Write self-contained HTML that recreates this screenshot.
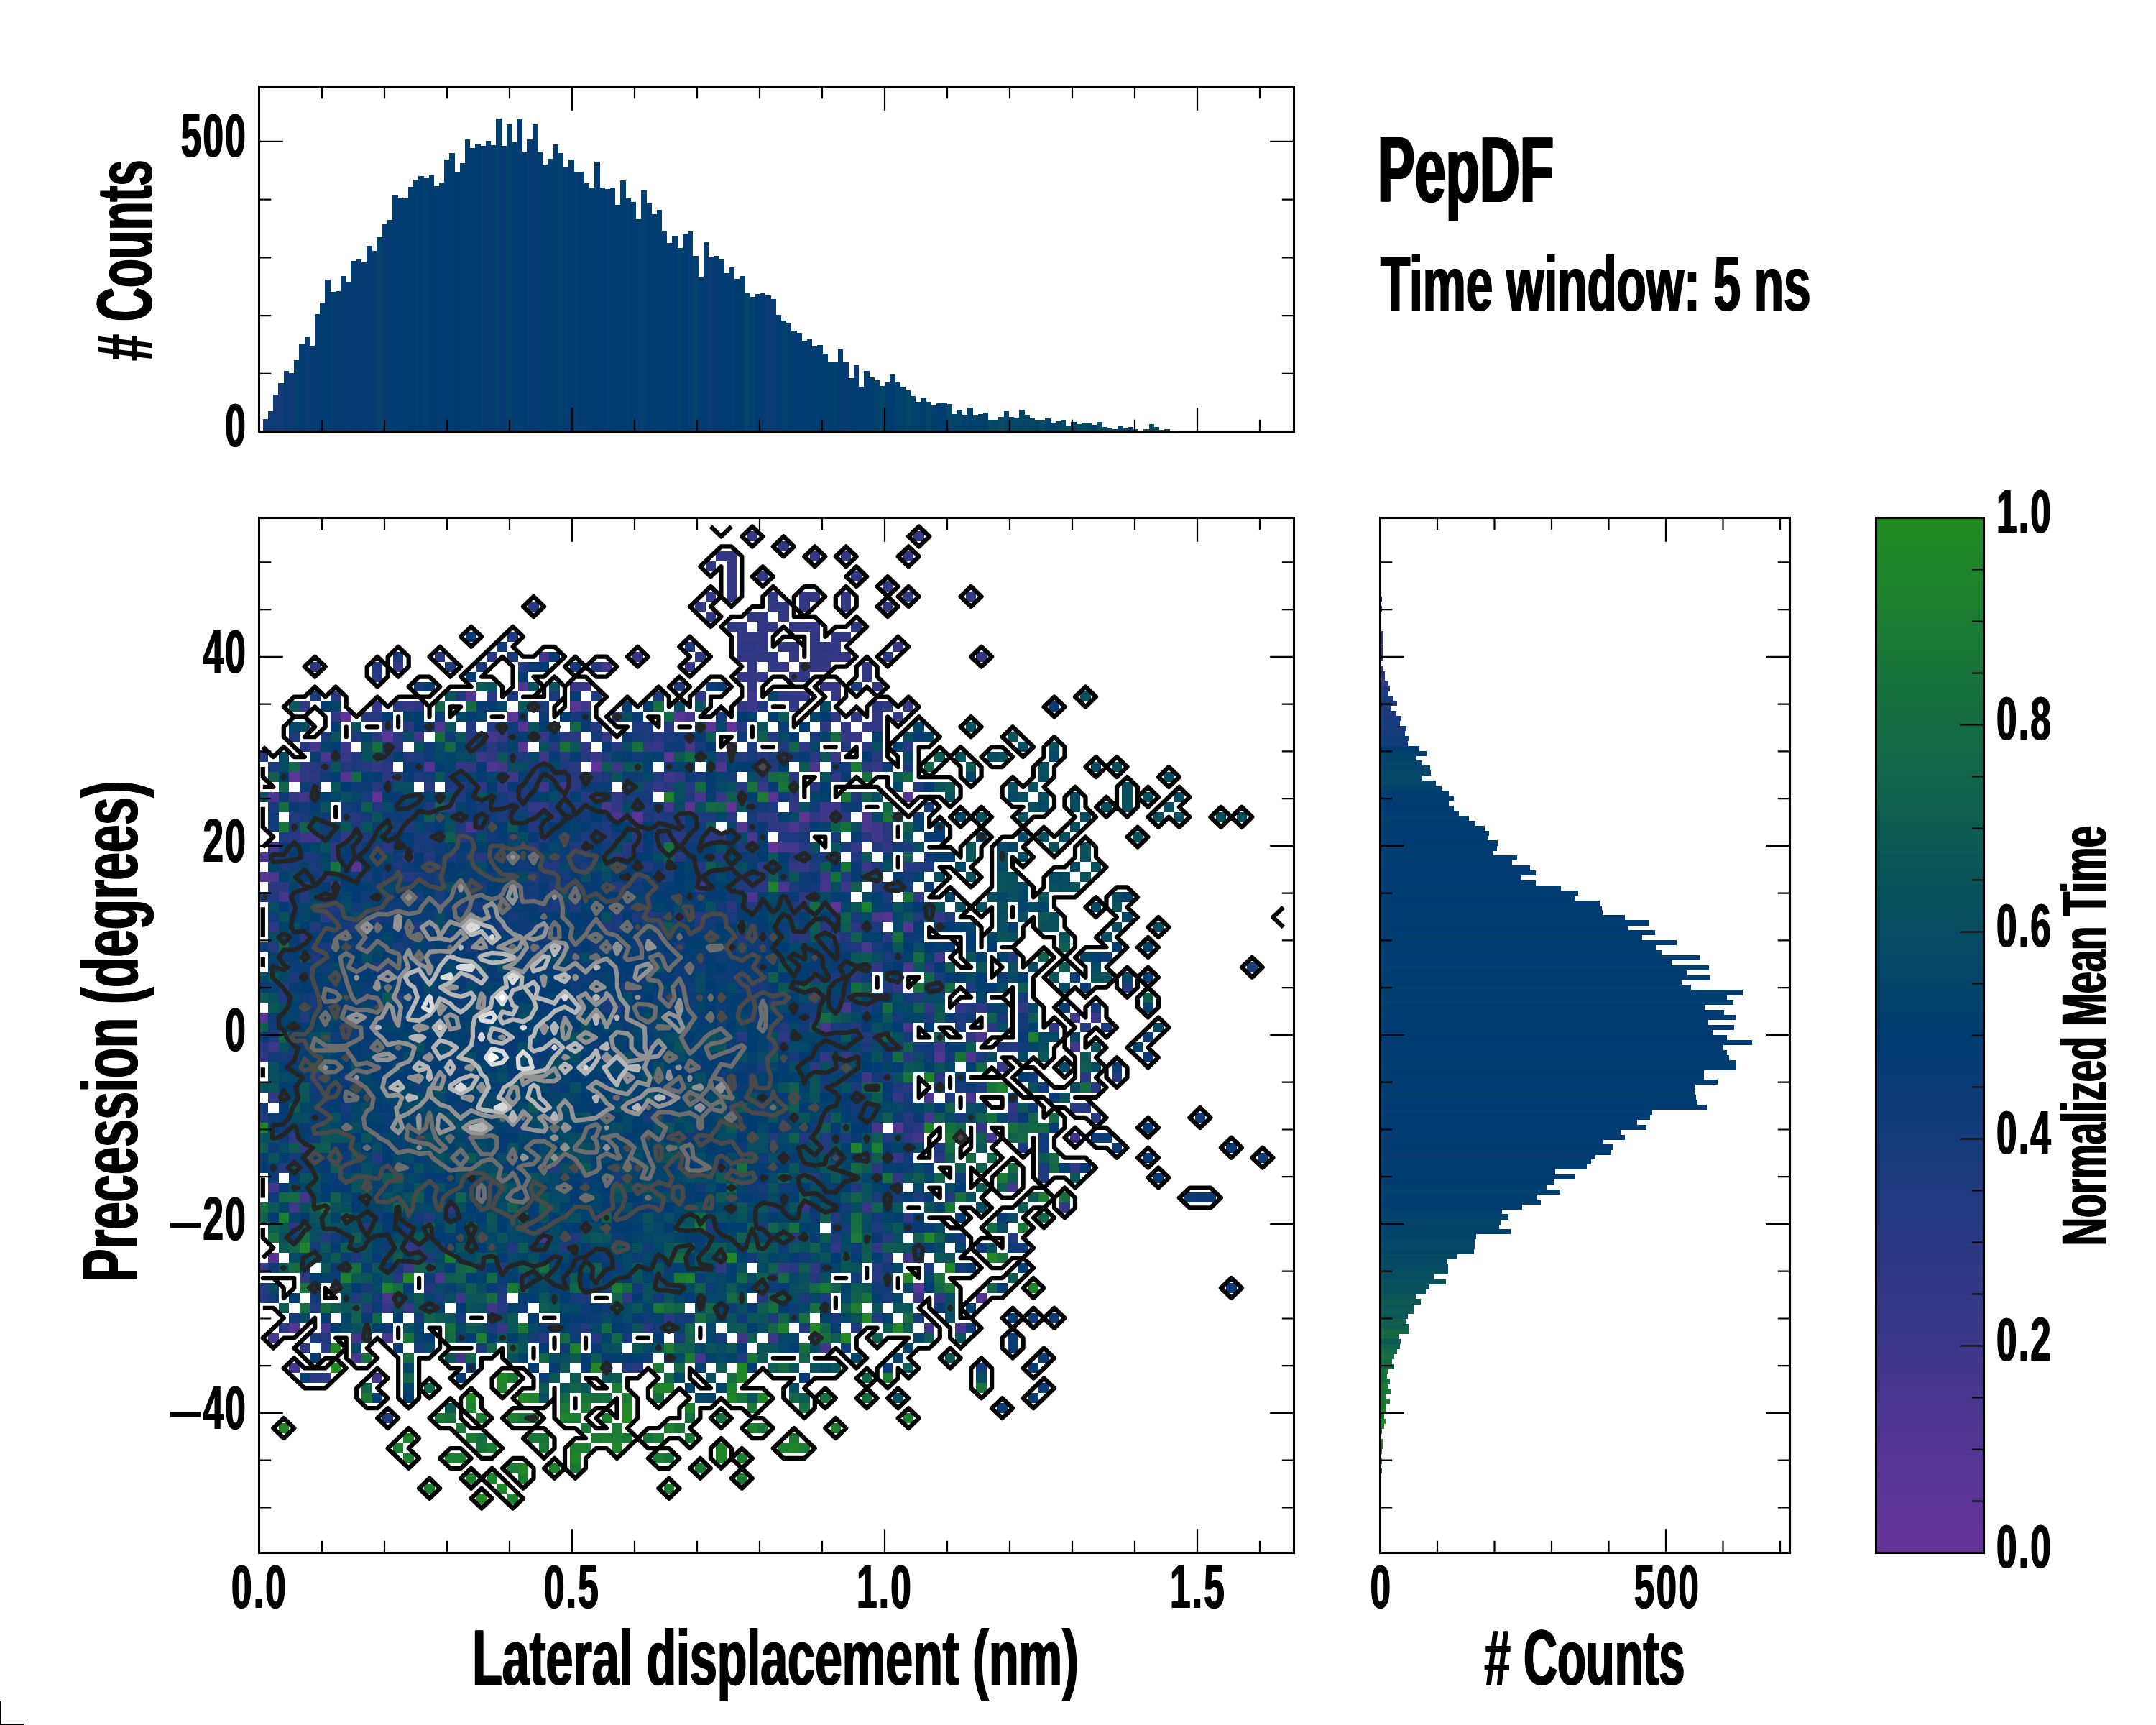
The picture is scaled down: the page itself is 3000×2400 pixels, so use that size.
<!DOCTYPE html>
<html><head><meta charset="utf-8"><title>PepDF</title>
<style>
html,body{margin:0;padding:0;background:#fff;width:3000px;height:2400px;overflow:hidden}
.m{display:inline-block;transform-origin:100% 50%;transform:translate(5px,7.6px) scale(1.58,0.734)}
.t{position:absolute;font-family:"Liberation Sans", sans-serif;font-weight:bold;color:#000;white-space:nowrap;transform-origin:0 0;margin:0;padding:0}
</style></head><body>
<svg width="3000" height="2400" viewBox="0 0 3000 2400" style="position:absolute;left:0;top:0">
<defs><clipPath id="cm"><rect x="360.5" y="720.5" width="1440" height="1440"/></clipPath><clipPath id="ct"><rect x="360.5" y="120.5" width="1440" height="480"/></clipPath><clipPath id="cr"><rect x="1920.5" y="720.5" width="570" height="1440"/></clipPath><linearGradient id="cg" x1="0" y1="1" x2="0" y2="0"><stop offset="0" stop-color="#663399"/><stop offset="0.5" stop-color="#003c71"/><stop offset="1" stop-color="#228b22"/></linearGradient></defs>
<g clip-path="url(#ct)" shape-rendering="crispEdges">
<rect x="365.8" y="582.5" width="7.5" height="18" fill="#103b77"/>
<rect x="373" y="571.5" width="7.5" height="29" fill="#0c3b76"/>
<rect x="380.2" y="548.6" width="7.5" height="51.9" fill="#113a78"/>
<rect x="387.4" y="532.7" width="7.5" height="67.8" fill="#133a78"/>
<rect x="394.6" y="515.9" width="7.5" height="84.6" fill="#0a3b75"/>
<rect x="401.8" y="518.8" width="7.5" height="81.7" fill="#0e3b77"/>
<rect x="409.1" y="500.8" width="7.5" height="99.7" fill="#02406d"/>
<rect x="416.3" y="478.8" width="7.5" height="121.7" fill="#013d70"/>
<rect x="423.5" y="468.9" width="7.5" height="131.6" fill="#093b74"/>
<rect x="430.7" y="480.8" width="7.5" height="119.7" fill="#023c72"/>
<rect x="437.9" y="436.7" width="7.5" height="163.8" fill="#053c73"/>
<rect x="445.1" y="420.8" width="7.5" height="179.7" fill="#013c72"/>
<rect x="452.3" y="388.9" width="7.5" height="211.6" fill="#003c71"/>
<rect x="459.5" y="405.7" width="7.5" height="194.8" fill="#013f6e"/>
<rect x="466.7" y="404.8" width="7.5" height="195.7" fill="#063b73"/>
<rect x="473.9" y="383.7" width="7.5" height="216.8" fill="#053c73"/>
<rect x="481.1" y="391.8" width="7.5" height="208.7" fill="#023c72"/>
<rect x="488.3" y="362.8" width="7.5" height="237.7" fill="#053c73"/>
<rect x="495.6" y="360.8" width="7.5" height="239.7" fill="#043c73"/>
<rect x="502.8" y="364.5" width="7.5" height="236" fill="#013d70"/>
<rect x="510" y="341.6" width="7.5" height="258.9" fill="#073b74"/>
<rect x="517.2" y="348.9" width="7.5" height="251.6" fill="#063b73"/>
<rect x="524.4" y="329.8" width="7.5" height="270.7" fill="#03436a"/>
<rect x="531.6" y="311.8" width="7.5" height="288.7" fill="#083b74"/>
<rect x="538.8" y="305.7" width="7.5" height="294.8" fill="#053c73"/>
<rect x="546" y="271.8" width="7.5" height="328.7" fill="#003c71"/>
<rect x="553.2" y="274.7" width="7.5" height="325.8" fill="#033c72"/>
<rect x="560.4" y="275.6" width="7.5" height="324.9" fill="#003d70"/>
<rect x="567.6" y="259.6" width="7.5" height="340.9" fill="#013c71"/>
<rect x="574.8" y="250" width="7.5" height="350.5" fill="#013f6e"/>
<rect x="582.1" y="244.8" width="7.5" height="355.7" fill="#013c71"/>
<rect x="589.3" y="247.4" width="7.5" height="353.1" fill="#013f6e"/>
<rect x="596.5" y="244" width="7.5" height="356.5" fill="#003c71"/>
<rect x="603.7" y="258.5" width="7.5" height="342" fill="#013c71"/>
<rect x="610.9" y="253.8" width="7.5" height="346.7" fill="#023c72"/>
<rect x="618.1" y="221.6" width="7.5" height="378.9" fill="#003c71"/>
<rect x="625.3" y="212.7" width="7.5" height="387.8" fill="#013e6f"/>
<rect x="632.5" y="239.6" width="7.5" height="360.9" fill="#013c71"/>
<rect x="639.7" y="226.6" width="7.5" height="373.9" fill="#013e6f"/>
<rect x="646.9" y="193.8" width="7.5" height="406.7" fill="#013e6f"/>
<rect x="654.1" y="206.3" width="7.5" height="394.2" fill="#003d70"/>
<rect x="661.4" y="199.9" width="7.5" height="400.6" fill="#013c71"/>
<rect x="668.6" y="202.5" width="7.5" height="398" fill="#043c73"/>
<rect x="675.8" y="195.8" width="7.5" height="404.7" fill="#043c73"/>
<rect x="683" y="201.6" width="7.5" height="398.9" fill="#013e6f"/>
<rect x="690.2" y="164.5" width="7.5" height="436" fill="#02406d"/>
<rect x="697.4" y="203.4" width="7.5" height="397.1" fill="#083b74"/>
<rect x="704.6" y="172.7" width="7.5" height="427.8" fill="#03426b"/>
<rect x="711.8" y="197.6" width="7.5" height="402.9" fill="#013c72"/>
<rect x="719" y="165.7" width="7.5" height="434.8" fill="#033c72"/>
<rect x="726.2" y="210.6" width="7.5" height="389.9" fill="#013c71"/>
<rect x="733.4" y="193.8" width="7.5" height="406.7" fill="#073b74"/>
<rect x="740.6" y="172.7" width="7.5" height="427.8" fill="#053c73"/>
<rect x="747.9" y="210.6" width="7.5" height="389.9" fill="#013d70"/>
<rect x="755.1" y="228.6" width="7.5" height="371.9" fill="#023c72"/>
<rect x="762.3" y="220.8" width="7.5" height="379.7" fill="#013e6f"/>
<rect x="769.5" y="201.1" width="7.5" height="399.4" fill="#013c71"/>
<rect x="776.7" y="212.7" width="7.5" height="387.8" fill="#02406d"/>
<rect x="783.9" y="232.4" width="7.5" height="368.1" fill="#053c73"/>
<rect x="791.1" y="221.9" width="7.5" height="378.6" fill="#013c71"/>
<rect x="798.3" y="238.5" width="7.5" height="362" fill="#043c73"/>
<rect x="805.5" y="238.5" width="7.5" height="362" fill="#023c72"/>
<rect x="812.7" y="254.7" width="7.5" height="345.8" fill="#013e6f"/>
<rect x="819.9" y="261.4" width="7.5" height="339.1" fill="#013e6f"/>
<rect x="827.1" y="224.8" width="7.5" height="375.7" fill="#013c71"/>
<rect x="834.4" y="260.8" width="7.5" height="339.7" fill="#013d70"/>
<rect x="841.6" y="263.4" width="7.5" height="337.1" fill="#073b74"/>
<rect x="848.8" y="260.8" width="7.5" height="339.7" fill="#033c72"/>
<rect x="856" y="284.5" width="7.5" height="316" fill="#013e6f"/>
<rect x="863.2" y="250.9" width="7.5" height="349.6" fill="#013f6e"/>
<rect x="870.4" y="275.8" width="7.5" height="324.7" fill="#053c73"/>
<rect x="877.6" y="280.8" width="7.5" height="319.7" fill="#003d70"/>
<rect x="884.8" y="305.4" width="7.5" height="295.1" fill="#073b74"/>
<rect x="892" y="264.8" width="7.5" height="335.7" fill="#02406d"/>
<rect x="899.2" y="282.8" width="7.5" height="317.7" fill="#043c73"/>
<rect x="906.4" y="297.6" width="7.5" height="302.9" fill="#033c72"/>
<rect x="913.6" y="291.8" width="7.5" height="308.7" fill="#013e6f"/>
<rect x="920.9" y="320.8" width="7.5" height="279.7" fill="#013d70"/>
<rect x="928.1" y="337.6" width="7.5" height="262.9" fill="#043c73"/>
<rect x="935.3" y="327.7" width="7.5" height="272.8" fill="#013c72"/>
<rect x="942.5" y="345.4" width="7.5" height="255.1" fill="#02416c"/>
<rect x="949.7" y="325.7" width="7.5" height="274.8" fill="#003c71"/>
<rect x="956.9" y="321.6" width="7.5" height="278.9" fill="#073b74"/>
<rect x="964.1" y="355.8" width="7.5" height="244.7" fill="#03436a"/>
<rect x="971.3" y="385.4" width="7.5" height="215.1" fill="#003d70"/>
<rect x="978.5" y="336.7" width="7.5" height="263.8" fill="#033c72"/>
<rect x="985.7" y="357.6" width="7.5" height="242.9" fill="#0a3b75"/>
<rect x="992.9" y="355.8" width="7.5" height="244.7" fill="#063b73"/>
<rect x="1000.2" y="360.8" width="7.5" height="239.7" fill="#043c73"/>
<rect x="1007.4" y="379.6" width="7.5" height="220.9" fill="#013c72"/>
<rect x="1014.6" y="371.8" width="7.5" height="228.7" fill="#053c73"/>
<rect x="1021.8" y="387.7" width="7.5" height="212.8" fill="#013c71"/>
<rect x="1029" y="383.7" width="7.5" height="216.8" fill="#013c71"/>
<rect x="1036.2" y="407.7" width="7.5" height="192.8" fill="#034469"/>
<rect x="1043.4" y="412.7" width="7.5" height="187.8" fill="#02406d"/>
<rect x="1050.6" y="408.6" width="7.5" height="191.9" fill="#003c71"/>
<rect x="1057.8" y="407.7" width="7.5" height="192.8" fill="#033c72"/>
<rect x="1065" y="410.6" width="7.5" height="189.9" fill="#0a3b75"/>
<rect x="1072.2" y="415.6" width="7.5" height="184.9" fill="#093b74"/>
<rect x="1079.4" y="437.6" width="7.5" height="162.9" fill="#003c71"/>
<rect x="1086.7" y="445.7" width="7.5" height="154.8" fill="#02406d"/>
<rect x="1093.9" y="448.6" width="7.5" height="151.9" fill="#013f6e"/>
<rect x="1101.1" y="459.6" width="7.5" height="140.9" fill="#043c73"/>
<rect x="1108.3" y="462.8" width="7.5" height="137.7" fill="#023c72"/>
<rect x="1115.5" y="473.5" width="7.5" height="127" fill="#003d70"/>
<rect x="1122.7" y="471.5" width="7.5" height="129" fill="#053c73"/>
<rect x="1129.9" y="481.7" width="7.5" height="118.8" fill="#013e6f"/>
<rect x="1137.1" y="479.6" width="7.5" height="120.9" fill="#003d70"/>
<rect x="1144.3" y="491.8" width="7.5" height="108.7" fill="#013f6e"/>
<rect x="1151.5" y="503.7" width="7.5" height="96.8" fill="#013f6e"/>
<rect x="1158.7" y="503.7" width="7.5" height="96.8" fill="#013f6e"/>
<rect x="1165.9" y="485.7" width="7.5" height="114.8" fill="#033c72"/>
<rect x="1173.2" y="503.7" width="7.5" height="96.8" fill="#063b74"/>
<rect x="1180.4" y="525.7" width="7.5" height="74.8" fill="#013e6f"/>
<rect x="1187.6" y="507.7" width="7.5" height="92.8" fill="#033c72"/>
<rect x="1194.8" y="537.6" width="7.5" height="62.9" fill="#023c72"/>
<rect x="1202" y="515.9" width="7.5" height="84.6" fill="#013e6f"/>
<rect x="1209.2" y="524.6" width="7.5" height="75.9" fill="#003d70"/>
<rect x="1216.4" y="528.6" width="7.5" height="71.9" fill="#02406d"/>
<rect x="1223.6" y="536.7" width="7.5" height="63.8" fill="#044469"/>
<rect x="1230.8" y="531.8" width="7.5" height="68.7" fill="#013e6f"/>
<rect x="1238" y="520.8" width="7.5" height="79.7" fill="#003c71"/>
<rect x="1245.2" y="531.8" width="7.5" height="68.7" fill="#02406d"/>
<rect x="1252.5" y="537.6" width="7.5" height="62.9" fill="#02406d"/>
<rect x="1259.7" y="542.8" width="7.5" height="57.7" fill="#044568"/>
<rect x="1266.9" y="550.6" width="7.5" height="49.9" fill="#03426b"/>
<rect x="1274.1" y="558.8" width="7.5" height="41.7" fill="#02406d"/>
<rect x="1281.3" y="553.5" width="7.5" height="47" fill="#013f6e"/>
<rect x="1288.5" y="558.8" width="7.5" height="41.7" fill="#044568"/>
<rect x="1295.7" y="563.7" width="7.5" height="36.8" fill="#013f6e"/>
<rect x="1302.9" y="560.8" width="7.5" height="39.7" fill="#003d70"/>
<rect x="1310.1" y="559.9" width="7.5" height="40.6" fill="#023c72"/>
<rect x="1317.3" y="561.7" width="7.5" height="38.8" fill="#044568"/>
<rect x="1324.5" y="575.6" width="7.5" height="24.9" fill="#03426b"/>
<rect x="1331.7" y="569.8" width="7.5" height="30.7" fill="#044469"/>
<rect x="1339" y="577.1" width="7.5" height="23.4" fill="#02406d"/>
<rect x="1346.2" y="567.4" width="7.5" height="33.1" fill="#013f6e"/>
<rect x="1353.4" y="577.9" width="7.5" height="22.6" fill="#02416c"/>
<rect x="1360.6" y="575.5" width="7.5" height="25" fill="#03426b"/>
<rect x="1367.8" y="573.9" width="7.5" height="26.6" fill="#02406d"/>
<rect x="1375" y="583.6" width="7.5" height="16.9" fill="#054964"/>
<rect x="1382.2" y="583.6" width="7.5" height="16.9" fill="#054865"/>
<rect x="1389.4" y="579.5" width="7.5" height="21" fill="#074d60"/>
<rect x="1396.6" y="572.3" width="7.5" height="28.2" fill="#044568"/>
<rect x="1403.8" y="579.5" width="7.5" height="21" fill="#044667"/>
<rect x="1411" y="581.1" width="7.5" height="19.4" fill="#054865"/>
<rect x="1418.2" y="569.8" width="7.5" height="30.7" fill="#044667"/>
<rect x="1425.5" y="577.1" width="7.5" height="23.4" fill="#064964"/>
<rect x="1432.7" y="581.9" width="7.5" height="18.6" fill="#044568"/>
<rect x="1439.9" y="585.2" width="7.5" height="15.3" fill="#03436a"/>
<rect x="1447.1" y="585.2" width="7.5" height="15.3" fill="#074d60"/>
<rect x="1454.3" y="581.9" width="7.5" height="18.6" fill="#03436a"/>
<rect x="1461.5" y="587.6" width="7.5" height="12.9" fill="#02426b"/>
<rect x="1468.7" y="586" width="7.5" height="14.5" fill="#044469"/>
<rect x="1475.9" y="583.6" width="7.5" height="16.9" fill="#064b62"/>
<rect x="1483.1" y="591.6" width="7.5" height="8.9" fill="#08505d"/>
<rect x="1490.3" y="586.8" width="7.5" height="13.7" fill="#02416c"/>
<rect x="1497.5" y="590" width="7.5" height="10.5" fill="#064a63"/>
<rect x="1504.7" y="587.6" width="7.5" height="12.9" fill="#064b62"/>
<rect x="1512" y="587.6" width="7.5" height="12.9" fill="#044667"/>
<rect x="1519.2" y="590.8" width="7.5" height="9.7" fill="#013c71"/>
<rect x="1526.4" y="586.8" width="7.5" height="13.7" fill="#064a63"/>
<rect x="1533.6" y="594" width="7.5" height="6.5" fill="#074d60"/>
<rect x="1540.8" y="594.9" width="7.5" height="5.6" fill="#064a63"/>
<rect x="1548" y="597.3" width="7.5" height="3.2" fill="#03426b"/>
<rect x="1555.2" y="591.6" width="7.5" height="8.9" fill="#054865"/>
<rect x="1562.4" y="595.7" width="7.5" height="4.8" fill="#064a63"/>
<rect x="1569.6" y="594" width="7.5" height="6.5" fill="#0a3b75"/>
<rect x="1576.8" y="597.3" width="7.5" height="3.2" fill="#074c61"/>
<rect x="1584" y="599.7" width="7.5" height="0.8" fill="#064964"/>
<rect x="1591.3" y="597.3" width="7.5" height="3.2" fill="#0e5c51"/>
<rect x="1598.5" y="590" width="7.5" height="10.5" fill="#074b62"/>
<rect x="1605.7" y="594" width="7.5" height="6.5" fill="#084f5e"/>
<rect x="1612.9" y="598.1" width="7.5" height="2.4" fill="#116449"/>
<rect x="1620.1" y="597.3" width="7.5" height="3.2" fill="#044667"/>
<rect x="1627.3" y="599.7" width="7.5" height="0.8" fill="#0d5954"/>
<rect x="1634.5" y="599.7" width="7.5" height="0.8" fill="#02426b"/>
<rect x="1641.7" y="599.7" width="7.5" height="0.8" fill="#02406d"/>
<rect x="1648.9" y="598.9" width="7.5" height="1.6" fill="#044667"/>
<rect x="1656.1" y="599.7" width="7.5" height="0.8" fill="#08505d"/>
<rect x="1663.3" y="598.9" width="7.5" height="1.6" fill="#0a3b75"/>
<rect x="1670.5" y="599.7" width="7.5" height="0.8" fill="#0d5a53"/>
<rect x="1677.8" y="599.7" width="7.5" height="0.8" fill="#02416c"/>
<rect x="1692.2" y="599.7" width="7.5" height="0.8" fill="#09515c"/>
<rect x="1713.8" y="599.7" width="7.5" height="0.8" fill="#013f6e"/>
<rect x="1721" y="599.7" width="7.5" height="0.8" fill="#0a5459"/>
<rect x="1749.8" y="599.7" width="7.5" height="0.8" fill="#0b5558"/>
<rect x="1793.1" y="599.7" width="7.5" height="0.8" fill="#0c5855"/>
</g>
<g clip-path="url(#cr)" shape-rendering="crispEdges">
<rect x="1920.5" y="718.6" width="0.8" height="7.2" fill="#2c3882"/>
<rect x="1920.5" y="815.6" width="0.8" height="7.2" fill="#2a3881"/>
<rect x="1920.5" y="829.5" width="2.4" height="7.2" fill="#1d397c"/>
<rect x="1920.5" y="843.4" width="2.4" height="7.2" fill="#2c3882"/>
<rect x="1920.5" y="850.3" width="1.6" height="7.2" fill="#2e3883"/>
<rect x="1920.5" y="864.2" width="1.6" height="7.2" fill="#283881"/>
<rect x="1920.5" y="878.1" width="4" height="7.2" fill="#313884"/>
<rect x="1920.5" y="885" width="4.8" height="7.2" fill="#313884"/>
<rect x="1920.5" y="891.9" width="4.8" height="7.2" fill="#293881"/>
<rect x="1920.5" y="898.9" width="3.2" height="7.2" fill="#283881"/>
<rect x="1920.5" y="905.8" width="3.2" height="7.2" fill="#2e3883"/>
<rect x="1920.5" y="912.7" width="4" height="7.2" fill="#24397f"/>
<rect x="1920.5" y="919.7" width="1.6" height="7.2" fill="#353786"/>
<rect x="1920.5" y="926.6" width="3.2" height="7.2" fill="#343785"/>
<rect x="1920.5" y="933.5" width="6.4" height="7.2" fill="#23397f"/>
<rect x="1920.5" y="940.5" width="6.4" height="7.2" fill="#2f3883"/>
<rect x="1920.5" y="947.4" width="11.9" height="7.2" fill="#383787"/>
<rect x="1920.5" y="954.3" width="13.5" height="7.2" fill="#1e397d"/>
<rect x="1920.5" y="961.3" width="11.1" height="7.2" fill="#1f397d"/>
<rect x="1920.5" y="968.2" width="18.3" height="7.2" fill="#153a79"/>
<rect x="1920.5" y="975.2" width="23.1" height="7.2" fill="#1c397c"/>
<rect x="1920.5" y="982.1" width="14.3" height="7.2" fill="#193a7b"/>
<rect x="1920.5" y="989" width="22.3" height="7.2" fill="#1f397d"/>
<rect x="1920.5" y="996" width="29.4" height="7.2" fill="#173a7a"/>
<rect x="1920.5" y="1002.9" width="27" height="7.2" fill="#183a7b"/>
<rect x="1920.5" y="1009.8" width="36.6" height="7.2" fill="#173a7a"/>
<rect x="1920.5" y="1016.8" width="34.2" height="7.2" fill="#153a79"/>
<rect x="1920.5" y="1023.7" width="39.8" height="7.2" fill="#0d3b76"/>
<rect x="1920.5" y="1030.6" width="38.2" height="7.2" fill="#133a79"/>
<rect x="1920.5" y="1037.6" width="54.9" height="7.2" fill="#003c71"/>
<rect x="1920.5" y="1044.5" width="64.4" height="7.2" fill="#02416c"/>
<rect x="1920.5" y="1051.4" width="50.1" height="7.2" fill="#03436a"/>
<rect x="1920.5" y="1058.4" width="58.8" height="7.2" fill="#034469"/>
<rect x="1920.5" y="1065.3" width="69.2" height="7.2" fill="#03426b"/>
<rect x="1920.5" y="1072.2" width="70.8" height="7.2" fill="#054667"/>
<rect x="1920.5" y="1079.2" width="58.8" height="7.2" fill="#044568"/>
<rect x="1920.5" y="1086.1" width="77.1" height="7.2" fill="#044667"/>
<rect x="1920.5" y="1093" width="85.1" height="7.2" fill="#02416c"/>
<rect x="1920.5" y="1100" width="95.4" height="7.2" fill="#013e6f"/>
<rect x="1920.5" y="1106.9" width="102.6" height="7.2" fill="#013e6f"/>
<rect x="1920.5" y="1113.8" width="95.4" height="7.2" fill="#003c71"/>
<rect x="1920.5" y="1120.8" width="102.6" height="7.2" fill="#003c71"/>
<rect x="1920.5" y="1127.7" width="109.7" height="7.2" fill="#023c72"/>
<rect x="1920.5" y="1134.7" width="123.2" height="7.2" fill="#013f6e"/>
<rect x="1920.5" y="1141.6" width="132.8" height="7.2" fill="#013d70"/>
<rect x="1920.5" y="1148.5" width="145.5" height="7.2" fill="#013d70"/>
<rect x="1920.5" y="1155.5" width="151.1" height="7.2" fill="#043c72"/>
<rect x="1920.5" y="1162.4" width="149.5" height="7.2" fill="#023c72"/>
<rect x="1920.5" y="1169.3" width="163.5" height="7.2" fill="#003c71"/>
<rect x="1920.5" y="1176.3" width="162.2" height="7.2" fill="#003d70"/>
<rect x="1920.5" y="1183.2" width="157.4" height="7.2" fill="#013e6f"/>
<rect x="1920.5" y="1190.1" width="190.4" height="7.2" fill="#003d70"/>
<rect x="1920.5" y="1197.1" width="183.6" height="7.2" fill="#043c73"/>
<rect x="1920.5" y="1204" width="208.3" height="7.2" fill="#003c71"/>
<rect x="1920.5" y="1210.9" width="216.2" height="7.2" fill="#033c72"/>
<rect x="1920.5" y="1217.9" width="196.4" height="7.2" fill="#023c72"/>
<rect x="1920.5" y="1224.8" width="216.2" height="7.2" fill="#023c72"/>
<rect x="1920.5" y="1231.7" width="251.2" height="7.2" fill="#013e6f"/>
<rect x="1920.5" y="1238.7" width="275.9" height="7.2" fill="#023c72"/>
<rect x="1920.5" y="1245.6" width="270.3" height="7.2" fill="#013c71"/>
<rect x="1920.5" y="1252.5" width="305.3" height="7.2" fill="#003c71"/>
<rect x="1920.5" y="1259.5" width="308.1" height="7.2" fill="#013d70"/>
<rect x="1920.5" y="1266.4" width="309.3" height="7.2" fill="#013c71"/>
<rect x="1920.5" y="1273.3" width="340.3" height="7.2" fill="#033c72"/>
<rect x="1920.5" y="1280.3" width="373.3" height="7.2" fill="#003d70"/>
<rect x="1920.5" y="1287.2" width="345.8" height="7.2" fill="#003c71"/>
<rect x="1920.5" y="1294.2" width="382.2" height="7.2" fill="#003c71"/>
<rect x="1920.5" y="1301.1" width="364.6" height="7.2" fill="#013e6f"/>
<rect x="1920.5" y="1308" width="412.2" height="7.2" fill="#033c72"/>
<rect x="1920.5" y="1315" width="383.5" height="7.2" fill="#013c71"/>
<rect x="1920.5" y="1321.9" width="391.1" height="7.2" fill="#013d70"/>
<rect x="1920.5" y="1328.8" width="444.2" height="7.2" fill="#043c73"/>
<rect x="1920.5" y="1335.8" width="405.2" height="7.2" fill="#033c72"/>
<rect x="1920.5" y="1342.7" width="457.1" height="7.2" fill="#013f6e"/>
<rect x="1920.5" y="1349.6" width="427.5" height="7.2" fill="#033c72"/>
<rect x="1920.5" y="1356.6" width="459.2" height="7.2" fill="#003c71"/>
<rect x="1920.5" y="1363.5" width="419.8" height="7.2" fill="#003d70"/>
<rect x="1920.5" y="1370.4" width="432.2" height="7.2" fill="#013f6e"/>
<rect x="1920.5" y="1377.4" width="504.3" height="7.2" fill="#013e6f"/>
<rect x="1920.5" y="1384.3" width="482.3" height="7.2" fill="#013c72"/>
<rect x="1920.5" y="1391.2" width="491.2" height="7.2" fill="#013f6e"/>
<rect x="1920.5" y="1398.2" width="451.4" height="7.2" fill="#013e6f"/>
<rect x="1920.5" y="1405.1" width="478.1" height="7.2" fill="#033c72"/>
<rect x="1920.5" y="1412" width="494.3" height="7.2" fill="#023c72"/>
<rect x="1920.5" y="1419" width="456.3" height="7.2" fill="#013e6f"/>
<rect x="1920.5" y="1425.9" width="492.1" height="7.2" fill="#033c72"/>
<rect x="1920.5" y="1432.9" width="462.5" height="7.2" fill="#013e6f"/>
<rect x="1920.5" y="1439.8" width="482.3" height="7.2" fill="#003c71"/>
<rect x="1920.5" y="1446.7" width="517.4" height="7.2" fill="#033c72"/>
<rect x="1920.5" y="1453.7" width="477.3" height="7.2" fill="#023c72"/>
<rect x="1920.5" y="1460.6" width="482.3" height="7.2" fill="#013d70"/>
<rect x="1920.5" y="1467.5" width="485.3" height="7.2" fill="#033c72"/>
<rect x="1920.5" y="1474.5" width="495.1" height="7.2" fill="#013d70"/>
<rect x="1920.5" y="1481.4" width="495.1" height="7.2" fill="#003d70"/>
<rect x="1920.5" y="1488.3" width="450.3" height="7.2" fill="#003c71"/>
<rect x="1920.5" y="1495.3" width="450.3" height="7.2" fill="#013d70"/>
<rect x="1920.5" y="1502.2" width="469.2" height="7.2" fill="#013d70"/>
<rect x="1920.5" y="1509.1" width="438" height="7.2" fill="#003c71"/>
<rect x="1920.5" y="1516.1" width="437.5" height="7.2" fill="#023c72"/>
<rect x="1920.5" y="1523" width="439.5" height="7.2" fill="#013f6e"/>
<rect x="1920.5" y="1529.9" width="441.1" height="7.2" fill="#003c71"/>
<rect x="1920.5" y="1536.9" width="454.2" height="7.2" fill="#003c71"/>
<rect x="1920.5" y="1543.8" width="378.3" height="7.2" fill="#043c73"/>
<rect x="1920.5" y="1550.7" width="375.2" height="7.2" fill="#003c71"/>
<rect x="1920.5" y="1557.7" width="357.4" height="7.2" fill="#003d70"/>
<rect x="1920.5" y="1564.6" width="370.2" height="7.2" fill="#003c71"/>
<rect x="1920.5" y="1571.5" width="334.5" height="7.2" fill="#033c72"/>
<rect x="1920.5" y="1578.5" width="340.3" height="7.2" fill="#063b73"/>
<rect x="1920.5" y="1585.4" width="310.4" height="7.2" fill="#023c72"/>
<rect x="1920.5" y="1592.4" width="323.4" height="7.2" fill="#013c71"/>
<rect x="1920.5" y="1599.3" width="321.5" height="7.2" fill="#013c71"/>
<rect x="1920.5" y="1606.2" width="299.5" height="7.2" fill="#073b74"/>
<rect x="1920.5" y="1613.2" width="293.4" height="7.2" fill="#013e6f"/>
<rect x="1920.5" y="1620.1" width="287.2" height="7.2" fill="#013e6f"/>
<rect x="1920.5" y="1627" width="243.3" height="7.2" fill="#013e6f"/>
<rect x="1920.5" y="1634" width="271.4" height="7.2" fill="#003d70"/>
<rect x="1920.5" y="1640.9" width="241.4" height="7.2" fill="#003c71"/>
<rect x="1920.5" y="1647.8" width="231.3" height="7.2" fill="#013f6e"/>
<rect x="1920.5" y="1654.8" width="250.3" height="7.2" fill="#02406d"/>
<rect x="1920.5" y="1661.7" width="218.2" height="7.2" fill="#013f6e"/>
<rect x="1920.5" y="1668.6" width="223.2" height="7.2" fill="#013e6f"/>
<rect x="1920.5" y="1675.6" width="197.4" height="7.2" fill="#013e6f"/>
<rect x="1920.5" y="1682.5" width="169.6" height="7.2" fill="#02406d"/>
<rect x="1920.5" y="1689.4" width="178.5" height="7.2" fill="#02406d"/>
<rect x="1920.5" y="1696.4" width="167" height="7.2" fill="#044469"/>
<rect x="1920.5" y="1703.3" width="165.4" height="7.2" fill="#03436a"/>
<rect x="1920.5" y="1710.2" width="181.5" height="7.2" fill="#02426b"/>
<rect x="1920.5" y="1717.2" width="133.4" height="7.2" fill="#03436a"/>
<rect x="1920.5" y="1724.1" width="131.4" height="7.2" fill="#044667"/>
<rect x="1920.5" y="1731.1" width="131.4" height="7.2" fill="#054766"/>
<rect x="1920.5" y="1738" width="130.3" height="7.2" fill="#034469"/>
<rect x="1920.5" y="1744.9" width="106.4" height="7.2" fill="#064b62"/>
<rect x="1920.5" y="1751.9" width="92.5" height="7.2" fill="#054766"/>
<rect x="1920.5" y="1758.8" width="94.4" height="7.2" fill="#064a63"/>
<rect x="1920.5" y="1765.7" width="94.4" height="7.2" fill="#084f5e"/>
<rect x="1920.5" y="1772.7" width="75.5" height="7.2" fill="#074c61"/>
<rect x="1920.5" y="1779.6" width="91.3" height="7.2" fill="#0a525b"/>
<rect x="1920.5" y="1786.5" width="68.5" height="7.2" fill="#09505d"/>
<rect x="1920.5" y="1793.5" width="63.5" height="7.2" fill="#09515c"/>
<rect x="1920.5" y="1800.4" width="49.3" height="7.2" fill="#0b5558"/>
<rect x="1920.5" y="1807.3" width="56.3" height="7.2" fill="#0d5a53"/>
<rect x="1920.5" y="1814.3" width="46.6" height="7.2" fill="#0c5756"/>
<rect x="1920.5" y="1821.2" width="46.6" height="7.2" fill="#0d5b52"/>
<rect x="1920.5" y="1828.1" width="38.5" height="7.2" fill="#0b5657"/>
<rect x="1920.5" y="1835.1" width="35.5" height="7.2" fill="#0f5e4f"/>
<rect x="1920.5" y="1842" width="39.6" height="7.2" fill="#0e5d50"/>
<rect x="1920.5" y="1848.9" width="40.5" height="7.2" fill="#146944"/>
<rect x="1920.5" y="1855.9" width="25.4" height="7.2" fill="#136944"/>
<rect x="1920.5" y="1862.8" width="28.5" height="7.2" fill="#0c5954"/>
<rect x="1920.5" y="1869.7" width="27.7" height="7.2" fill="#10624b"/>
<rect x="1920.5" y="1876.7" width="23.5" height="7.2" fill="#146b42"/>
<rect x="1920.5" y="1883.6" width="19.6" height="7.2" fill="#17703d"/>
<rect x="1920.5" y="1890.6" width="16.5" height="7.2" fill="#146a43"/>
<rect x="1920.5" y="1897.5" width="19.6" height="7.2" fill="#116449"/>
<rect x="1920.5" y="1904.4" width="10.3" height="7.2" fill="#197637"/>
<rect x="1920.5" y="1911.4" width="9.5" height="7.2" fill="#18733a"/>
<rect x="1920.5" y="1918.3" width="13.4" height="7.2" fill="#16703d"/>
<rect x="1920.5" y="1925.2" width="10.3" height="7.2" fill="#1c7c31"/>
<rect x="1920.5" y="1932.2" width="15.4" height="7.2" fill="#197637"/>
<rect x="1920.5" y="1939.1" width="7.6" height="7.2" fill="#1c7c31"/>
<rect x="1920.5" y="1946" width="13.4" height="7.2" fill="#1b7b32"/>
<rect x="1920.5" y="1953" width="8.4" height="7.2" fill="#187439"/>
<rect x="1920.5" y="1959.9" width="8.4" height="7.2" fill="#208726"/>
<rect x="1920.5" y="1966.8" width="5.4" height="7.2" fill="#166f3e"/>
<rect x="1920.5" y="1973.8" width="7.6" height="7.2" fill="#218a23"/>
<rect x="1920.5" y="1980.7" width="5.4" height="7.2" fill="#1f832a"/>
<rect x="1920.5" y="1987.6" width="2.4" height="7.2" fill="#208627"/>
<rect x="1920.5" y="1994.6" width="1.6" height="7.2" fill="#1c7c31"/>
<rect x="1920.5" y="2001.5" width="3.2" height="7.2" fill="#218825"/>
<rect x="1920.5" y="2008.4" width="3.2" height="7.2" fill="#1e812c"/>
<rect x="1920.5" y="2015.4" width="2.4" height="7.2" fill="#1e822b"/>
<rect x="1920.5" y="2022.3" width="1.6" height="7.2" fill="#1b7a33"/>
<rect x="1920.5" y="2029.3" width="2.4" height="7.2" fill="#218825"/>
<rect x="1920.5" y="2036.2" width="0.8" height="7.2" fill="#1d7f2e"/>
<rect x="1920.5" y="2043.1" width="2.4" height="7.2" fill="#17723b"/>
<rect x="1920.5" y="2050.1" width="0.8" height="7.2" fill="#208627"/>
<rect x="1920.5" y="2063.9" width="0.8" height="7.2" fill="#1d802d"/>
<rect x="1920.5" y="2091.7" width="0.8" height="7.2" fill="#208528"/>
</g>
<g clip-path="url(#cm)"><g shape-rendering="crispEdges" transform="translate(358.56,2105.57) scale(14.490,-13.940)">
<path fill="#623397" d="M49 66h1v1h-1zM52 69h1v1h-1zM45 70h1v1h-1zM11 71h1v1h-1zM32 74h1v1h-1zM45 78h1v1h-1zM8 79h1v1h-1z"/>
<path fill="#5e3496" d="M55 60h1v1h-1zM36 69h1v1h-1zM41 70h1v1h-1zM3 73h1v1h-1zM39 75h1v1h-1zM12 77h1v1h-1zM24 79h1v1h-1z"/>
<path fill="#593494" d="M63 22h1v1h-1zM0 49h1v1h-1zM9 64h1v1h-1zM43 78h1v1h-1zM40 79h1v1h-1zM30 80h1v1h-1z"/>
<path fill="#553492" d="M3 18h1v1h-1zM69 21h1v1h-1zM1 25h1v1h-1zM0 63h1v1h-1zM49 71h1v1h-1zM62 71h1v1h-1zM25 76h1v1h-1zM25 78h1v1h-1z"/>
<path fill="#513591" d="M61 38h1v1h-1zM65 45h1v1h-1zM62 58h1v1h-1zM60 59h1v1h-1zM46 68h1v1h-1zM8 73h1v1h-1zM16 74h1v1h-1zM17 78h1v1h-1zM20 81h1v1h-1zM25 82h1v1h-1z"/>
<path fill="#4c358f" d="M1 17h1v1h-1zM67 18h1v1h-1zM17 23h1v1h-1zM70 37h1v1h-1zM64 41h1v1h-1zM68 45h1v1h-1zM69 47h1v1h-1zM62 48h1v1h-1zM62 54h1v1h-1zM47 61h1v1h-1zM50 62h1v1h-1zM0 65h1v1h-1zM20 68h1v1h-1zM58 68h1v1h-1zM34 69h1v1h-1zM58 69h1v1h-1zM1 71h1v1h-1zM22 74h1v1h-1zM44 74h1v1h-1z"/>
<path fill="#48368d" d="M9 15h1v1h-1zM12 17h1v1h-1zM12 21h1v1h-1zM68 41h1v1h-1zM54 48h1v1h-1zM56 50h1v1h-1zM58 56h1v1h-1zM59 59h1v1h-1zM1 63h1v1h-1zM47 67h1v1h-1zM51 68h1v1h-1zM33 70h1v1h-1zM53 74h1v1h-1zM6 75h1v1h-1zM41 76h1v1h-1z"/>
<path fill="#44368c" d="M42 15h1v1h-1zM4 31h1v1h-1zM72 32h1v1h-1zM59 38h1v1h-1zM64 39h1v1h-1zM65 55h1v1h-1zM2 61h1v1h-1zM54 62h1v1h-1zM50 66h2v1h-2zM39 70h1v1h-1zM42 71h1v1h-1zM5 76h1v1h-1zM22 77h1v1h-1zM41 79h1v1h-1zM27 85h1v1h-1z"/>
<path fill="#40368a" d="M19 15h1v1h-1zM54 16h1v1h-1zM9 17h1v1h-1zM46 17h1v1h-1zM6 18h1v1h-1zM27 27h1v1h-1zM3 30h1v1h-1zM1 32h1v1h-1zM63 37h1v1h-1zM78 37h1v1h-1zM58 43h1v1h-1zM65 46h1v1h-1zM78 46h1v1h-1zM78 49h1v1h-1zM7 62h1v1h-1zM42 62h1v1h-1zM1 66h1v1h-1zM59 67h1v1h-1zM54 69h1v1h-1zM54 70h2v1h-2zM4 71h1v1h-1zM27 72h1v1h-1zM29 72h1v1h-1zM24 73h1v1h-1zM39 73h1v1h-1zM23 74h1v1h-1zM27 75h1v1h-1zM15 77h1v1h-1zM47 80h1v1h-1zM47 81h1v1h-1z"/>
<path fill="#3c3788" d="M11 13h1v1h-1zM3 14h1v1h-1zM49 17h1v1h-1zM64 18h1v1h-1zM22 20h1v1h-1zM19 21h1v1h-1zM14 24h1v1h-1zM62 25h1v1h-1zM1 46h1v1h-1zM80 49h1v1h-1zM56 62h1v1h-1zM54 63h1v1h-1zM58 64h1v1h-1zM4 67h2v1h-2zM59 68h1v1h-1zM34 74h1v1h-1zM21 75h1v1h-1zM55 75h1v1h-1zM8 76h1v1h-1zM33 77h1v1h-1zM31 80h1v1h-1zM33 84h1v1h-1z"/>
<path fill="#373787" d="M23 18h1v1h-1zM12 20h1v1h-1zM14 20h1v1h-1zM63 21h1v1h-1zM52 30h1v1h-1zM58 30h1v1h-1zM71 44h1v1h-1zM56 45h1v1h-1zM67 50h1v1h-1zM4 62h1v1h-1zM52 64h1v1h-1zM57 66h1v1h-1zM36 68h1v1h-1zM26 70h1v1h-1zM44 71h1v1h-1zM38 72h1v1h-1zM48 72h1v1h-1zM59 74h1v1h-1zM8 75h1v1h-1zM32 75h1v1h-1zM38 76h1v1h-1zM23 77h1v1h-1zM27 77h1v1h-1zM57 77h1v1h-1zM11 80h1v1h-1zM30 82h2v1h-2zM54 82h2v1h-2zM48 83h1v1h-1zM13 84h1v1h-1zM36 85h1v1h-1zM55 85h1v1h-1zM61 86h1v1h-1zM53 88h1v1h-1z"/>
<path fill="#333885" d="M0 24h1v1h-1zM44 24h1v1h-1zM50 24h1v1h-1zM53 24h1v1h-1zM14 26h1v1h-1zM55 26h1v1h-1zM78 34h1v1h-1zM61 35h1v1h-1zM4 36h1v1h-1zM69 38h1v1h-1zM72 40h1v1h-1zM1 41h1v1h-1zM61 41h1v1h-1zM0 45h1v1h-1zM54 45h1v1h-1zM64 50h1v1h-1zM61 52h1v1h-1zM59 54h1v1h-1zM65 59h1v1h-1zM52 61h1v1h-1zM51 64h1v1h-1zM14 65h1v1h-1zM31 66h1v1h-1zM60 66h1v1h-1zM8 67h1v1h-1zM49 68h2v1h-2zM49 69h1v1h-1zM53 69h1v1h-1zM18 70h1v1h-1zM27 70h1v1h-1zM34 70h1v1h-1zM51 70h1v1h-1zM3 71h1v1h-1zM34 71h1v1h-1zM23 72h1v1h-1zM40 73h1v1h-1zM11 74h1v1h-1zM19 74h1v1h-1zM56 77h1v1h-1zM56 78h1v1h-1zM58 78h2v1h-2zM7 79h1v1h-1zM57 79h1v1h-1zM59 79h1v1h-1zM14 80h1v1h-1zM46 80h1v1h-1zM62 80h1v1h-1zM51 81h2v1h-2zM55 81h1v1h-1zM47 82h1v1h-1zM46 83h2v1h-2zM51 83h1v1h-1zM58 83h1v1h-1zM41 84h1v1h-1zM50 84h1v1h-1zM52 84h3v1h-3zM42 85h1v1h-1zM46 85h2v1h-2zM51 85h1v1h-1zM53 85h2v1h-2zM56 85h1v1h-1zM69 85h1v1h-1zM48 86h1v1h-1zM50 86h1v1h-1zM53 86h1v1h-1zM55 86h1v1h-1zM46 87h3v1h-3zM53 87h1v1h-1zM56 87h1v1h-1zM46 88h1v1h-1zM48 88h2v1h-2zM51 88h2v1h-2zM48 89h1v1h-1zM50 89h1v1h-1zM42 90h1v1h-1zM49 90h2v1h-2zM52 90h1v1h-1zM56 90h1v1h-1zM60 90h1v1h-1zM43 91h1v1h-1zM52 91h2v1h-2zM56 91h1v1h-1zM62 91h1v1h-1zM45 92h1v1h-1zM60 92h1v1h-1zM45 93h1v1h-1zM48 93h1v1h-1zM45 94h1v1h-1zM44 95h2v1h-2zM53 95h1v1h-1zM56 95h1v1h-1zM50 96h1v1h-1zM47 97h1v1h-1zM63 97h1v1h-1z"/>
<path fill="#2f3883" d="M6 13h1v1h-1zM4 16h1v1h-1zM2 18h1v1h-1zM35 21h1v1h-1zM65 21h1v1h-1zM4 23h1v1h-1zM59 26h1v1h-1zM62 29h1v1h-1zM18 30h1v1h-1zM77 30h1v1h-1zM61 33h1v1h-1zM3 37h1v1h-1zM62 37h1v1h-1zM53 44h1v1h-1zM50 47h1v1h-1zM68 47h1v1h-1zM76 48h1v1h-1zM69 50h1v1h-1zM73 50h1v1h-1zM55 57h1v1h-1zM1 58h1v1h-1zM6 59h1v1h-1zM63 61h1v1h-1zM48 64h1v1h-1zM7 65h1v1h-1zM34 65h1v1h-1zM7 66h1v1h-1zM52 68h1v1h-1zM48 69h1v1h-1zM46 71h1v1h-1zM21 72h1v1h-1zM4 73h1v1h-1zM55 73h1v1h-1zM4 74h1v1h-1zM20 74h1v1h-1zM58 74h1v1h-1zM22 75h1v1h-1zM31 76h1v1h-1zM37 76h1v1h-1zM52 76h1v1h-1zM12 78h1v1h-1zM55 79h1v1h-1zM61 79h1v1h-1zM4 80h1v1h-1zM51 80h1v1h-1zM60 80h1v1h-1zM42 81h1v1h-1zM50 81h1v1h-1zM59 82h1v1h-1zM52 83h1v1h-1zM47 84h1v1h-1zM49 84h1v1h-1zM58 84h1v1h-1zM22 85h1v1h-1zM48 85h2v1h-2zM46 86h2v1h-2zM51 86h1v1h-1zM54 86h1v1h-1zM55 87h1v1h-1zM45 88h1v1h-1zM57 88h1v1h-1zM43 89h1v1h-1zM47 89h1v1h-1zM45 91h1v1h-1zM49 91h1v1h-1zM68 91h1v1h-1zM57 93h1v1h-1zM43 94h1v1h-1zM62 95h1v1h-1z"/>
<path fill="#2a3882" d="M5 13h1v1h-1zM6 16h1v1h-1zM37 18h1v1h-1zM39 19h1v1h-1zM15 26h1v1h-1zM3 28h1v1h-1zM59 34h1v1h-1zM63 38h1v1h-1zM80 39h1v1h-1zM62 42h1v1h-1zM62 45h1v1h-1zM8 48h1v1h-1zM70 48h1v1h-1zM79 48h1v1h-1zM57 53h1v1h-1zM4 57h1v1h-1zM54 58h1v1h-1zM57 58h1v1h-1zM45 60h1v1h-1zM1 62h2v1h-2zM48 62h1v1h-1zM6 63h1v1h-1zM62 64h1v1h-1zM12 66h1v1h-1zM35 66h1v1h-1zM3 67h1v1h-1zM36 67h1v1h-1zM40 67h1v1h-1zM43 67h2v1h-2zM60 67h1v1h-1zM56 69h1v1h-1zM51 71h1v1h-1zM30 72h1v1h-1zM5 73h1v1h-1zM12 73h1v1h-1zM12 74h1v1h-1zM30 74h1v1h-1zM44 75h1v1h-1zM53 75h1v1h-1zM13 76h1v1h-1zM22 76h1v1h-1zM62 76h1v1h-1zM11 77h1v1h-1zM13 77h1v1h-1zM20 77h1v1h-1zM14 78h1v1h-1zM54 78h1v1h-1zM10 79h1v1h-1zM15 80h1v1h-1zM59 80h1v1h-1zM22 81h1v1h-1zM11 83h1v1h-1zM5 84h1v1h-1zM17 85h1v1h-1zM60 85h1v1h-1z"/>
<path fill="#263980" d="M36 14h1v1h-1zM27 17h1v1h-1zM32 17h1v1h-1zM23 20h1v1h-1zM48 21h1v1h-1zM0 22h1v1h-1zM13 23h1v1h-1zM53 23h1v1h-1zM23 24h1v1h-1zM51 24h1v1h-1zM60 25h1v1h-1zM60 27h1v1h-1zM2 34h1v1h-1zM65 35h1v1h-1zM62 39h1v1h-1zM72 39h1v1h-1zM78 40h2v1h-2zM5 43h1v1h-1zM65 43h1v1h-1zM79 43h1v1h-1zM0 46h1v1h-1zM72 46h1v1h-1zM46 47h1v1h-1zM2 52h1v1h-1zM53 53h1v1h-1zM64 54h1v1h-1zM52 57h1v1h-1zM60 57h1v1h-1zM33 58h1v1h-1zM37 59h1v1h-1zM40 59h1v1h-1zM42 59h1v1h-1zM52 60h1v1h-1zM6 61h1v1h-1zM20 62h1v1h-1zM34 62h1v1h-1zM14 63h1v1h-1zM26 63h1v1h-1zM38 63h1v1h-1zM39 64h1v1h-1zM42 64h1v1h-1zM45 64h1v1h-1zM21 65h1v1h-1zM40 65h1v1h-1zM52 65h1v1h-1zM36 66h1v1h-1zM52 66h1v1h-1zM39 67h1v1h-1zM58 67h1v1h-1zM9 69h1v1h-1zM28 69h1v1h-1zM35 69h1v1h-1zM40 69h1v1h-1zM24 71h1v1h-1zM31 71h1v1h-1zM11 72h1v1h-1zM35 72h1v1h-1zM39 72h1v1h-1zM46 72h1v1h-1zM53 72h1v1h-1zM13 73h1v1h-1zM30 73h1v1h-1zM32 73h1v1h-1zM51 73h1v1h-1zM5 74h1v1h-1zM10 74h1v1h-1zM48 75h1v1h-1zM59 75h1v1h-1zM20 76h1v1h-1zM28 76h1v1h-1zM34 76h1v1h-1zM58 76h1v1h-1zM29 77h2v1h-2zM38 77h1v1h-1zM49 77h1v1h-1zM46 78h1v1h-1zM11 79h1v1h-1zM13 80h1v1h-1zM7 81h1v1h-1zM26 90h1v1h-1z"/>
<path fill="#22397e" d="M12 9h1v1h-1zM6 17h1v1h-1zM31 18h1v1h-1zM52 18h1v1h-1zM57 18h1v1h-1zM59 19h1v1h-1zM5 20h1v1h-1zM10 20h1v1h-1zM9 21h1v1h-1zM7 22h1v1h-1zM16 22h1v1h-1zM38 23h1v1h-1zM59 23h1v1h-1zM59 24h1v1h-1zM24 26h1v1h-1zM6 27h1v1h-1zM51 27h1v1h-1zM72 27h1v1h-1zM10 28h1v1h-1zM31 28h1v1h-1zM16 29h1v1h-1zM55 29h1v1h-1zM66 31h1v1h-1zM53 33h1v1h-1zM44 34h1v1h-1zM50 35h1v1h-1zM54 36h1v1h-1zM54 37h1v1h-1zM60 37h1v1h-1zM0 39h1v1h-1zM54 39h1v1h-1zM80 42h1v1h-1zM82 43h1v1h-1zM55 44h1v1h-1zM57 45h1v1h-1zM58 47h1v1h-1zM50 48h1v1h-1zM57 48h1v1h-1zM58 50h1v1h-1zM68 50h1v1h-1zM1 56h1v1h-1zM46 57h1v1h-1zM51 57h1v1h-1zM38 58h1v1h-1zM63 59h1v1h-1zM47 60h1v1h-1zM51 60h1v1h-1zM4 61h1v1h-1zM28 62h1v1h-1zM46 62h1v1h-1zM59 62h2v1h-2zM56 63h1v1h-1zM63 64h1v1h-1zM16 65h1v1h-1zM20 65h1v1h-1zM35 65h1v1h-1zM44 65h1v1h-1zM51 65h1v1h-1zM26 66h1v1h-1zM30 66h1v1h-1zM2 67h1v1h-1zM19 67h1v1h-1zM27 67h1v1h-1zM26 68h1v1h-1zM40 68h1v1h-1zM60 68h1v1h-1zM3 69h1v1h-1zM38 69h1v1h-1zM45 69h1v1h-1zM25 71h1v1h-1zM29 71h1v1h-1zM16 72h1v1h-1zM19 72h1v1h-1zM41 72h1v1h-1zM28 73h1v1h-1zM38 73h1v1h-1zM6 74h1v1h-1zM8 74h1v1h-1zM49 74h1v1h-1zM14 75h1v1h-1zM29 75h1v1h-1zM31 75h1v1h-1zM33 75h1v1h-1zM46 75h1v1h-1zM4 76h1v1h-1zM45 76h1v1h-1zM56 76h1v1h-1zM22 78h1v1h-1zM39 78h1v1h-1z"/>
<path fill="#1e397d" d="M46 15h1v1h-1zM21 16h1v1h-1zM49 19h1v1h-1zM0 21h1v1h-1zM23 21h1v1h-1zM25 23h1v1h-1zM16 25h1v1h-1zM29 26h1v1h-1zM63 26h1v1h-1zM30 27h1v1h-1zM55 27h1v1h-1zM43 28h1v1h-1zM59 28h1v1h-1zM49 30h1v1h-1zM57 32h1v1h-1zM75 33h1v1h-1zM28 34h1v1h-1zM11 35h1v1h-1zM52 37h1v1h-1zM62 38h1v1h-1zM61 42h1v1h-1zM49 46h1v1h-1zM71 46h1v1h-1zM81 48h1v1h-1zM4 49h1v1h-1zM64 49h1v1h-1zM34 50h1v1h-1zM2 51h1v1h-1zM33 51h1v1h-1zM53 51h1v1h-1zM60 52h1v1h-1zM83 52h1v1h-1zM11 54h1v1h-1zM95 54h1v1h-1zM5 55h1v1h-1zM72 55h1v1h-1zM29 56h1v1h-1zM57 56h1v1h-1zM56 57h1v1h-1zM5 58h1v1h-1zM15 58h1v1h-1zM34 58h1v1h-1zM42 58h1v1h-1zM7 60h1v1h-1zM1 61h1v1h-1zM47 62h1v1h-1zM15 63h1v1h-1zM16 64h1v1h-1zM27 64h2v1h-2zM37 64h1v1h-1zM53 64h1v1h-1zM64 64h1v1h-1zM1 65h1v1h-1zM18 65h1v1h-1zM57 65h1v1h-1zM59 66h1v1h-1zM31 67h1v1h-1zM33 67h1v1h-1zM50 67h2v1h-2zM9 68h1v1h-1zM19 68h1v1h-1zM33 68h1v1h-1zM26 69h1v1h-1zM42 69h1v1h-1zM11 70h1v1h-1zM16 70h1v1h-1zM30 70h1v1h-1zM37 70h1v1h-1zM19 71h1v1h-1zM32 71h1v1h-1zM41 71h1v1h-1zM18 72h1v1h-1zM37 72h1v1h-1zM15 73h1v1h-1zM26 73h1v1h-1zM48 73h1v1h-1zM1 74h1v1h-1zM29 74h1v1h-1zM62 74h1v1h-1zM0 75h1v1h-1zM9 75h1v1h-1zM50 76h1v1h-1zM9 77h1v1h-1zM20 78h1v1h-1zM32 78h1v1h-1zM36 78h1v1h-1zM48 80h1v1h-1zM32 81h1v1h-1zM38 81h1v1h-1zM40 82h1v1h-1zM11 84h1v1h-1zM25 84h1v1h-1zM32 84h1v1h-1zM41 86h1v1h-1zM24 87h1v1h-1z"/>
<path fill="#1a3a7b" d="M35 14h1v1h-1zM5 17h1v1h-1zM40 17h1v1h-1zM53 17h1v1h-1zM22 18h1v1h-1zM17 21h1v1h-1zM31 21h1v1h-1zM52 21h1v1h-1zM54 21h1v1h-1zM60 21h1v1h-1zM33 22h1v1h-1zM49 23h1v1h-1zM64 24h1v1h-1zM9 25h1v1h-1zM17 26h1v1h-1zM48 28h1v1h-1zM59 31h1v1h-1zM63 31h1v1h-1zM75 34h1v1h-1zM65 36h1v1h-1zM73 36h1v1h-1zM49 37h1v1h-1zM56 37h1v1h-1zM48 40h1v1h-1zM66 41h1v1h-1zM57 42h1v1h-1zM69 42h1v1h-1zM17 43h1v1h-1zM60 43h1v1h-1zM48 44h1v1h-1zM69 45h1v1h-1zM58 46h1v1h-1zM61 46h1v1h-1zM1 47h1v1h-1zM59 47h1v1h-1zM55 48h1v1h-1zM67 48h1v1h-1zM53 49h1v1h-1zM67 49h1v1h-1zM5 50h1v1h-1zM13 51h1v1h-1zM49 51h1v1h-1zM54 51h1v1h-1zM63 51h1v1h-1zM47 52h1v1h-1zM51 52h1v1h-1zM68 52h1v1h-1zM3 53h1v1h-1zM20 53h1v1h-1zM55 53h1v1h-1zM65 53h1v1h-1zM12 54h1v1h-1zM21 55h1v1h-1zM60 55h1v1h-1zM13 56h1v1h-1zM20 56h1v1h-1zM26 56h1v1h-1zM40 56h1v1h-1zM54 56h1v1h-1zM27 57h1v1h-1zM9 58h1v1h-1zM23 58h1v1h-1zM59 58h1v1h-1zM11 59h1v1h-1zM34 59h1v1h-1zM36 59h1v1h-1zM38 59h1v1h-1zM45 59h1v1h-1zM66 59h1v1h-1zM3 60h1v1h-1zM6 60h1v1h-1zM19 60h1v1h-1zM21 60h1v1h-1zM27 60h2v1h-2zM30 60h1v1h-1zM15 61h1v1h-1zM17 61h1v1h-1zM25 61h1v1h-1zM30 61h1v1h-1zM60 61h1v1h-1zM21 62h1v1h-1zM51 62h1v1h-1zM10 63h1v1h-1zM17 63h1v1h-1zM36 63h1v1h-1zM39 63h1v1h-1zM46 63h1v1h-1zM48 63h1v1h-1zM2 64h1v1h-1zM5 64h1v1h-1zM13 64h1v1h-1zM31 64h1v1h-1zM59 64h1v1h-1zM2 65h1v1h-1zM4 65h1v1h-1zM23 65h1v1h-1zM30 65h1v1h-1zM9 66h1v1h-1zM11 66h1v1h-1zM15 66h1v1h-1zM38 66h1v1h-1zM46 66h1v1h-1zM62 66h1v1h-1zM10 67h1v1h-1zM16 67h1v1h-1zM38 67h1v1h-1zM3 68h1v1h-1zM13 68h2v1h-2zM21 68h1v1h-1zM38 68h1v1h-1zM4 69h1v1h-1zM8 69h1v1h-1zM23 69h1v1h-1zM37 69h1v1h-1zM39 69h1v1h-1zM43 69h1v1h-1zM22 70h2v1h-2zM25 70h1v1h-1zM28 70h1v1h-1zM49 70h1v1h-1zM10 71h1v1h-1zM35 71h1v1h-1zM57 71h1v1h-1zM5 72h1v1h-1zM25 72h1v1h-1zM63 72h1v1h-1zM33 73h1v1h-1zM9 74h1v1h-1zM26 74h1v1h-1zM12 75h1v1h-1zM15 75h1v1h-1zM24 75h2v1h-2zM49 75h1v1h-1zM12 76h1v1h-1zM47 76h1v1h-1zM3 77h1v1h-1zM6 77h1v1h-1zM37 77h1v1h-1zM39 77h1v1h-1zM53 77h1v1h-1zM37 78h1v1h-1zM34 79h1v1h-1zM27 80h1v1h-1zM5 81h1v1h-1zM19 81h1v1h-1zM24 81h1v1h-1zM28 81h1v1h-1zM57 82h1v1h-1zM18 84h1v1h-1zM21 84h1v1h-1zM13 85h1v1h-1z"/>
<path fill="#153a79" d="M69 14h1v1h-1zM15 16h1v1h-1zM26 17h1v1h-1zM35 17h1v1h-1zM44 17h1v1h-1zM38 18h1v1h-1zM3 19h1v1h-1zM15 19h1v1h-1zM19 19h1v1h-1zM40 19h1v1h-1zM55 19h1v1h-1zM63 19h1v1h-1zM74 19h1v1h-1zM11 21h1v1h-1zM30 21h1v1h-1zM10 22h1v1h-1zM23 22h1v1h-1zM39 22h1v1h-1zM57 23h1v1h-1zM13 24h1v1h-1zM21 24h1v1h-1zM28 25h1v1h-1zM5 26h1v1h-1zM69 26h1v1h-1zM67 27h1v1h-1zM14 28h1v1h-1zM56 28h1v1h-1zM38 30h1v1h-1zM45 30h1v1h-1zM56 30h1v1h-1zM61 31h1v1h-1zM48 32h1v1h-1zM34 33h1v1h-1zM3 35h1v1h-1zM41 35h1v1h-1zM58 35h1v1h-1zM5 37h1v1h-1zM42 37h1v1h-1zM37 39h1v1h-1zM67 39h1v1h-1zM8 40h1v1h-1zM45 40h1v1h-1zM6 41h1v1h-1zM39 41h1v1h-1zM62 41h1v1h-1zM54 42h1v1h-1zM67 42h1v1h-1zM2 45h2v1h-2zM51 45h1v1h-1zM50 46h1v1h-1zM63 46h1v1h-1zM62 47h1v1h-1zM49 48h1v1h-1zM56 48h1v1h-1zM47 49h1v1h-1zM61 49h1v1h-1zM71 49h1v1h-1zM33 50h1v1h-1zM5 51h1v1h-1zM39 51h1v1h-1zM56 51h1v1h-1zM62 51h1v1h-1zM73 51h1v1h-1zM35 52h1v1h-1zM40 52h1v1h-1zM48 52h1v1h-1zM29 53h1v1h-1zM36 53h1v1h-1zM35 55h1v1h-1zM6 56h1v1h-1zM45 56h1v1h-1zM48 56h1v1h-1zM56 56h1v1h-1zM59 56h1v1h-1zM32 57h1v1h-1zM8 58h1v1h-1zM47 58h1v1h-1zM1 59h1v1h-1zM7 59h1v1h-1zM12 59h1v1h-1zM24 59h1v1h-1zM55 59h1v1h-1zM57 59h1v1h-1zM12 61h1v1h-1zM28 61h1v1h-1zM17 62h1v1h-1zM19 62h1v1h-1zM26 62h1v1h-1zM29 62h1v1h-1zM62 62h1v1h-1zM12 63h1v1h-1zM29 63h1v1h-1zM3 64h1v1h-1zM5 65h1v1h-1zM28 65h1v1h-1zM53 65h3v1h-3zM16 66h1v1h-1zM56 66h1v1h-1zM7 67h1v1h-1zM15 67h1v1h-1zM20 67h1v1h-1zM34 67h1v1h-1zM41 67h1v1h-1zM52 67h1v1h-1zM55 67h1v1h-1zM32 68h1v1h-1zM47 68h1v1h-1zM10 69h1v1h-1zM19 69h1v1h-1zM24 69h1v1h-1zM47 69h1v1h-1zM1 70h1v1h-1zM8 70h1v1h-1zM21 70h1v1h-1zM29 70h1v1h-1zM31 70h1v1h-1zM64 70h1v1h-1zM23 71h1v1h-1zM36 71h2v1h-2zM26 72h1v1h-1zM16 73h1v1h-1zM18 73h1v1h-1zM29 73h1v1h-1zM42 73h1v1h-1zM56 74h1v1h-1zM47 75h1v1h-1zM50 75h1v1h-1zM23 76h1v1h-1zM42 76h1v1h-1zM36 77h1v1h-1zM40 77h2v1h-2zM44 79h1v1h-1zM30 84h1v1h-1zM24 85h1v1h-1z"/>
<path fill="#113a78" d="M60 14h1v1h-1zM56 16h1v1h-1zM30 18h1v1h-1zM37 19h1v1h-1zM41 19h1v1h-1zM76 19h1v1h-1zM25 20h1v1h-1zM1 21h1v1h-1zM5 21h1v1h-1zM38 21h1v1h-1zM36 22h1v1h-1zM59 22h2v1h-2zM60 24h1v1h-1zM67 24h1v1h-1zM33 25h1v1h-1zM47 25h1v1h-1zM52 25h1v1h-1zM26 26h1v1h-1zM73 26h1v1h-1zM3 27h1v1h-1zM7 27h1v1h-1zM11 29h1v1h-1zM15 29h1v1h-1zM18 29h1v1h-1zM59 29h1v1h-1zM1 31h1v1h-1zM11 31h1v1h-1zM39 32h1v1h-1zM50 32h1v1h-1zM31 33h1v1h-1zM4 34h1v1h-1zM8 34h1v1h-1zM36 34h1v1h-1zM48 35h1v1h-1zM62 35h1v1h-1zM75 36h1v1h-1zM11 37h1v1h-1zM20 37h1v1h-1zM75 37h1v1h-1zM2 38h1v1h-1zM25 38h1v1h-1zM46 38h1v1h-1zM50 38h1v1h-1zM53 38h1v1h-1zM90 39h1v1h-1zM0 40h1v1h-1zM38 40h1v1h-1zM57 40h1v1h-1zM74 40h1v1h-1zM2 41h1v1h-1zM34 41h1v1h-1zM5 42h1v1h-1zM15 42h1v1h-1zM33 42h1v1h-1zM75 42h1v1h-1zM8 43h1v1h-1zM44 43h1v1h-1zM47 43h1v1h-1zM59 43h1v1h-1zM74 43h1v1h-1zM26 44h1v1h-1zM1 45h1v1h-1zM26 45h1v1h-1zM36 45h1v1h-1zM64 45h1v1h-1zM66 45h1v1h-1zM3 46h1v1h-1zM28 46h2v1h-2zM37 46h1v1h-1zM45 46h1v1h-1zM64 46h1v1h-1zM73 46h1v1h-1zM7 47h1v1h-1zM9 47h1v1h-1zM1 48h1v1h-1zM52 48h1v1h-1zM73 48h1v1h-1zM43 49h1v1h-1zM73 49h1v1h-1zM19 50h1v1h-1zM41 50h1v1h-1zM52 50h2v1h-2zM80 50h1v1h-1zM19 51h1v1h-1zM38 51h1v1h-1zM17 52h1v1h-1zM30 52h1v1h-1zM41 52h1v1h-1zM46 52h1v1h-1zM65 52h1v1h-1zM31 53h1v1h-1zM46 53h1v1h-1zM48 53h1v1h-1zM58 53h1v1h-1zM6 54h1v1h-1zM20 54h1v1h-1zM30 54h1v1h-1zM42 54h1v1h-1zM44 55h1v1h-1zM46 55h1v1h-1zM61 55h1v1h-1zM5 56h1v1h-1zM10 56h1v1h-1zM14 56h1v1h-1zM30 56h1v1h-1zM32 56h1v1h-1zM34 56h1v1h-1zM14 57h1v1h-1zM18 57h1v1h-1zM38 57h1v1h-1zM48 57h1v1h-1zM26 58h2v1h-2zM50 58h1v1h-1zM20 59h1v1h-1zM43 59h2v1h-2zM51 59h1v1h-1zM9 60h1v1h-1zM12 60h2v1h-2zM17 60h1v1h-1zM20 60h1v1h-1zM29 60h1v1h-1zM44 60h1v1h-1zM0 61h1v1h-1zM10 61h1v1h-1zM26 61h1v1h-1zM37 61h1v1h-1zM45 61h1v1h-1zM30 62h1v1h-1zM36 62h1v1h-1zM53 62h1v1h-1zM16 63h1v1h-1zM22 63h1v1h-1zM28 63h1v1h-1zM47 63h1v1h-1zM62 63h1v1h-1zM17 64h1v1h-1zM25 64h1v1h-1zM13 65h1v1h-1zM64 65h1v1h-1zM33 66h1v1h-1zM42 66h1v1h-1zM61 66h1v1h-1zM6 67h1v1h-1zM22 67h1v1h-1zM24 67h1v1h-1zM29 67h1v1h-1zM42 67h1v1h-1zM1 68h1v1h-1zM27 68h1v1h-1zM39 68h1v1h-1zM42 68h1v1h-1zM1 69h1v1h-1zM6 69h1v1h-1zM12 69h1v1h-1zM14 69h1v1h-1zM22 69h1v1h-1zM31 69h1v1h-1zM33 69h1v1h-1zM4 70h1v1h-1zM14 70h1v1h-1zM47 70h2v1h-2zM53 70h1v1h-1zM50 71h1v1h-1zM12 72h1v1h-1zM20 72h1v1h-1zM6 73h1v1h-1zM45 73h1v1h-1zM48 74h1v1h-1zM55 74h1v1h-1zM7 75h1v1h-1zM36 75h1v1h-1zM42 75h1v1h-1zM32 77h1v1h-1zM24 78h1v1h-1zM17 79h1v1h-1zM30 79h1v1h-1zM15 82h1v1h-1zM23 86h1v1h-1z"/>
<path fill="#0d3b76" d="M71 10h1v1h-1zM75 12h1v1h-1zM27 13h1v1h-1zM37 15h1v1h-1zM29 16h1v1h-1zM19 17h1v1h-1zM30 17h1v1h-1zM72 17h1v1h-1zM12 18h1v1h-1zM27 18h1v1h-1zM68 18h1v1h-1zM32 19h1v1h-1zM46 19h1v1h-1zM11 20h1v1h-1zM31 20h1v1h-1zM33 20h1v1h-1zM45 20h1v1h-1zM51 20h1v1h-1zM18 22h1v1h-1zM43 22h1v1h-1zM49 22h1v1h-1zM93 22h1v1h-1zM7 23h1v1h-1zM16 23h1v1h-1zM23 23h1v1h-1zM29 23h1v1h-1zM42 23h1v1h-1zM1 24h1v1h-1zM4 24h1v1h-1zM10 24h1v1h-1zM34 24h1v1h-1zM39 24h1v1h-1zM8 25h1v1h-1zM31 25h1v1h-1zM36 25h1v1h-1zM12 26h1v1h-1zM37 26h1v1h-1zM50 26h1v1h-1zM57 26h1v1h-1zM72 26h1v1h-1zM34 27h1v1h-1zM64 28h1v1h-1zM53 29h1v1h-1zM37 30h1v1h-1zM22 31h1v1h-1zM48 31h1v1h-1zM89 31h1v1h-1zM42 32h1v1h-1zM47 32h1v1h-1zM51 32h1v1h-1zM55 32h1v1h-1zM1 33h1v1h-1zM59 33h1v1h-1zM67 33h1v1h-1zM1 34h1v1h-1zM23 34h1v1h-1zM40 34h1v1h-1zM42 34h1v1h-1zM52 34h1v1h-1zM62 34h1v1h-1zM64 34h1v1h-1zM8 35h1v1h-1zM96 35h1v1h-1zM1 36h1v1h-1zM13 36h1v1h-1zM46 36h1v1h-1zM82 36h1v1h-1zM2 37h1v1h-1zM41 37h1v1h-1zM55 37h1v1h-1zM80 37h2v1h-2zM24 38h1v1h-1zM42 38h1v1h-1zM1 39h1v1h-1zM5 39h1v1h-1zM8 39h1v1h-1zM12 39h1v1h-1zM39 39h1v1h-1zM50 39h1v1h-1zM57 39h1v1h-1zM61 39h1v1h-1zM19 40h1v1h-1zM43 40h1v1h-1zM58 40h1v1h-1zM62 40h1v1h-1zM5 41h1v1h-1zM48 41h1v1h-1zM28 42h1v1h-1zM38 42h1v1h-1zM47 42h1v1h-1zM68 42h1v1h-1zM24 43h1v1h-1zM41 43h1v1h-1zM54 43h1v1h-1zM56 43h1v1h-1zM46 44h1v1h-1zM82 44h1v1h-1zM16 45h1v1h-1zM32 45h1v1h-1zM34 45h1v1h-1zM37 45h1v1h-1zM60 45h1v1h-1zM4 46h1v1h-1zM10 46h1v1h-1zM21 46h1v1h-1zM32 46h1v1h-1zM46 46h1v1h-1zM55 46h1v1h-1zM55 47h1v1h-1zM85 47h1v1h-1zM37 48h1v1h-1zM44 48h1v1h-1zM1 49h1v1h-1zM12 49h2v1h-2zM52 49h1v1h-1zM68 49h1v1h-1zM35 50h1v1h-1zM44 50h1v1h-1zM48 50h1v1h-1zM57 50h1v1h-1zM59 50h1v1h-1zM70 50h1v1h-1zM77 50h1v1h-1zM4 51h1v1h-1zM10 51h1v1h-1zM41 51h1v1h-1zM47 51h1v1h-1zM50 51h1v1h-1zM55 51h1v1h-1zM1 52h1v1h-1zM7 52h1v1h-1zM10 52h1v1h-1zM24 52h1v1h-1zM15 53h1v1h-1zM21 53h1v1h-1zM30 53h1v1h-1zM32 53h1v1h-1zM40 53h1v1h-1zM44 53h2v1h-2zM71 53h1v1h-1zM3 54h2v1h-2zM40 54h1v1h-1zM45 54h1v1h-1zM56 54h1v1h-1zM60 54h1v1h-1zM2 55h1v1h-1zM15 55h3v1h-3zM25 55h1v1h-1zM30 55h1v1h-1zM38 55h2v1h-2zM42 55h1v1h-1zM54 55h1v1h-1zM81 55h1v1h-1zM0 56h1v1h-1zM9 56h1v1h-1zM16 56h1v1h-1zM36 56h1v1h-1zM47 56h1v1h-1zM7 57h1v1h-1zM21 57h1v1h-1zM24 57h2v1h-2zM28 57h1v1h-1zM36 57h2v1h-2zM47 57h1v1h-1zM62 57h2v1h-2zM16 58h1v1h-1zM20 58h1v1h-1zM22 58h1v1h-1zM25 58h1v1h-1zM43 58h1v1h-1zM52 58h1v1h-1zM58 58h1v1h-1zM15 59h2v1h-2zM22 59h1v1h-1zM25 59h1v1h-1zM14 60h1v1h-1zM18 60h1v1h-1zM35 60h1v1h-1zM37 60h1v1h-1zM41 60h1v1h-1zM60 60h1v1h-1zM20 61h1v1h-1zM42 61h1v1h-1zM11 62h1v1h-1zM24 62h2v1h-2zM35 62h1v1h-1zM38 62h1v1h-1zM52 62h1v1h-1zM5 63h1v1h-1zM9 63h1v1h-1zM27 63h1v1h-1zM42 63h1v1h-1zM50 63h1v1h-1zM52 63h1v1h-1zM8 64h1v1h-1zM14 64h1v1h-1zM30 64h1v1h-1zM38 64h1v1h-1zM19 65h1v1h-1zM22 65h1v1h-1zM25 65h1v1h-1zM29 65h1v1h-1zM31 65h1v1h-1zM41 65h1v1h-1zM43 65h1v1h-1zM47 65h1v1h-1zM17 66h1v1h-1zM41 66h1v1h-1zM12 67h1v1h-1zM17 67h1v1h-1zM30 67h1v1h-1zM6 68h1v1h-1zM11 68h1v1h-1zM16 68h1v1h-1zM41 68h1v1h-1zM13 69h1v1h-1zM63 69h1v1h-1zM9 70h1v1h-1zM36 70h1v1h-1zM56 70h2v1h-2zM2 71h1v1h-1zM15 71h1v1h-1zM17 71h1v1h-1zM4 72h1v1h-1zM9 72h2v1h-2zM32 72h2v1h-2zM35 73h2v1h-2zM39 74h1v1h-1zM41 74h1v1h-1zM60 74h1v1h-1zM16 75h1v1h-1zM51 75h1v1h-1zM16 76h1v1h-1zM39 76h2v1h-2zM18 77h1v1h-1zM24 77h1v1h-1zM46 77h1v1h-1zM50 78h1v1h-1zM27 79h1v1h-1zM26 80h1v1h-1zM35 80h1v1h-1zM43 82h1v1h-1zM20 87h1v1h-1z"/>
<path fill="#083b74" d="M74 11h1v1h-1zM19 13h1v1h-1zM52 13h1v1h-1zM28 14h1v1h-1zM74 14h1v1h-1zM33 15h1v1h-1zM75 15h1v1h-1zM13 16h1v1h-1zM32 16h1v1h-1zM72 16h1v1h-1zM35 18h1v1h-1zM55 18h1v1h-1zM30 19h2v1h-2zM36 19h1v1h-1zM54 20h1v1h-1zM65 20h1v1h-1zM14 22h1v1h-1zM22 22h1v1h-1zM31 22h1v1h-1zM7 24h1v1h-1zM11 25h1v1h-1zM23 25h1v1h-1zM27 25h1v1h-1zM38 25h1v1h-1zM51 25h1v1h-1zM7 26h1v1h-1zM31 26h1v1h-1zM46 26h1v1h-1zM53 27h1v1h-1zM59 27h1v1h-1zM55 28h1v1h-1zM63 28h1v1h-1zM23 29h1v1h-1zM26 29h1v1h-1zM35 29h1v1h-1zM71 29h1v1h-1zM33 30h1v1h-1zM36 30h1v1h-1zM17 31h1v1h-1zM41 31h1v1h-1zM54 31h1v1h-1zM60 31h1v1h-1zM64 31h1v1h-1zM90 31h2v1h-2zM7 32h2v1h-2zM22 32h1v1h-1zM3 33h1v1h-1zM17 33h1v1h-1zM86 33h1v1h-1zM6 34h1v1h-1zM14 34h1v1h-1zM27 34h1v1h-1zM0 35h1v1h-1zM6 35h1v1h-1zM22 35h1v1h-1zM29 35h1v1h-1zM51 35h1v1h-1zM85 35h1v1h-1zM7 36h2v1h-2zM23 36h1v1h-1zM93 36h1v1h-1zM15 37h1v1h-1zM35 37h1v1h-1zM57 37h1v1h-1zM14 38h1v1h-1zM31 38h1v1h-1zM55 38h1v1h-1zM76 38h1v1h-1zM85 38h1v1h-1zM6 39h1v1h-1zM15 39h1v1h-1zM25 39h1v1h-1zM63 39h1v1h-1zM73 39h1v1h-1zM6 40h1v1h-1zM13 40h1v1h-1zM27 40h1v1h-1zM33 40h1v1h-1zM36 40h1v1h-1zM42 40h1v1h-1zM56 40h1v1h-1zM18 41h1v1h-1zM36 41h1v1h-1zM49 41h2v1h-2zM76 41h1v1h-1zM12 42h1v1h-1zM23 42h1v1h-1zM29 42h1v1h-1zM40 42h1v1h-1zM46 42h1v1h-1zM19 43h1v1h-1zM45 43h1v1h-1zM52 43h1v1h-1zM11 44h1v1h-1zM19 44h1v1h-1zM42 44h1v1h-1zM47 44h1v1h-1zM50 44h1v1h-1zM61 44h1v1h-1zM13 45h1v1h-1zM18 45h1v1h-1zM27 45h1v1h-1zM43 45h1v1h-1zM85 45h1v1h-1zM12 46h1v1h-1zM23 46h2v1h-2zM27 46h1v1h-1zM54 46h1v1h-1zM0 47h1v1h-1zM10 47h1v1h-1zM12 47h1v1h-1zM20 47h1v1h-1zM24 47h1v1h-1zM27 47h1v1h-1zM37 47h1v1h-1zM54 47h1v1h-1zM73 47h1v1h-1zM18 48h1v1h-1zM25 48h1v1h-1zM35 48h1v1h-1zM58 48h1v1h-1zM28 49h2v1h-2zM35 49h1v1h-1zM42 49h1v1h-1zM50 49h1v1h-1zM66 49h1v1h-1zM7 50h2v1h-2zM11 50h1v1h-1zM13 50h1v1h-1zM27 50h1v1h-1zM30 50h1v1h-1zM36 50h1v1h-1zM18 51h1v1h-1zM26 51h1v1h-1zM29 51h2v1h-2zM36 51h1v1h-1zM46 51h1v1h-1zM0 52h1v1h-1zM3 52h1v1h-1zM6 52h1v1h-1zM8 52h1v1h-1zM13 52h1v1h-1zM19 52h1v1h-1zM36 52h1v1h-1zM49 52h1v1h-1zM56 52h1v1h-1zM70 52h1v1h-1zM79 52h1v1h-1zM4 53h2v1h-2zM9 53h1v1h-1zM11 53h4v1h-4zM19 53h1v1h-1zM23 53h1v1h-1zM35 53h1v1h-1zM37 53h2v1h-2zM41 53h1v1h-1zM50 53h1v1h-1zM61 53h1v1h-1zM66 53h1v1h-1zM9 54h1v1h-1zM13 54h1v1h-1zM17 54h1v1h-1zM22 54h1v1h-1zM25 54h1v1h-1zM27 54h2v1h-2zM34 54h1v1h-1zM36 54h1v1h-1zM39 54h1v1h-1zM46 54h2v1h-2zM53 54h1v1h-1zM55 54h1v1h-1zM6 55h1v1h-1zM13 55h1v1h-1zM19 55h1v1h-1zM43 55h1v1h-1zM49 55h1v1h-1zM55 55h1v1h-1zM18 56h1v1h-1zM21 56h2v1h-2zM25 56h1v1h-1zM37 56h2v1h-2zM55 56h1v1h-1zM60 56h1v1h-1zM3 57h1v1h-1zM10 57h2v1h-2zM13 57h1v1h-1zM16 57h1v1h-1zM20 57h1v1h-1zM31 57h1v1h-1zM39 57h2v1h-2zM49 57h1v1h-1zM11 58h2v1h-2zM21 58h1v1h-1zM24 58h1v1h-1zM31 58h1v1h-1zM36 58h1v1h-1zM45 58h1v1h-1zM48 58h1v1h-1zM10 59h1v1h-1zM18 59h1v1h-1zM21 59h1v1h-1zM31 59h1v1h-1zM46 59h1v1h-1zM2 60h1v1h-1zM24 60h3v1h-3zM36 60h1v1h-1zM46 60h1v1h-1zM64 60h1v1h-1zM3 61h1v1h-1zM14 61h1v1h-1zM23 61h1v1h-1zM27 61h1v1h-1zM31 61h1v1h-1zM39 61h2v1h-2zM51 61h1v1h-1zM14 62h1v1h-1zM27 62h1v1h-1zM31 62h1v1h-1zM64 62h1v1h-1zM11 63h1v1h-1zM20 63h1v1h-1zM32 63h1v1h-1zM35 63h1v1h-1zM43 63h1v1h-1zM53 63h1v1h-1zM12 64h1v1h-1zM15 64h1v1h-1zM19 64h1v1h-1zM26 64h1v1h-1zM49 64h1v1h-1zM57 64h1v1h-1zM3 65h1v1h-1zM8 65h1v1h-1zM17 65h1v1h-1zM24 65h1v1h-1zM26 65h1v1h-1zM46 65h1v1h-1zM2 66h1v1h-1zM10 66h1v1h-1zM19 66h2v1h-2zM23 66h1v1h-1zM27 66h1v1h-1zM37 66h1v1h-1zM40 66h1v1h-1zM23 67h1v1h-1zM26 67h1v1h-1zM32 67h1v1h-1zM57 67h1v1h-1zM64 67h2v1h-2zM31 68h1v1h-1zM48 68h1v1h-1zM20 69h1v1h-1zM29 69h2v1h-2zM3 70h1v1h-1zM5 70h1v1h-1zM20 70h1v1h-1zM24 70h1v1h-1zM13 71h1v1h-1zM24 72h1v1h-1zM43 72h1v1h-1zM49 72h1v1h-1zM21 73h1v1h-1zM56 73h1v1h-1zM14 74h1v1h-1zM27 74h1v1h-1zM30 75h1v1h-1zM35 75h1v1h-1zM21 76h1v1h-1zM35 77h1v1h-1zM42 77h1v1h-1zM51 77h1v1h-1zM63 77h1v1h-1zM7 78h1v1h-1zM16 78h1v1h-1zM31 78h1v1h-1zM25 79h1v1h-1zM31 79h1v1h-1zM36 79h1v1h-1zM21 80h1v1h-1zM76 80h1v1h-1zM30 81h1v1h-1zM44 82h1v1h-1zM26 84h1v1h-1zM28 85h1v1h-1z"/>
<path fill="#043c73" d="M4 13h1v1h-1zM31 14h1v1h-1zM39 15h1v1h-1zM46 16h1v1h-1zM51 16h1v1h-1zM16 17h1v1h-1zM28 18h1v1h-1zM10 19h1v1h-1zM47 20h1v1h-1zM26 21h1v1h-1zM41 21h1v1h-1zM5 22h1v1h-1zM28 22h1v1h-1zM40 22h1v1h-1zM50 22h1v1h-1zM71 22h1v1h-1zM20 23h1v1h-1zM33 23h1v1h-1zM35 23h1v1h-1zM18 24h1v1h-1zM54 24h1v1h-1zM30 25h1v1h-1zM32 25h1v1h-1zM57 25h1v1h-1zM64 26h1v1h-1zM18 27h1v1h-1zM42 27h1v1h-1zM44 27h1v1h-1zM49 27h1v1h-1zM12 28h1v1h-1zM36 28h1v1h-1zM62 28h1v1h-1zM1 29h1v1h-1zM32 29h1v1h-1zM26 30h1v1h-1zM34 30h1v1h-1zM43 30h1v1h-1zM60 30h1v1h-1zM9 31h1v1h-1zM46 31h2v1h-2zM62 31h1v1h-1zM56 32h1v1h-1zM60 32h1v1h-1zM7 33h1v1h-1zM16 33h1v1h-1zM48 33h1v1h-1zM9 34h1v1h-1zM12 34h1v1h-1zM24 34h1v1h-1zM39 34h1v1h-1zM48 34h2v1h-2zM79 34h1v1h-1zM5 35h1v1h-1zM15 35h1v1h-1zM37 35h1v1h-1zM55 35h1v1h-1zM26 36h1v1h-1zM49 36h1v1h-1zM60 36h1v1h-1zM27 37h1v1h-1zM39 37h1v1h-1zM1 38h1v1h-1zM4 38h1v1h-1zM12 38h1v1h-1zM16 38h1v1h-1zM32 38h1v1h-1zM2 39h1v1h-1zM46 39h1v1h-1zM58 39h1v1h-1zM2 40h1v1h-1zM12 40h1v1h-1zM30 40h1v1h-1zM32 40h1v1h-1zM35 40h1v1h-1zM37 40h1v1h-1zM65 40h1v1h-1zM7 41h1v1h-1zM20 41h1v1h-1zM23 41h1v1h-1zM40 41h1v1h-1zM46 41h1v1h-1zM57 41h1v1h-1zM2 42h2v1h-2zM6 42h1v1h-1zM22 42h1v1h-1zM36 42h1v1h-1zM44 42h1v1h-1zM60 42h1v1h-1zM4 43h1v1h-1zM7 43h1v1h-1zM11 43h1v1h-1zM18 43h1v1h-1zM20 43h1v1h-1zM31 43h1v1h-1zM33 43h1v1h-1zM57 43h1v1h-1zM14 44h1v1h-1zM29 44h1v1h-1zM37 44h1v1h-1zM43 44h2v1h-2zM59 44h1v1h-1zM9 45h1v1h-1zM21 45h1v1h-1zM38 45h1v1h-1zM42 45h1v1h-1zM53 45h1v1h-1zM8 46h1v1h-1zM35 46h1v1h-1zM38 46h1v1h-1zM41 46h2v1h-2zM60 46h1v1h-1zM66 46h1v1h-1zM15 47h2v1h-2zM21 47h2v1h-2zM25 47h1v1h-1zM57 47h1v1h-1zM7 48h1v1h-1zM9 48h3v1h-3zM21 48h1v1h-1zM28 48h1v1h-1zM48 48h1v1h-1zM14 49h1v1h-1zM17 49h1v1h-1zM19 49h1v1h-1zM21 49h1v1h-1zM24 49h1v1h-1zM34 49h1v1h-1zM36 49h1v1h-1zM39 49h1v1h-1zM41 49h1v1h-1zM48 49h1v1h-1zM9 50h1v1h-1zM14 50h1v1h-1zM16 50h1v1h-1zM18 50h1v1h-1zM22 50h1v1h-1zM24 50h1v1h-1zM28 50h2v1h-2zM39 50h2v1h-2zM45 50h1v1h-1zM55 50h1v1h-1zM11 51h1v1h-1zM14 51h1v1h-1zM16 51h1v1h-1zM22 51h1v1h-1zM27 51h1v1h-1zM44 51h1v1h-1zM59 51h1v1h-1zM15 52h1v1h-1zM27 52h1v1h-1zM31 52h1v1h-1zM38 52h1v1h-1zM64 52h1v1h-1zM8 53h1v1h-1zM16 53h1v1h-1zM22 53h1v1h-1zM25 53h2v1h-2zM39 53h1v1h-1zM43 53h1v1h-1zM47 53h1v1h-1zM56 53h1v1h-1zM69 53h1v1h-1zM78 53h1v1h-1zM85 53h1v1h-1zM1 54h1v1h-1zM10 54h1v1h-1zM19 54h1v1h-1zM26 54h1v1h-1zM31 54h1v1h-1zM33 54h1v1h-1zM48 54h1v1h-1zM52 54h1v1h-1zM3 55h1v1h-1zM8 55h1v1h-1zM18 55h1v1h-1zM24 55h1v1h-1zM26 55h1v1h-1zM32 55h1v1h-1zM34 55h1v1h-1zM37 55h1v1h-1zM41 55h1v1h-1zM48 55h1v1h-1zM53 55h1v1h-1zM3 56h2v1h-2zM7 56h1v1h-1zM23 56h1v1h-1zM27 56h2v1h-2zM33 56h1v1h-1zM49 56h1v1h-1zM66 56h1v1h-1zM68 56h1v1h-1zM5 57h1v1h-1zM8 57h2v1h-2zM22 57h1v1h-1zM33 57h1v1h-1zM41 57h2v1h-2zM45 57h1v1h-1zM68 57h1v1h-1zM6 58h2v1h-2zM10 58h1v1h-1zM13 58h1v1h-1zM30 58h1v1h-1zM35 58h1v1h-1zM3 59h1v1h-1zM23 59h1v1h-1zM28 59h1v1h-1zM11 60h1v1h-1zM15 60h2v1h-2zM39 60h1v1h-1zM48 60h1v1h-1zM7 61h1v1h-1zM18 61h1v1h-1zM41 61h1v1h-1zM43 61h2v1h-2zM50 61h1v1h-1zM55 61h2v1h-2zM6 62h1v1h-1zM8 62h1v1h-1zM16 62h1v1h-1zM32 62h1v1h-1zM43 62h1v1h-1zM18 63h1v1h-1zM30 63h1v1h-1zM41 63h1v1h-1zM45 63h1v1h-1zM57 63h1v1h-1zM11 64h1v1h-1zM23 64h2v1h-2zM9 65h1v1h-1zM32 65h1v1h-1zM37 65h1v1h-1zM42 65h1v1h-1zM13 66h2v1h-2zM25 66h1v1h-1zM29 66h1v1h-1zM32 66h1v1h-1zM48 66h1v1h-1zM14 67h1v1h-1zM28 67h1v1h-1zM35 68h1v1h-1zM53 68h1v1h-1zM17 69h1v1h-1zM13 70h1v1h-1zM38 70h1v1h-1zM26 71h1v1h-1zM31 72h1v1h-1zM64 72h1v1h-1zM7 73h1v1h-1zM11 73h1v1h-1zM14 73h1v1h-1zM19 73h1v1h-1zM25 73h1v1h-1zM41 73h1v1h-1zM15 74h1v1h-1zM17 74h1v1h-1zM28 75h1v1h-1zM52 75h1v1h-1zM7 76h1v1h-1zM28 77h1v1h-1zM20 79h1v1h-1zM22 80h1v1h-1zM16 82h1v1h-1zM20 83h1v1h-1z"/>
<path fill="#003c71" d="M11 11h1v1h-1zM14 11h1v1h-1zM20 14h1v1h-1zM26 14h1v1h-1zM47 14h1v1h-1zM5 15h1v1h-1zM31 15h1v1h-1zM35 15h1v1h-1zM27 16h1v1h-1zM20 17h1v1h-1zM38 17h1v1h-1zM7 18h1v1h-1zM34 18h1v1h-1zM6 19h1v1h-1zM13 19h1v1h-1zM26 19h1v1h-1zM29 19h1v1h-1zM72 19h1v1h-1zM19 20h1v1h-1zM32 20h1v1h-1zM50 20h1v1h-1zM25 21h1v1h-1zM29 21h1v1h-1zM36 21h1v1h-1zM9 22h1v1h-1zM47 22h1v1h-1zM64 22h1v1h-1zM31 23h1v1h-1zM12 24h1v1h-1zM22 24h1v1h-1zM29 24h2v1h-2zM68 24h1v1h-1zM41 25h1v1h-1zM55 25h1v1h-1zM18 26h1v1h-1zM21 26h1v1h-1zM8 27h1v1h-1zM17 27h1v1h-1zM13 28h1v1h-1zM19 28h1v1h-1zM23 28h1v1h-1zM26 28h1v1h-1zM30 28h1v1h-1zM34 28h2v1h-2zM39 28h1v1h-1zM44 28h1v1h-1zM4 29h1v1h-1zM12 29h2v1h-2zM21 29h1v1h-1zM28 29h1v1h-1zM34 29h1v1h-1zM63 29h1v1h-1zM67 29h1v1h-1zM9 30h1v1h-1zM20 30h1v1h-1zM39 30h1v1h-1zM53 30h1v1h-1zM55 30h1v1h-1zM16 31h1v1h-1zM21 31h1v1h-1zM25 31h1v1h-1zM30 31h1v1h-1zM35 31h2v1h-2zM42 31h1v1h-1zM2 32h1v1h-1zM6 32h1v1h-1zM16 32h1v1h-1zM30 32h1v1h-1zM33 32h1v1h-1zM44 32h1v1h-1zM52 32h1v1h-1zM67 32h1v1h-1zM18 33h1v1h-1zM25 33h1v1h-1zM0 34h1v1h-1zM18 34h1v1h-1zM26 34h1v1h-1zM33 34h1v1h-1zM41 34h1v1h-1zM12 35h1v1h-1zM25 35h1v1h-1zM34 35h1v1h-1zM44 35h1v1h-1zM60 35h1v1h-1zM10 36h1v1h-1zM12 36h1v1h-1zM28 36h1v1h-1zM33 36h1v1h-1zM43 36h1v1h-1zM45 36h1v1h-1zM62 36h1v1h-1zM9 37h1v1h-1zM23 37h2v1h-2zM43 37h1v1h-1zM46 37h1v1h-1zM10 38h2v1h-2zM30 38h1v1h-1zM36 38h1v1h-1zM47 38h1v1h-1zM49 38h1v1h-1zM52 38h1v1h-1zM57 38h2v1h-2zM17 39h1v1h-1zM22 39h1v1h-1zM27 39h2v1h-2zM32 39h1v1h-1zM34 39h1v1h-1zM47 39h1v1h-1zM11 40h1v1h-1zM20 40h1v1h-1zM23 40h1v1h-1zM52 40h1v1h-1zM8 41h1v1h-1zM10 41h1v1h-1zM27 41h1v1h-1zM31 41h1v1h-1zM42 41h1v1h-1zM54 41h1v1h-1zM56 41h1v1h-1zM72 41h1v1h-1zM7 42h2v1h-2zM25 42h1v1h-1zM45 42h1v1h-1zM12 43h4v1h-4zM21 43h1v1h-1zM30 43h1v1h-1zM34 43h1v1h-1zM40 43h1v1h-1zM46 43h1v1h-1zM49 43h1v1h-1zM67 43h1v1h-1zM73 43h1v1h-1zM7 44h2v1h-2zM10 44h1v1h-1zM12 44h1v1h-1zM16 44h3v1h-3zM22 44h1v1h-1zM24 44h1v1h-1zM30 44h1v1h-1zM35 44h1v1h-1zM40 44h1v1h-1zM58 44h1v1h-1zM23 45h2v1h-2zM31 45h1v1h-1zM33 45h1v1h-1zM44 45h2v1h-2zM52 45h1v1h-1zM14 46h1v1h-1zM16 46h1v1h-1zM26 46h1v1h-1zM33 46h1v1h-1zM47 46h1v1h-1zM53 46h1v1h-1zM11 47h1v1h-1zM13 47h1v1h-1zM17 47h1v1h-1zM23 47h1v1h-1zM33 47h1v1h-1zM41 47h1v1h-1zM3 48h2v1h-2zM14 48h1v1h-1zM23 48h1v1h-1zM27 48h1v1h-1zM30 48h1v1h-1zM32 48h1v1h-1zM39 48h1v1h-1zM45 48h1v1h-1zM61 48h1v1h-1zM64 48h1v1h-1zM6 49h1v1h-1zM11 49h1v1h-1zM22 49h1v1h-1zM27 49h1v1h-1zM30 49h1v1h-1zM32 49h2v1h-2zM44 49h1v1h-1zM49 49h1v1h-1zM51 49h1v1h-1zM58 49h1v1h-1zM6 50h1v1h-1zM15 50h1v1h-1zM17 50h1v1h-1zM21 50h1v1h-1zM31 50h1v1h-1zM43 50h1v1h-1zM46 50h1v1h-1zM6 51h2v1h-2zM15 51h1v1h-1zM20 51h1v1h-1zM24 51h2v1h-2zM31 51h1v1h-1zM37 51h1v1h-1zM43 51h1v1h-1zM48 51h1v1h-1zM60 51h1v1h-1zM4 52h1v1h-1zM12 52h1v1h-1zM14 52h1v1h-1zM26 52h1v1h-1zM28 52h2v1h-2zM43 52h1v1h-1zM10 53h1v1h-1zM28 53h1v1h-1zM34 53h1v1h-1zM51 53h2v1h-2zM54 53h1v1h-1zM73 53h1v1h-1zM14 54h1v1h-1zM32 54h1v1h-1zM35 54h1v1h-1zM44 54h1v1h-1zM49 54h1v1h-1zM61 54h1v1h-1zM65 54h1v1h-1zM7 55h1v1h-1zM9 55h1v1h-1zM12 55h1v1h-1zM20 55h1v1h-1zM23 55h1v1h-1zM36 55h1v1h-1zM40 55h1v1h-1zM47 55h1v1h-1zM56 55h1v1h-1zM19 56h1v1h-1zM24 56h1v1h-1zM31 56h1v1h-1zM39 56h1v1h-1zM50 56h1v1h-1zM62 56h1v1h-1zM64 56h1v1h-1zM70 56h1v1h-1zM82 56h1v1h-1zM6 57h1v1h-1zM17 57h1v1h-1zM26 57h1v1h-1zM29 57h1v1h-1zM34 57h2v1h-2zM4 58h1v1h-1zM14 58h1v1h-1zM19 58h1v1h-1zM28 58h2v1h-2zM41 58h1v1h-1zM44 58h1v1h-1zM55 58h1v1h-1zM63 58h1v1h-1zM66 58h1v1h-1zM27 59h1v1h-1zM30 59h1v1h-1zM32 59h1v1h-1zM35 59h1v1h-1zM54 59h1v1h-1zM32 60h2v1h-2zM63 60h1v1h-1zM9 61h1v1h-1zM13 61h1v1h-1zM21 61h2v1h-2zM33 61h3v1h-3zM38 61h1v1h-1zM9 62h1v1h-1zM22 62h1v1h-1zM33 62h1v1h-1zM40 62h1v1h-1zM4 63h1v1h-1zM8 63h1v1h-1zM37 63h1v1h-1zM40 63h1v1h-1zM61 63h1v1h-1zM18 64h1v1h-1zM22 64h1v1h-1zM35 64h1v1h-1zM40 64h1v1h-1zM55 64h1v1h-1zM11 65h1v1h-1zM15 65h1v1h-1zM36 65h1v1h-1zM48 65h1v1h-1zM50 65h1v1h-1zM22 66h1v1h-1zM13 67h1v1h-1zM37 67h1v1h-1zM45 67h1v1h-1zM17 68h1v1h-1zM23 68h1v1h-1zM25 68h1v1h-1zM28 68h2v1h-2zM34 68h1v1h-1zM65 68h1v1h-1zM32 69h1v1h-1zM20 71h1v1h-1zM8 72h1v1h-1zM22 72h1v1h-1zM54 72h1v1h-1zM2 73h1v1h-1zM43 73h1v1h-1zM21 74h1v1h-1zM47 74h1v1h-1zM50 74h1v1h-1zM58 75h1v1h-1zM33 76h1v1h-1zM43 76h1v1h-1zM15 78h1v1h-1zM23 78h1v1h-1zM27 78h1v1h-1zM52 78h1v1h-1zM12 79h1v1h-1zM29 79h1v1h-1zM46 79h1v1h-1zM49 79h1v1h-1zM54 79h1v1h-1zM37 80h1v1h-1zM25 83h1v1h-1zM27 84h1v1h-1z"/>
<path fill="#013f6e" d="M33 14h1v1h-1zM42 14h1v1h-1zM34 15h1v1h-1zM36 15h1v1h-1zM43 15h1v1h-1zM22 17h1v1h-1zM24 17h1v1h-1zM11 18h1v1h-1zM15 18h1v1h-1zM29 18h1v1h-1zM47 18h1v1h-1zM34 19h1v1h-1zM60 19h1v1h-1zM17 20h1v1h-1zM44 20h1v1h-1zM68 20h1v1h-1zM3 21h1v1h-1zM59 21h1v1h-1zM5 23h1v1h-1zM24 23h1v1h-1zM45 23h1v1h-1zM33 24h1v1h-1zM37 24h1v1h-1zM40 24h2v1h-2zM45 24h1v1h-1zM73 24h1v1h-1zM34 25h1v1h-1zM46 25h1v1h-1zM59 25h1v1h-1zM63 25h1v1h-1zM35 26h1v1h-1zM42 26h1v1h-1zM67 26h1v1h-1zM11 27h2v1h-2zM19 27h1v1h-1zM35 27h1v1h-1zM41 27h1v1h-1zM17 28h1v1h-1zM27 28h1v1h-1zM29 28h1v1h-1zM33 28h1v1h-1zM45 28h2v1h-2zM52 28h1v1h-1zM19 29h1v1h-1zM31 29h1v1h-1zM40 29h1v1h-1zM49 29h1v1h-1zM51 29h1v1h-1zM61 29h1v1h-1zM29 30h2v1h-2zM6 31h1v1h-1zM33 31h1v1h-1zM50 31h2v1h-2zM12 32h1v1h-1zM19 32h2v1h-2zM25 32h1v1h-1zM27 32h1v1h-1zM29 32h1v1h-1zM31 32h2v1h-2zM41 32h1v1h-1zM20 33h1v1h-1zM29 33h2v1h-2zM32 33h1v1h-1zM56 33h1v1h-1zM45 34h1v1h-1zM47 34h1v1h-1zM50 34h1v1h-1zM60 34h2v1h-2zM77 34h1v1h-1zM2 35h1v1h-1zM4 35h1v1h-1zM24 35h1v1h-1zM32 35h1v1h-1zM43 35h1v1h-1zM46 35h1v1h-1zM57 35h1v1h-1zM18 36h1v1h-1zM25 36h1v1h-1zM41 36h1v1h-1zM44 36h1v1h-1zM56 36h1v1h-1zM4 37h1v1h-1zM32 37h1v1h-1zM36 37h1v1h-1zM17 38h2v1h-2zM23 38h1v1h-1zM37 38h1v1h-1zM43 38h1v1h-1zM10 39h1v1h-1zM14 39h1v1h-1zM20 39h2v1h-2zM24 39h1v1h-1zM33 39h1v1h-1zM36 39h1v1h-1zM43 39h1v1h-1zM48 39h1v1h-1zM56 39h1v1h-1zM7 40h1v1h-1zM16 40h1v1h-1zM18 40h1v1h-1zM31 40h1v1h-1zM39 40h2v1h-2zM53 40h1v1h-1zM9 41h1v1h-1zM11 41h1v1h-1zM13 41h1v1h-1zM16 41h1v1h-1zM19 41h1v1h-1zM24 41h2v1h-2zM55 41h1v1h-1zM60 41h1v1h-1zM19 42h1v1h-1zM26 42h1v1h-1zM31 42h1v1h-1zM37 42h1v1h-1zM43 42h1v1h-1zM48 42h1v1h-1zM52 42h1v1h-1zM9 43h1v1h-1zM32 43h1v1h-1zM35 43h2v1h-2zM39 43h1v1h-1zM43 43h1v1h-1zM50 43h2v1h-2zM2 44h2v1h-2zM31 44h1v1h-1zM39 44h1v1h-1zM64 44h1v1h-1zM68 44h1v1h-1zM4 45h1v1h-1zM7 45h2v1h-2zM11 45h2v1h-2zM15 45h1v1h-1zM17 45h1v1h-1zM22 45h1v1h-1zM50 45h1v1h-1zM58 45h1v1h-1zM7 46h1v1h-1zM9 46h1v1h-1zM19 46h2v1h-2zM22 46h1v1h-1zM31 46h1v1h-1zM36 46h1v1h-1zM56 46h1v1h-1zM67 46h1v1h-1zM3 47h1v1h-1zM8 47h1v1h-1zM18 47h2v1h-2zM28 47h1v1h-1zM32 47h1v1h-1zM34 47h1v1h-1zM47 47h2v1h-2zM51 47h1v1h-1zM2 48h1v1h-1zM16 48h1v1h-1zM19 48h1v1h-1zM24 48h1v1h-1zM26 48h1v1h-1zM42 48h2v1h-2zM47 48h1v1h-1zM74 48h1v1h-1zM5 49h1v1h-1zM8 49h1v1h-1zM10 49h1v1h-1zM15 49h2v1h-2zM20 49h1v1h-1zM23 49h1v1h-1zM26 49h1v1h-1zM40 49h1v1h-1zM45 49h1v1h-1zM59 49h1v1h-1zM3 50h1v1h-1zM47 50h1v1h-1zM51 50h1v1h-1zM85 50h1v1h-1zM9 51h1v1h-1zM32 51h1v1h-1zM34 51h1v1h-1zM40 51h1v1h-1zM42 51h1v1h-1zM45 51h1v1h-1zM51 51h1v1h-1zM5 52h1v1h-1zM21 52h1v1h-1zM33 52h2v1h-2zM44 52h1v1h-1zM69 52h1v1h-1zM6 53h1v1h-1zM17 53h1v1h-1zM67 53h1v1h-1zM15 54h1v1h-1zM24 54h1v1h-1zM43 54h1v1h-1zM14 55h1v1h-1zM22 55h1v1h-1zM33 55h1v1h-1zM45 55h1v1h-1zM51 55h1v1h-1zM69 55h1v1h-1zM71 55h1v1h-1zM80 55h1v1h-1zM8 56h1v1h-1zM17 56h1v1h-1zM35 56h1v1h-1zM41 56h3v1h-3zM65 56h1v1h-1zM19 57h1v1h-1zM23 57h1v1h-1zM44 57h1v1h-1zM59 57h1v1h-1zM32 58h1v1h-1zM65 58h1v1h-1zM67 58h1v1h-1zM72 58h1v1h-1zM5 59h1v1h-1zM8 59h1v1h-1zM14 59h1v1h-1zM19 59h1v1h-1zM26 59h1v1h-1zM47 59h2v1h-2zM52 59h1v1h-1zM22 60h1v1h-1zM31 60h1v1h-1zM34 60h1v1h-1zM42 60h1v1h-1zM16 61h1v1h-1zM59 61h1v1h-1zM5 62h1v1h-1zM10 62h1v1h-1zM23 62h1v1h-1zM37 62h1v1h-1zM39 62h1v1h-1zM44 62h1v1h-1zM61 62h1v1h-1zM2 63h1v1h-1zM21 63h1v1h-1zM34 63h1v1h-1zM10 64h1v1h-1zM47 64h1v1h-1zM50 64h1v1h-1zM10 65h1v1h-1zM65 65h2v1h-2zM4 66h1v1h-1zM8 66h1v1h-1zM18 66h1v1h-1zM21 66h1v1h-1zM43 66h1v1h-1zM45 66h1v1h-1zM48 67h1v1h-1zM22 68h1v1h-1zM37 68h1v1h-1zM15 69h1v1h-1zM41 69h1v1h-1zM50 69h1v1h-1zM55 69h1v1h-1zM15 70h1v1h-1zM32 70h1v1h-1zM6 71h1v1h-1zM12 71h1v1h-1zM16 71h1v1h-1zM30 71h1v1h-1zM33 71h1v1h-1zM43 71h1v1h-1zM47 71h1v1h-1zM54 71h1v1h-1zM28 72h1v1h-1zM10 73h1v1h-1zM31 73h1v1h-1zM37 74h1v1h-1zM45 74h2v1h-2zM5 75h1v1h-1zM13 75h1v1h-1zM38 75h1v1h-1zM61 76h1v1h-1zM21 77h1v1h-1zM25 77h1v1h-1zM59 77h1v1h-1zM15 79h1v1h-1zM47 79h1v1h-1zM6 80h1v1h-1z"/>
<path fill="#03436a" d="M43 11h1v1h-1zM14 12h1v1h-1zM41 12h1v1h-1zM44 12h1v1h-1zM25 15h1v1h-1zM45 15h1v1h-1zM61 15h1v1h-1zM62 16h1v1h-1zM15 17h1v1h-1zM33 17h1v1h-1zM43 17h1v1h-1zM63 17h1v1h-1zM40 18h1v1h-1zM8 19h1v1h-1zM38 19h1v1h-1zM44 19h1v1h-1zM54 19h1v1h-1zM24 20h1v1h-1zM37 20h1v1h-1zM16 21h1v1h-1zM40 21h1v1h-1zM26 22h1v1h-1zM29 22h1v1h-1zM56 22h1v1h-1zM6 23h1v1h-1zM21 23h1v1h-1zM26 23h1v1h-1zM37 23h1v1h-1zM39 23h1v1h-1zM24 24h1v1h-1zM43 24h1v1h-1zM55 24h1v1h-1zM14 25h1v1h-1zM25 25h1v1h-1zM49 25h1v1h-1zM11 26h1v1h-1zM27 26h1v1h-1zM33 26h1v1h-1zM26 27h1v1h-1zM29 27h1v1h-1zM36 27h1v1h-1zM40 27h1v1h-1zM45 27h1v1h-1zM66 27h1v1h-1zM15 28h1v1h-1zM21 28h1v1h-1zM53 28h1v1h-1zM3 29h1v1h-1zM7 29h1v1h-1zM10 29h1v1h-1zM14 29h1v1h-1zM20 29h1v1h-1zM36 29h1v1h-1zM38 29h1v1h-1zM47 29h1v1h-1zM50 29h1v1h-1zM56 29h1v1h-1zM60 29h1v1h-1zM10 30h2v1h-2zM31 30h2v1h-2zM41 30h1v1h-1zM50 30h1v1h-1zM65 30h1v1h-1zM18 31h1v1h-1zM24 31h1v1h-1zM43 31h1v1h-1zM55 31h1v1h-1zM4 32h1v1h-1zM11 32h1v1h-1zM14 32h1v1h-1zM18 32h1v1h-1zM38 32h1v1h-1zM40 32h1v1h-1zM46 32h1v1h-1zM54 32h1v1h-1zM59 32h1v1h-1zM6 33h1v1h-1zM11 33h1v1h-1zM15 33h1v1h-1zM24 33h1v1h-1zM35 33h2v1h-2zM38 33h2v1h-2zM45 33h1v1h-1zM47 33h1v1h-1zM54 33h1v1h-1zM5 34h1v1h-1zM16 34h1v1h-1zM20 34h1v1h-1zM25 34h1v1h-1zM32 34h1v1h-1zM38 34h1v1h-1zM56 34h1v1h-1zM16 35h1v1h-1zM19 35h1v1h-1zM26 35h1v1h-1zM35 35h1v1h-1zM56 35h1v1h-1zM14 36h1v1h-1zM20 36h1v1h-1zM34 36h2v1h-2zM37 36h1v1h-1zM42 36h1v1h-1zM50 36h1v1h-1zM61 36h1v1h-1zM12 37h2v1h-2zM18 37h2v1h-2zM22 37h1v1h-1zM26 37h1v1h-1zM34 37h1v1h-1zM37 37h1v1h-1zM40 37h1v1h-1zM5 38h1v1h-1zM8 38h1v1h-1zM15 38h1v1h-1zM22 38h1v1h-1zM40 38h1v1h-1zM51 38h1v1h-1zM11 39h1v1h-1zM29 39h1v1h-1zM45 39h1v1h-1zM53 39h1v1h-1zM5 40h1v1h-1zM9 40h1v1h-1zM22 40h1v1h-1zM24 40h1v1h-1zM50 40h1v1h-1zM54 40h2v1h-2zM63 40h1v1h-1zM3 41h1v1h-1zM12 41h1v1h-1zM14 41h1v1h-1zM21 41h2v1h-2zM28 41h1v1h-1zM30 41h1v1h-1zM32 41h2v1h-2zM38 41h1v1h-1zM10 42h2v1h-2zM14 42h1v1h-1zM21 42h1v1h-1zM35 42h1v1h-1zM10 43h1v1h-1zM16 43h1v1h-1zM25 43h1v1h-1zM29 43h1v1h-1zM48 43h1v1h-1zM55 43h1v1h-1zM4 44h1v1h-1zM25 44h1v1h-1zM27 44h1v1h-1zM32 44h1v1h-1zM34 44h1v1h-1zM52 44h1v1h-1zM60 44h1v1h-1zM5 45h1v1h-1zM10 45h1v1h-1zM19 45h1v1h-1zM41 45h1v1h-1zM47 45h1v1h-1zM6 46h1v1h-1zM13 46h1v1h-1zM17 46h1v1h-1zM30 46h1v1h-1zM34 46h1v1h-1zM39 46h1v1h-1zM48 46h1v1h-1zM57 46h1v1h-1zM74 46h1v1h-1zM84 46h1v1h-1zM4 47h1v1h-1zM14 47h1v1h-1zM35 47h2v1h-2zM42 47h1v1h-1zM45 47h1v1h-1zM52 47h2v1h-2zM5 48h2v1h-2zM12 48h2v1h-2zM17 48h1v1h-1zM33 48h2v1h-2zM40 48h1v1h-1zM2 49h2v1h-2zM9 49h1v1h-1zM18 49h1v1h-1zM31 49h1v1h-1zM38 49h1v1h-1zM62 49h1v1h-1zM4 50h1v1h-1zM10 50h1v1h-1zM12 50h1v1h-1zM20 50h1v1h-1zM23 50h1v1h-1zM37 50h2v1h-2zM42 50h1v1h-1zM71 50h1v1h-1zM8 51h1v1h-1zM17 51h1v1h-1zM23 51h1v1h-1zM28 51h1v1h-1zM58 51h1v1h-1zM69 51h1v1h-1zM9 52h1v1h-1zM11 52h1v1h-1zM22 52h1v1h-1zM25 52h1v1h-1zM37 52h1v1h-1zM39 52h1v1h-1zM55 52h1v1h-1zM18 53h1v1h-1zM24 53h1v1h-1zM33 53h1v1h-1zM5 54h1v1h-1zM16 54h1v1h-1zM29 54h1v1h-1zM37 54h1v1h-1zM54 54h1v1h-1zM58 54h1v1h-1zM1 55h1v1h-1zM11 55h1v1h-1zM27 55h3v1h-3zM62 55h1v1h-1zM12 56h1v1h-1zM15 56h1v1h-1zM53 56h1v1h-1zM85 56h1v1h-1zM30 57h1v1h-1zM58 57h1v1h-1zM70 57h1v1h-1zM2 58h1v1h-1zM18 58h1v1h-1zM68 58h1v1h-1zM13 59h1v1h-1zM39 59h1v1h-1zM4 60h1v1h-1zM23 60h1v1h-1zM38 60h1v1h-1zM49 60h2v1h-2zM56 60h1v1h-1zM59 60h1v1h-1zM73 60h1v1h-1zM75 60h1v1h-1zM19 61h1v1h-1zM36 61h1v1h-1zM48 61h1v1h-1zM53 61h1v1h-1zM66 61h1v1h-1zM83 61h1v1h-1zM3 62h1v1h-1zM13 62h1v1h-1zM15 62h1v1h-1zM41 62h1v1h-1zM45 62h1v1h-1zM19 63h1v1h-1zM63 63h1v1h-1zM1 64h1v1h-1zM4 64h1v1h-1zM20 64h1v1h-1zM34 64h1v1h-1zM36 64h1v1h-1zM41 64h1v1h-1zM6 65h1v1h-1zM45 65h1v1h-1zM60 65h1v1h-1zM3 66h1v1h-1zM5 66h1v1h-1zM72 66h1v1h-1zM30 68h1v1h-1zM45 68h1v1h-1zM54 68h1v1h-1zM63 68h1v1h-1zM5 69h1v1h-1zM27 69h1v1h-1zM19 70h1v1h-1zM5 71h1v1h-1zM22 71h1v1h-1zM27 71h1v1h-1zM53 71h1v1h-1zM22 73h2v1h-2zM27 73h1v1h-1zM44 73h1v1h-1zM18 74h1v1h-1zM40 74h1v1h-1zM18 75h1v1h-1zM34 75h1v1h-1zM37 75h1v1h-1zM6 76h1v1h-1zM19 76h1v1h-1zM24 76h1v1h-1zM10 77h1v1h-1zM54 77h1v1h-1zM64 77h1v1h-1zM63 78h1v1h-1zM14 79h1v1h-1zM21 79h1v1h-1zM7 80h1v1h-1zM49 81h1v1h-1z"/>
<path fill="#044667" d="M42 11h1v1h-1zM40 13h1v1h-1zM14 14h1v1h-1zM57 15h1v1h-1zM9 16h1v1h-1zM50 16h1v1h-1zM50 17h2v1h-2zM43 18h1v1h-1zM51 19h1v1h-1zM56 19h1v1h-1zM30 20h1v1h-1zM52 20h1v1h-1zM43 21h2v1h-2zM53 21h1v1h-1zM56 21h1v1h-1zM61 21h1v1h-1zM27 22h1v1h-1zM32 22h1v1h-1zM44 22h1v1h-1zM46 22h1v1h-1zM48 22h1v1h-1zM62 22h1v1h-1zM11 23h1v1h-1zM28 23h1v1h-1zM34 23h1v1h-1zM44 23h1v1h-1zM51 23h1v1h-1zM64 23h1v1h-1zM35 24h1v1h-1zM61 24h1v1h-1zM4 25h1v1h-1zM19 25h1v1h-1zM29 25h1v1h-1zM35 25h1v1h-1zM37 25h1v1h-1zM50 25h1v1h-1zM20 26h1v1h-1zM23 26h1v1h-1zM32 26h1v1h-1zM38 26h1v1h-1zM54 26h1v1h-1zM14 27h1v1h-1zM16 27h1v1h-1zM22 27h1v1h-1zM24 27h2v1h-2zM28 27h1v1h-1zM37 27h1v1h-1zM43 27h1v1h-1zM48 27h1v1h-1zM56 27h1v1h-1zM38 28h1v1h-1zM17 29h1v1h-1zM24 29h1v1h-1zM48 29h1v1h-1zM2 30h1v1h-1zM16 30h1v1h-1zM21 30h2v1h-2zM25 30h1v1h-1zM40 30h1v1h-1zM44 30h1v1h-1zM47 30h1v1h-1zM5 31h1v1h-1zM13 31h1v1h-1zM20 31h1v1h-1zM26 31h1v1h-1zM32 31h1v1h-1zM53 31h1v1h-1zM21 32h1v1h-1zM28 32h1v1h-1zM63 32h1v1h-1zM14 33h1v1h-1zM21 33h1v1h-1zM28 33h1v1h-1zM33 33h1v1h-1zM40 33h1v1h-1zM43 33h1v1h-1zM58 33h1v1h-1zM64 33h1v1h-1zM11 34h1v1h-1zM13 34h1v1h-1zM30 34h1v1h-1zM53 34h1v1h-1zM10 35h1v1h-1zM13 35h1v1h-1zM21 35h1v1h-1zM33 35h1v1h-1zM22 36h1v1h-1zM27 36h1v1h-1zM36 36h1v1h-1zM51 36h1v1h-1zM14 37h1v1h-1zM21 37h1v1h-1zM25 37h1v1h-1zM31 37h1v1h-1zM33 37h1v1h-1zM50 37h1v1h-1zM67 37h1v1h-1zM3 38h1v1h-1zM7 38h1v1h-1zM26 38h1v1h-1zM28 38h1v1h-1zM33 38h1v1h-1zM35 38h1v1h-1zM48 38h1v1h-1zM9 39h1v1h-1zM13 39h1v1h-1zM19 39h1v1h-1zM35 39h1v1h-1zM41 39h2v1h-2zM71 39h1v1h-1zM4 40h1v1h-1zM17 40h1v1h-1zM25 40h1v1h-1zM28 40h1v1h-1zM41 40h1v1h-1zM59 40h2v1h-2zM69 40h1v1h-1zM15 41h1v1h-1zM26 41h1v1h-1zM29 41h1v1h-1zM43 41h1v1h-1zM52 41h1v1h-1zM58 41h1v1h-1zM16 42h1v1h-1zM18 42h1v1h-1zM27 42h1v1h-1zM39 42h1v1h-1zM49 42h1v1h-1zM55 42h1v1h-1zM3 43h1v1h-1zM6 43h1v1h-1zM22 43h1v1h-1zM26 43h1v1h-1zM6 44h1v1h-1zM20 44h2v1h-2zM23 44h1v1h-1zM33 44h1v1h-1zM36 44h1v1h-1zM45 44h1v1h-1zM49 44h1v1h-1zM56 44h1v1h-1zM66 44h1v1h-1zM28 45h2v1h-2zM18 46h1v1h-1zM52 46h1v1h-1zM26 47h1v1h-1zM29 47h1v1h-1zM38 47h1v1h-1zM15 48h1v1h-1zM20 48h1v1h-1zM22 48h1v1h-1zM36 48h1v1h-1zM38 48h1v1h-1zM41 48h1v1h-1zM46 48h1v1h-1zM51 48h1v1h-1zM60 48h1v1h-1zM86 48h1v1h-1zM7 49h1v1h-1zM46 49h1v1h-1zM63 49h1v1h-1zM25 50h2v1h-2zM32 50h1v1h-1zM50 50h1v1h-1zM61 50h1v1h-1zM74 50h1v1h-1zM3 51h1v1h-1zM21 51h1v1h-1zM20 52h1v1h-1zM23 52h1v1h-1zM32 52h1v1h-1zM45 52h1v1h-1zM0 53h1v1h-1zM2 53h1v1h-1zM27 53h1v1h-1zM83 53h1v1h-1zM7 54h1v1h-1zM18 54h1v1h-1zM41 54h1v1h-1zM50 55h1v1h-1zM64 55h1v1h-1zM79 55h1v1h-1zM11 56h1v1h-1zM44 56h1v1h-1zM51 56h2v1h-2zM2 57h1v1h-1zM12 57h1v1h-1zM50 57h1v1h-1zM54 57h1v1h-1zM40 58h1v1h-1zM49 58h1v1h-1zM61 58h1v1h-1zM4 59h1v1h-1zM29 59h1v1h-1zM41 59h1v1h-1zM50 59h1v1h-1zM61 59h1v1h-1zM83 59h1v1h-1zM10 60h1v1h-1zM62 60h1v1h-1zM5 61h1v1h-1zM8 61h1v1h-1zM11 61h1v1h-1zM24 61h1v1h-1zM32 61h1v1h-1zM46 61h1v1h-1zM58 61h1v1h-1zM71 61h1v1h-1zM73 61h1v1h-1zM12 62h1v1h-1zM7 63h1v1h-1zM44 63h1v1h-1zM6 64h1v1h-1zM29 64h1v1h-1zM67 64h1v1h-1zM28 66h1v1h-1zM47 66h1v1h-1zM9 67h1v1h-1zM11 67h1v1h-1zM35 67h1v1h-1zM69 67h1v1h-1zM5 68h1v1h-1zM7 68h1v1h-1zM15 68h1v1h-1zM21 69h1v1h-1zM25 69h1v1h-1zM44 69h1v1h-1zM59 69h1v1h-1zM67 69h1v1h-1zM7 71h1v1h-1zM9 71h1v1h-1zM72 71h1v1h-1zM61 72h1v1h-1zM20 73h1v1h-1zM37 73h1v1h-1zM68 73h1v1h-1zM28 74h1v1h-1zM43 74h1v1h-1zM17 75h1v1h-1zM26 75h1v1h-1zM76 75h1v1h-1zM53 76h1v1h-1zM26 77h1v1h-1zM3 78h1v1h-1zM28 78h1v1h-1zM44 78h1v1h-1zM19 79h1v1h-1zM53 79h1v1h-1zM23 80h1v1h-1z"/>
<path fill="#064964" d="M28 15h1v1h-1zM40 15h1v1h-1zM44 15h1v1h-1zM16 16h1v1h-1zM37 16h1v1h-1zM42 16h1v1h-1zM8 18h1v1h-1zM19 18h1v1h-1zM26 18h1v1h-1zM32 18h1v1h-1zM22 19h1v1h-1zM33 19h1v1h-1zM35 19h1v1h-1zM29 20h1v1h-1zM35 20h1v1h-1zM42 20h1v1h-1zM8 21h1v1h-1zM14 21h1v1h-1zM28 21h1v1h-1zM42 21h1v1h-1zM51 21h1v1h-1zM11 22h1v1h-1zM17 22h1v1h-1zM41 22h1v1h-1zM43 23h1v1h-1zM28 24h1v1h-1zM48 24h1v1h-1zM3 25h1v1h-1zM6 25h1v1h-1zM12 25h1v1h-1zM17 25h1v1h-1zM20 25h1v1h-1zM24 25h1v1h-1zM53 25h1v1h-1zM9 26h1v1h-1zM16 26h1v1h-1zM22 26h1v1h-1zM28 26h1v1h-1zM30 26h1v1h-1zM56 26h1v1h-1zM65 26h1v1h-1zM10 27h1v1h-1zM13 27h1v1h-1zM38 27h2v1h-2zM47 27h1v1h-1zM24 28h1v1h-1zM28 28h1v1h-1zM32 28h1v1h-1zM58 28h1v1h-1zM60 28h1v1h-1zM65 28h1v1h-1zM71 28h1v1h-1zM9 29h1v1h-1zM43 29h1v1h-1zM45 29h1v1h-1zM72 29h1v1h-1zM12 30h1v1h-1zM14 30h2v1h-2zM23 30h1v1h-1zM69 30h1v1h-1zM8 31h1v1h-1zM23 31h1v1h-1zM28 31h2v1h-2zM31 31h1v1h-1zM37 31h1v1h-1zM40 31h1v1h-1zM49 31h1v1h-1zM3 32h1v1h-1zM36 32h1v1h-1zM43 32h1v1h-1zM61 32h1v1h-1zM66 32h1v1h-1zM8 33h1v1h-1zM37 33h1v1h-1zM42 33h1v1h-1zM46 33h1v1h-1zM49 33h1v1h-1zM51 33h1v1h-1zM17 34h1v1h-1zM19 34h1v1h-1zM22 34h1v1h-1zM34 34h1v1h-1zM43 34h1v1h-1zM63 34h1v1h-1zM14 35h1v1h-1zM18 35h1v1h-1zM23 35h1v1h-1zM31 35h1v1h-1zM45 35h1v1h-1zM52 35h2v1h-2zM2 36h1v1h-1zM9 36h1v1h-1zM16 36h2v1h-2zM19 36h1v1h-1zM21 36h1v1h-1zM30 36h1v1h-1zM32 36h1v1h-1zM39 36h1v1h-1zM52 36h1v1h-1zM58 36h1v1h-1zM63 36h1v1h-1zM17 37h1v1h-1zM28 37h2v1h-2zM38 37h1v1h-1zM44 37h2v1h-2zM61 37h1v1h-1zM20 38h1v1h-1zM29 38h1v1h-1zM44 38h1v1h-1zM3 39h1v1h-1zM16 39h1v1h-1zM26 39h1v1h-1zM30 39h1v1h-1zM44 39h1v1h-1zM59 39h1v1h-1zM66 39h1v1h-1zM68 39h1v1h-1zM14 40h2v1h-2zM29 40h1v1h-1zM34 40h1v1h-1zM47 40h1v1h-1zM61 40h1v1h-1zM17 41h1v1h-1zM41 41h1v1h-1zM45 41h1v1h-1zM9 42h1v1h-1zM20 42h1v1h-1zM34 42h1v1h-1zM42 42h1v1h-1zM65 42h1v1h-1zM2 43h1v1h-1zM27 43h2v1h-2zM37 43h2v1h-2zM13 44h1v1h-1zM15 44h1v1h-1zM41 44h1v1h-1zM77 44h1v1h-1zM80 44h1v1h-1zM6 45h1v1h-1zM14 45h1v1h-1zM25 45h1v1h-1zM40 45h1v1h-1zM48 45h1v1h-1zM73 45h1v1h-1zM5 46h1v1h-1zM51 46h1v1h-1zM59 46h1v1h-1zM39 47h1v1h-1zM44 47h1v1h-1zM75 47h2v1h-2zM78 47h1v1h-1zM37 49h1v1h-1zM57 49h1v1h-1zM62 50h1v1h-1zM35 51h1v1h-1zM52 51h1v1h-1zM64 51h2v1h-2zM16 52h1v1h-1zM18 52h1v1h-1zM42 52h1v1h-1zM71 52h1v1h-1zM77 52h1v1h-1zM42 53h1v1h-1zM68 53h1v1h-1zM72 53h1v1h-1zM8 54h1v1h-1zM21 54h1v1h-1zM51 54h1v1h-1zM74 54h1v1h-1zM80 54h1v1h-1zM31 55h1v1h-1zM52 55h1v1h-1zM15 57h1v1h-1zM17 58h1v1h-1zM37 58h1v1h-1zM17 59h1v1h-1zM49 59h1v1h-1zM58 59h1v1h-1zM5 60h1v1h-1zM8 60h1v1h-1zM40 60h1v1h-1zM54 60h1v1h-1zM74 60h1v1h-1zM80 60h1v1h-1zM49 61h1v1h-1zM54 61h1v1h-1zM73 62h1v1h-1zM3 63h1v1h-1zM13 63h1v1h-1zM24 63h2v1h-2zM33 63h1v1h-1zM59 63h1v1h-1zM65 63h1v1h-1zM77 63h1v1h-1zM32 64h1v1h-1zM71 64h1v1h-1zM12 65h1v1h-1zM27 65h1v1h-1zM71 65h1v1h-1zM73 65h1v1h-1zM24 66h1v1h-1zM34 66h1v1h-1zM71 66h1v1h-1zM21 67h1v1h-1zM46 67h1v1h-1zM73 67h1v1h-1zM18 69h1v1h-1zM51 69h1v1h-1zM61 69h1v1h-1zM12 70h1v1h-1zM35 70h1v1h-1zM40 70h1v1h-1zM75 70h1v1h-1zM14 71h1v1h-1zM28 71h1v1h-1zM44 72h1v1h-1zM2 74h1v1h-1zM2 75h1v1h-1zM19 75h2v1h-2zM43 75h1v1h-1zM45 75h1v1h-1zM62 75h1v1h-1zM70 75h1v1h-1zM17 76h1v1h-1zM14 77h1v1h-1zM50 77h1v1h-1zM42 78h1v1h-1zM54 80h1v1h-1z"/>
<path fill="#074c61" d="M27 11h1v1h-1zM51 12h1v1h-1zM43 13h1v1h-1zM69 13h1v1h-1zM54 14h1v1h-1zM33 16h1v1h-1zM44 16h1v1h-1zM53 16h1v1h-1zM48 18h1v1h-1zM4 19h1v1h-1zM23 19h1v1h-1zM66 19h1v1h-1zM13 20h1v1h-1zM16 20h1v1h-1zM21 20h1v1h-1zM46 20h1v1h-1zM13 21h1v1h-1zM18 21h1v1h-1zM66 21h1v1h-1zM1 22h1v1h-1zM19 22h1v1h-1zM21 22h1v1h-1zM38 22h1v1h-1zM27 23h1v1h-1zM47 23h1v1h-1zM60 23h1v1h-1zM8 24h1v1h-1zM17 24h1v1h-1zM10 25h1v1h-1zM43 25h2v1h-2zM5 27h1v1h-1zM21 27h1v1h-1zM52 27h1v1h-1zM61 27h1v1h-1zM5 28h1v1h-1zM8 28h2v1h-2zM11 28h1v1h-1zM37 28h1v1h-1zM29 29h1v1h-1zM39 29h1v1h-1zM52 29h1v1h-1zM58 29h1v1h-1zM35 30h1v1h-1zM57 30h1v1h-1zM34 31h1v1h-1zM39 31h1v1h-1zM5 32h1v1h-1zM10 32h1v1h-1zM13 32h1v1h-1zM53 32h1v1h-1zM19 33h1v1h-1zM27 33h1v1h-1zM10 34h1v1h-1zM21 34h1v1h-1zM29 34h1v1h-1zM37 34h1v1h-1zM7 35h1v1h-1zM27 35h1v1h-1zM30 35h1v1h-1zM36 35h1v1h-1zM40 35h1v1h-1zM42 35h1v1h-1zM49 35h1v1h-1zM11 36h1v1h-1zM15 36h1v1h-1zM38 36h1v1h-1zM47 36h2v1h-2zM30 37h1v1h-1zM6 38h1v1h-1zM9 38h1v1h-1zM19 38h1v1h-1zM21 38h1v1h-1zM27 38h1v1h-1zM34 38h1v1h-1zM38 38h1v1h-1zM41 38h1v1h-1zM4 39h1v1h-1zM18 39h1v1h-1zM23 39h1v1h-1zM38 39h1v1h-1zM40 39h1v1h-1zM51 39h1v1h-1zM10 40h1v1h-1zM21 40h1v1h-1zM44 40h1v1h-1zM49 40h1v1h-1zM68 40h1v1h-1zM35 41h1v1h-1zM47 41h1v1h-1zM13 42h1v1h-1zM32 42h1v1h-1zM41 42h1v1h-1zM78 42h1v1h-1zM23 43h1v1h-1zM42 43h1v1h-1zM28 44h1v1h-1zM51 44h1v1h-1zM57 44h1v1h-1zM20 45h1v1h-1zM30 45h1v1h-1zM35 45h1v1h-1zM39 45h1v1h-1zM46 45h1v1h-1zM63 45h1v1h-1zM70 45h1v1h-1zM11 46h1v1h-1zM25 46h1v1h-1zM43 46h1v1h-1zM75 46h1v1h-1zM5 47h1v1h-1zM40 47h1v1h-1zM31 48h1v1h-1zM71 48h1v1h-1zM25 49h1v1h-1zM2 50h1v1h-1zM49 50h1v1h-1zM54 50h1v1h-1zM61 51h1v1h-1zM7 53h1v1h-1zM60 53h1v1h-1zM23 54h1v1h-1zM10 55h1v1h-1zM59 55h1v1h-1zM46 56h1v1h-1zM63 56h1v1h-1zM1 57h1v1h-1zM43 57h1v1h-1zM81 57h1v1h-1zM3 58h1v1h-1zM51 58h1v1h-1zM71 58h1v1h-1zM82 58h1v1h-1zM86 58h1v1h-1zM9 59h1v1h-1zM64 59h1v1h-1zM71 59h1v1h-1zM73 59h1v1h-1zM1 60h1v1h-1zM29 61h1v1h-1zM70 61h1v1h-1zM82 61h1v1h-1zM18 62h1v1h-1zM55 62h1v1h-1zM77 62h1v1h-1zM23 63h1v1h-1zM76 63h1v1h-1zM21 64h1v1h-1zM44 64h1v1h-1zM46 64h1v1h-1zM60 64h1v1h-1zM78 64h1v1h-1zM38 65h1v1h-1zM44 66h1v1h-1zM63 66h1v1h-1zM25 67h1v1h-1zM75 67h1v1h-1zM77 67h1v1h-1zM57 68h1v1h-1zM78 68h1v1h-1zM79 69h1v1h-1zM52 70h1v1h-1zM74 70h1v1h-1zM78 70h1v1h-1zM81 70h1v1h-1zM87 70h1v1h-1zM0 71h1v1h-1zM18 71h1v1h-1zM40 71h1v1h-1zM59 71h1v1h-1zM75 71h1v1h-1zM78 71h1v1h-1zM88 71h1v1h-1zM13 72h2v1h-2zM36 72h1v1h-1zM40 72h1v1h-1zM51 72h1v1h-1zM47 73h1v1h-1zM75 73h1v1h-1zM87 73h1v1h-1zM24 74h2v1h-2zM80 74h1v1h-1zM35 76h1v1h-1zM59 76h1v1h-1zM73 76h1v1h-1zM62 77h1v1h-1zM4 78h1v1h-1zM35 79h1v1h-1zM40 80h1v1h-1z"/>
<path fill="#08505d" d="M61 11h1v1h-1zM24 15h1v1h-1zM29 15h1v1h-1zM34 16h1v1h-1zM10 17h1v1h-1zM25 17h1v1h-1zM9 18h1v1h-1zM14 18h1v1h-1zM39 18h1v1h-1zM66 20h1v1h-1zM37 21h1v1h-1zM37 22h1v1h-1zM51 22h1v1h-1zM52 23h1v1h-1zM54 23h1v1h-1zM42 24h1v1h-1zM46 24h1v1h-1zM5 25h1v1h-1zM15 25h1v1h-1zM26 25h1v1h-1zM48 25h1v1h-1zM10 26h1v1h-1zM36 26h1v1h-1zM45 26h1v1h-1zM52 26h1v1h-1zM70 26h1v1h-1zM2 27h1v1h-1zM20 27h1v1h-1zM31 27h1v1h-1zM7 28h1v1h-1zM25 28h1v1h-1zM27 29h1v1h-1zM30 29h1v1h-1zM44 29h1v1h-1zM4 30h1v1h-1zM8 30h1v1h-1zM17 30h1v1h-1zM19 30h1v1h-1zM28 30h1v1h-1zM42 30h1v1h-1zM54 30h1v1h-1zM12 31h1v1h-1zM38 31h1v1h-1zM45 31h1v1h-1zM17 32h1v1h-1zM24 32h1v1h-1zM26 32h1v1h-1zM35 32h1v1h-1zM5 33h1v1h-1zM10 33h1v1h-1zM41 33h1v1h-1zM62 33h1v1h-1zM15 34h1v1h-1zM35 34h1v1h-1zM17 35h1v1h-1zM38 35h1v1h-1zM54 35h1v1h-1zM31 36h1v1h-1zM40 36h1v1h-1zM53 36h1v1h-1zM55 36h1v1h-1zM0 37h2v1h-2zM16 37h1v1h-1zM47 37h2v1h-2zM58 37h1v1h-1zM13 38h1v1h-1zM7 39h1v1h-1zM64 40h1v1h-1zM37 41h1v1h-1zM44 41h1v1h-1zM0 42h1v1h-1zM30 42h1v1h-1zM56 42h1v1h-1zM74 42h1v1h-1zM1 43h1v1h-1zM61 43h1v1h-1zM1 44h1v1h-1zM9 44h1v1h-1zM38 44h1v1h-1zM54 44h1v1h-1zM55 45h1v1h-1zM59 45h1v1h-1zM2 46h1v1h-1zM15 46h1v1h-1zM49 47h1v1h-1zM61 47h1v1h-1zM29 48h1v1h-1zM59 48h1v1h-1zM1 51h1v1h-1zM57 51h1v1h-1zM53 52h1v1h-1zM81 53h1v1h-1zM2 54h1v1h-1zM38 54h1v1h-1zM72 57h1v1h-1zM75 58h2v1h-2zM2 59h1v1h-1zM33 59h1v1h-1zM53 59h1v1h-1zM76 59h1v1h-1zM43 60h1v1h-1zM65 60h1v1h-1zM67 60h1v1h-1zM69 60h1v1h-1zM71 60h1v1h-1zM72 61h1v1h-1zM72 62h1v1h-1zM76 62h1v1h-1zM31 63h1v1h-1zM72 63h1v1h-1zM33 64h1v1h-1zM80 64h1v1h-1zM33 65h1v1h-1zM79 65h1v1h-1zM6 66h1v1h-1zM53 66h1v1h-1zM76 66h1v1h-1zM62 67h1v1h-1zM84 67h1v1h-1zM12 68h1v1h-1zM18 68h1v1h-1zM69 69h1v1h-1zM73 69h1v1h-1zM86 69h1v1h-1zM88 69h1v1h-1zM92 69h1v1h-1zM94 69h1v1h-1zM42 70h1v1h-1zM46 70h1v1h-1zM83 70h1v1h-1zM8 71h1v1h-1zM66 71h1v1h-1zM73 71h1v1h-1zM83 71h1v1h-1zM85 71h1v1h-1zM45 72h1v1h-1zM72 72h1v1h-1zM74 72h1v1h-1zM83 72h1v1h-1zM54 73h1v1h-1zM75 74h1v1h-1zM82 74h1v1h-1zM10 75h1v1h-1zM71 75h1v1h-1zM10 76h1v1h-1zM15 76h1v1h-1zM27 76h1v1h-1zM76 76h1v1h-1zM9 78h1v1h-1zM68 78h1v1h-1zM79 81h1v1h-1zM26 82h1v1h-1z"/>
<path fill="#0a535a" d="M47 11h1v1h-1zM29 12h1v1h-1zM51 14h1v1h-1zM53 14h1v1h-1zM55 14h1v1h-1zM25 16h1v1h-1zM38 16h1v1h-1zM43 16h1v1h-1zM48 16h2v1h-2zM23 17h1v1h-1zM67 17h1v1h-1zM21 18h1v1h-1zM36 18h1v1h-1zM18 19h1v1h-1zM45 19h1v1h-1zM48 19h1v1h-1zM57 19h1v1h-1zM15 20h1v1h-1zM20 20h1v1h-1zM59 20h1v1h-1zM10 21h1v1h-1zM39 21h1v1h-1zM8 22h1v1h-1zM52 22h1v1h-1zM12 23h1v1h-1zM36 23h1v1h-1zM31 24h1v1h-1zM38 24h1v1h-1zM57 24h1v1h-1zM21 25h1v1h-1zM54 25h1v1h-1zM66 25h1v1h-1zM13 26h1v1h-1zM19 26h1v1h-1zM34 26h1v1h-1zM49 26h1v1h-1zM62 26h1v1h-1zM23 27h1v1h-1zM33 27h1v1h-1zM50 27h1v1h-1zM58 27h1v1h-1zM18 28h1v1h-1zM22 28h1v1h-1zM41 28h1v1h-1zM50 28h1v1h-1zM5 29h1v1h-1zM37 29h1v1h-1zM41 29h1v1h-1zM46 29h1v1h-1zM7 30h1v1h-1zM51 30h1v1h-1zM64 30h1v1h-1zM14 31h1v1h-1zM27 31h1v1h-1zM56 31h1v1h-1zM58 31h1v1h-1zM68 31h1v1h-1zM9 32h1v1h-1zM15 32h1v1h-1zM49 32h1v1h-1zM58 32h1v1h-1zM4 33h1v1h-1zM9 33h1v1h-1zM23 33h1v1h-1zM26 33h1v1h-1zM52 33h1v1h-1zM57 33h1v1h-1zM3 34h1v1h-1zM1 35h1v1h-1zM39 35h1v1h-1zM24 36h1v1h-1zM29 36h1v1h-1zM7 37h2v1h-2zM10 37h1v1h-1zM53 37h1v1h-1zM31 39h1v1h-1zM49 39h1v1h-1zM52 39h1v1h-1zM53 41h1v1h-1zM77 41h1v1h-1zM1 42h1v1h-1zM50 42h1v1h-1zM53 43h1v1h-1zM63 44h1v1h-1zM65 44h1v1h-1zM40 46h1v1h-1zM44 46h1v1h-1zM80 46h1v1h-1zM30 47h2v1h-2zM43 47h1v1h-1zM56 49h1v1h-1zM65 50h1v1h-1zM54 52h1v1h-1zM1 53h1v1h-1zM80 53h1v1h-1zM57 54h1v1h-1zM72 54h1v1h-1zM68 55h1v1h-1zM71 57h1v1h-1zM61 60h1v1h-1zM82 60h1v1h-1zM75 61h1v1h-1zM71 62h1v1h-1zM78 62h1v1h-1zM58 63h1v1h-1zM68 63h1v1h-1zM71 63h1v1h-1zM79 63h1v1h-1zM55 66h1v1h-1zM79 66h1v1h-1zM10 68h1v1h-1zM11 69h1v1h-1zM6 70h1v1h-1zM21 71h1v1h-1zM7 72h1v1h-1zM65 72h1v1h-1zM34 73h1v1h-1zM7 74h1v1h-1zM67 75h1v1h-1zM7 77h1v1h-1zM72 77h1v1h-1zM18 78h1v1h-1zM26 78h1v1h-1zM48 78h1v1h-1zM42 80h1v1h-1zM18 81h1v1h-1zM22 82h1v1h-1zM28 82h1v1h-1z"/>
<path fill="#0b5657" d="M31 12h1v1h-1zM28 13h1v1h-1zM33 13h1v1h-1zM29 14h1v1h-1zM18 15h1v1h-1zM48 15h1v1h-1zM36 16h1v1h-1zM45 16h1v1h-1zM24 18h1v1h-1zM45 18h1v1h-1zM24 19h1v1h-1zM43 19h1v1h-1zM47 19h1v1h-1zM8 20h1v1h-1zM28 20h1v1h-1zM36 20h1v1h-1zM61 20h2v1h-2zM20 21h2v1h-2zM27 21h1v1h-1zM58 22h1v1h-1zM10 23h1v1h-1zM32 23h1v1h-1zM2 24h1v1h-1zM6 24h1v1h-1zM11 24h1v1h-1zM36 24h1v1h-1zM56 24h1v1h-1zM39 25h1v1h-1zM42 25h1v1h-1zM56 25h1v1h-1zM65 25h1v1h-1zM6 26h1v1h-1zM39 26h1v1h-1zM48 26h1v1h-1zM51 26h1v1h-1zM15 27h1v1h-1zM32 27h1v1h-1zM2 28h1v1h-1zM4 28h1v1h-1zM6 28h1v1h-1zM40 28h1v1h-1zM61 28h1v1h-1zM6 29h1v1h-1zM22 29h1v1h-1zM1 30h1v1h-1zM46 30h1v1h-1zM48 30h1v1h-1zM61 30h1v1h-1zM10 31h1v1h-1zM23 32h1v1h-1zM34 32h1v1h-1zM37 32h1v1h-1zM22 33h1v1h-1zM55 33h1v1h-1zM78 33h1v1h-1zM51 34h1v1h-1zM54 34h2v1h-2zM9 35h1v1h-1zM28 35h1v1h-1zM47 35h1v1h-1zM75 35h1v1h-1zM69 36h1v1h-1zM6 37h1v1h-1zM39 38h1v1h-1zM56 38h1v1h-1zM26 40h1v1h-1zM73 40h1v1h-1zM4 41h1v1h-1zM4 42h1v1h-1zM17 42h1v1h-1zM24 42h1v1h-1zM53 42h1v1h-1zM62 44h1v1h-1zM49 45h1v1h-1zM75 45h1v1h-1zM79 45h1v1h-1zM6 47h1v1h-1zM56 47h1v1h-1zM60 49h1v1h-1zM1 50h1v1h-1zM12 51h1v1h-1zM50 52h1v1h-1zM76 53h1v1h-1zM50 54h1v1h-1zM63 54h1v1h-1zM69 54h1v1h-1zM4 55h1v1h-1zM57 55h1v1h-1zM61 56h1v1h-1zM53 57h1v1h-1zM77 57h1v1h-1zM39 58h1v1h-1zM46 58h1v1h-1zM62 59h1v1h-1zM75 59h1v1h-1zM57 60h1v1h-1zM51 63h1v1h-1zM49 65h1v1h-1zM58 65h1v1h-1zM68 65h1v1h-1zM68 66h1v1h-1zM8 68h1v1h-1zM24 68h1v1h-1zM17 73h1v1h-1zM35 74h2v1h-2zM11 75h1v1h-1zM23 75h1v1h-1zM54 75h1v1h-1zM30 76h1v1h-1zM19 77h1v1h-1zM3 80h1v1h-1zM25 80h1v1h-1z"/>
<path fill="#0d5a53" d="M18 10h1v1h-1zM52 11h1v1h-1zM27 12h1v1h-1zM30 13h1v1h-1zM34 13h1v1h-1zM44 14h1v1h-1zM62 14h1v1h-1zM30 15h1v1h-1zM32 15h1v1h-1zM66 15h1v1h-1zM64 17h1v1h-1zM20 18h1v1h-1zM46 18h1v1h-1zM60 18h1v1h-1zM17 19h1v1h-1zM34 20h1v1h-1zM15 21h1v1h-1zM46 21h1v1h-1zM45 22h1v1h-1zM9 23h1v1h-1zM30 23h1v1h-1zM72 23h1v1h-1zM26 24h1v1h-1zM7 25h1v1h-1zM2 26h1v1h-1zM25 26h1v1h-1zM41 26h1v1h-1zM43 26h2v1h-2zM58 26h1v1h-1zM61 26h1v1h-1zM54 27h1v1h-1zM20 28h1v1h-1zM5 30h1v1h-1zM73 30h1v1h-1zM44 31h1v1h-1zM74 31h1v1h-1zM12 33h1v1h-1zM44 33h1v1h-1zM72 33h1v1h-1zM7 34h1v1h-1zM31 34h1v1h-1zM58 34h1v1h-1zM67 34h1v1h-1zM20 35h1v1h-1zM3 36h1v1h-1zM5 36h1v1h-1zM45 38h1v1h-1zM55 39h1v1h-1zM3 40h1v1h-1zM46 40h1v1h-1zM51 41h1v1h-1zM59 41h1v1h-1zM68 46h1v1h-1zM65 47h1v1h-1zM53 48h1v1h-1zM55 49h1v1h-1zM65 49h1v1h-1zM74 49h1v1h-1zM0 51h1v1h-1zM77 54h1v1h-1zM58 55h1v1h-1zM49 63h1v1h-1zM54 64h1v1h-1zM39 65h1v1h-1zM43 68h1v1h-1zM66 72h1v1h-1zM61 73h1v1h-1zM33 74h1v1h-1zM52 74h1v1h-1zM68 74h1v1h-1zM40 75h1v1h-1zM65 75h1v1h-1zM43 77h1v1h-1zM50 79h1v1h-1zM21 82h1v1h-1z"/>
<path fill="#0e5d50" d="M49 14h1v1h-1zM41 16h1v1h-1zM47 17h1v1h-1zM55 17h1v1h-1zM59 17h1v1h-1zM10 18h1v1h-1zM62 18h1v1h-1zM2 20h1v1h-1zM7 20h1v1h-1zM9 20h1v1h-1zM27 20h1v1h-1zM48 20h1v1h-1zM56 20h1v1h-1zM50 21h1v1h-1zM20 22h1v1h-1zM25 22h1v1h-1zM57 22h1v1h-1zM18 23h1v1h-1zM16 24h1v1h-1zM25 24h1v1h-1zM52 24h1v1h-1zM13 25h1v1h-1zM22 25h1v1h-1zM58 25h1v1h-1zM8 26h1v1h-1zM40 26h1v1h-1zM60 26h1v1h-1zM1 28h1v1h-1zM16 28h1v1h-1zM47 28h1v1h-1zM15 31h1v1h-1zM69 32h1v1h-1zM71 32h1v1h-1zM63 33h1v1h-1zM59 35h1v1h-1zM66 35h1v1h-1zM0 36h1v1h-1zM6 36h1v1h-1zM59 37h1v1h-1zM69 37h1v1h-1zM54 38h1v1h-1zM60 39h1v1h-1zM65 39h1v1h-1zM51 40h1v1h-1zM5 44h1v1h-1zM79 44h1v1h-1zM0 48h1v1h-1zM85 51h1v1h-1zM58 52h1v1h-1zM73 52h1v1h-1zM49 53h1v1h-1zM66 54h1v1h-1zM77 56h1v1h-1zM53 58h1v1h-1zM56 58h1v1h-1zM43 64h1v1h-1zM18 67h1v1h-1zM16 69h1v1h-1zM10 70h1v1h-1zM45 71h1v1h-1zM48 77h1v1h-1z"/>
<path fill="#10604d" d="M40 16h1v1h-1zM41 17h1v1h-1zM9 19h1v1h-1zM57 21h1v1h-1zM42 22h1v1h-1zM19 23h1v1h-1zM48 23h1v1h-1zM15 24h1v1h-1zM32 24h1v1h-1zM49 24h1v1h-1zM53 26h1v1h-1zM9 27h1v1h-1zM46 27h1v1h-1zM63 27h1v1h-1zM65 27h1v1h-1zM0 29h1v1h-1zM25 29h1v1h-1zM54 29h1v1h-1zM24 30h1v1h-1zM27 30h1v1h-1zM59 30h1v1h-1zM7 31h1v1h-1zM52 31h1v1h-1zM13 33h1v1h-1zM69 34h1v1h-1zM51 37h1v1h-1zM72 37h1v1h-1zM69 39h1v1h-1zM66 40h1v1h-1zM51 42h1v1h-1zM58 42h1v1h-1zM62 46h1v1h-1zM60 47h1v1h-1zM70 49h1v1h-1zM63 50h1v1h-1zM52 52h1v1h-1zM75 55h1v1h-1zM57 57h1v1h-1zM56 59h1v1h-1zM57 62h1v1h-1zM62 65h1v1h-1zM55 68h1v1h-1zM62 68h1v1h-1zM58 71h1v1h-1zM1 73h1v1h-1z"/>
<path fill="#11644a" d="M10 12h1v1h-1zM30 12h1v1h-1zM14 13h1v1h-1zM58 13h1v1h-1zM20 15h1v1h-1zM52 15h1v1h-1zM22 16h1v1h-1zM24 16h1v1h-1zM54 18h1v1h-1zM16 19h1v1h-1zM50 19h1v1h-1zM40 20h1v1h-1zM34 21h1v1h-1zM49 21h1v1h-1zM55 22h1v1h-1zM70 22h1v1h-1zM19 24h1v1h-1zM3 26h1v1h-1zM47 26h1v1h-1zM49 28h1v1h-1zM33 29h1v1h-1zM13 30h1v1h-1zM19 31h1v1h-1zM57 31h1v1h-1zM50 33h1v1h-1zM67 38h1v1h-1zM73 38h1v1h-1zM74 39h1v1h-1zM4 68h1v1h-1zM17 70h1v1h-1zM2 72h1v1h-1zM64 74h1v1h-1zM51 76h1v1h-1zM17 80h1v1h-1z"/>
<path fill="#126746" d="M51 11h1v1h-1zM16 12h1v1h-1zM39 13h1v1h-1zM40 14h1v1h-1zM27 15h1v1h-1zM34 17h1v1h-1zM41 18h1v1h-1zM49 18h1v1h-1zM11 19h1v1h-1zM43 20h1v1h-1zM30 22h1v1h-1zM65 22h1v1h-1zM46 23h1v1h-1zM8 29h1v1h-1zM42 29h1v1h-1zM75 29h1v1h-1zM2 31h1v1h-1zM45 32h1v1h-1zM65 33h1v1h-1zM76 34h1v1h-1zM70 35h1v1h-1zM74 38h1v1h-1zM59 42h1v1h-1zM69 44h1v1h-1zM2 47h1v1h-1zM64 53h1v1h-1zM2 56h1v1h-1zM44 70h1v1h-1zM60 70h1v1h-1zM3 74h1v1h-1zM30 78h1v1h-1zM39 79h1v1h-1z"/>
<path fill="#146a43" d="M29 11h1v1h-1zM50 14h1v1h-1zM29 17h1v1h-1zM33 18h1v1h-1zM39 20h1v1h-1zM45 21h1v1h-1zM35 22h1v1h-1zM53 22h1v1h-1zM22 23h1v1h-1zM50 23h1v1h-1zM20 24h1v1h-1zM40 25h1v1h-1zM3 31h1v1h-1zM57 34h1v1h-1zM76 35h1v1h-1zM66 36h1v1h-1zM73 37h1v1h-1zM75 38h1v1h-1zM76 39h1v1h-1zM79 42h1v1h-1zM61 45h1v1h-1zM66 52h1v1h-1zM43 70h1v1h-1zM42 72h1v1h-1zM9 73h1v1h-1zM49 73h1v1h-1zM62 73h1v1h-1zM41 75h1v1h-1zM18 76h1v1h-1zM20 80h1v1h-1z"/>
<path fill="#156d40" d="M21 7h1v1h-1zM41 9h1v1h-1zM32 11h1v1h-1zM38 11h1v1h-1zM58 11h1v1h-1zM45 13h1v1h-1zM14 15h1v1h-1zM52 16h1v1h-1zM18 17h1v1h-1zM42 19h1v1h-1zM62 19h1v1h-1zM6 20h1v1h-1zM22 21h1v1h-1zM13 22h1v1h-1zM3 24h1v1h-1zM9 24h1v1h-1zM4 27h1v1h-1zM70 28h1v1h-1zM57 29h1v1h-1zM0 30h1v1h-1zM77 31h1v1h-1zM72 34h1v1h-1zM68 35h1v1h-1zM70 39h1v1h-1zM54 49h1v1h-1zM60 50h1v1h-1zM57 52h1v1h-1zM63 55h1v1h-1zM53 60h1v1h-1zM2 70h1v1h-1zM50 73h1v1h-1zM17 77h1v1h-1z"/>
<path fill="#17713c" d="M21 6h1v1h-1zM37 7h1v1h-1zM18 9h1v1h-1zM44 9h1v1h-1zM52 10h1v1h-1zM33 11h1v1h-1zM54 11h1v1h-1zM10 15h1v1h-1zM54 17h1v1h-1zM18 18h1v1h-1zM52 19h1v1h-1zM4 20h1v1h-1zM49 20h1v1h-1zM53 20h1v1h-1zM65 23h1v1h-1zM27 24h1v1h-1zM1 27h1v1h-1zM51 28h1v1h-1zM57 28h1v1h-1zM67 31h1v1h-1zM60 33h1v1h-1zM46 34h1v1h-1zM66 38h1v1h-1zM72 38h1v1h-1zM61 57h1v1h-1zM55 63h1v1h-1zM39 66h1v1h-1zM56 68h1v1h-1zM58 73h1v1h-1zM11 76h1v1h-1zM36 76h1v1h-1zM55 77h1v1h-1zM38 80h1v1h-1z"/>
<path fill="#187439" d="M39 5h1v1h-1zM27 7h1v1h-1zM40 8h1v1h-1zM48 8h1v1h-1zM25 9h1v1h-1zM31 11h1v1h-1zM46 11h1v1h-1zM69 12h1v1h-1zM47 15h1v1h-1zM14 17h1v1h-1zM58 21h1v1h-1zM4 22h1v1h-1zM71 25h1v1h-1zM6 30h1v1h-1zM70 42h1v1h-1zM62 43h1v1h-1zM67 45h1v1h-1zM63 52h1v1h-1zM62 61h1v1h-1zM7 64h1v1h-1zM56 64h1v1h-1zM2 68h1v1h-1zM47 72h1v1h-1zM50 72h1v1h-1zM29 76h1v1h-1z"/>
<path fill="#1a7736" d="M30 4h1v1h-1zM27 6h1v1h-1zM26 7h1v1h-1zM35 7h1v1h-1zM51 7h1v1h-1zM19 8h1v1h-1zM31 8h1v1h-1zM17 9h1v1h-1zM29 10h1v1h-1zM47 10h1v1h-1zM10 11h1v1h-1zM38 14h1v1h-1zM25 18h1v1h-1zM38 20h1v1h-1zM73 28h1v1h-1zM66 30h1v1h-1zM66 37h1v1h-1zM60 69h1v1h-1zM56 71h1v1h-1z"/>
<path fill="#1b7b32" d="M39 2h1v1h-1zM46 3h1v1h-1zM24 4h1v1h-1zM42 4h1v1h-1zM38 5h1v1h-1zM22 6h1v1h-1zM52 6h1v1h-1zM20 7h1v1h-1zM32 7h1v1h-1zM38 7h1v1h-1zM41 7h1v1h-1zM34 8h1v1h-1zM21 9h1v1h-1zM26 9h1v1h-1zM30 9h1v1h-1zM31 10h1v1h-1zM35 11h1v1h-1zM34 12h1v1h-1zM24 13h1v1h-1zM41 15h1v1h-1zM39 16h1v1h-1zM24 22h1v1h-1zM54 22h1v1h-1zM66 22h1v1h-1zM40 23h1v1h-1zM18 25h1v1h-1zM57 27h1v1h-1zM42 28h1v1h-1zM75 31h1v1h-1zM71 33h1v1h-1zM48 71h1v1h-1zM57 74h1v1h-1z"/>
<path fill="#1c7e2f" d="M16 2h1v1h-1zM20 3h1v1h-1zM25 3h1v1h-1zM14 5h1v1h-1zM18 5h2v1h-2zM46 5h1v1h-1zM13 6h1v1h-1zM30 6h2v1h-2zM50 6h1v1h-1zM33 7h2v1h-2zM47 8h1v1h-1zM55 8h1v1h-1zM24 9h1v1h-1zM33 9h1v1h-1zM62 9h1v1h-1zM20 10h1v1h-1zM45 12h1v1h-1zM60 13h1v1h-1zM21 17h1v1h-1zM57 20h1v1h-1zM34 22h1v1h-1zM8 23h1v1h-1zM2 29h1v1h-1zM59 36h1v1h-1zM71 42h1v1h-1zM74 47h1v1h-1z"/>
<path fill="#1e812c" d="M24 1h1v1h-1zM28 4h1v1h-1zM39 8h1v1h-1zM29 9h1v1h-1zM41 10h1v1h-1zM26 11h1v1h-1zM23 12h1v1h-1zM30 16h1v1h-1zM50 18h1v1h-1zM12 22h1v1h-1zM74 22h1v1h-1zM57 36h1v1h-1zM64 43h1v1h-1zM58 60h1v1h-1zM49 62h1v1h-1zM39 71h1v1h-1z"/>
<path fill="#1f8429" d="M23 2h1v1h-1zM22 3h1v1h-1zM30 5h1v1h-1zM44 5h1v1h-1zM34 6h1v1h-1zM44 6h1v1h-1zM51 6h1v1h-1zM14 7h1v1h-1zM45 11h1v1h-1zM48 11h1v1h-1zM38 12h2v1h-2zM41 23h1v1h-1zM4 26h1v1h-1zM0 38h1v1h-1zM64 38h1v1h-1z"/>
<path fill="#218825" d="M25 4h1v1h-1zM2 8h1v1h-1zM35 10h1v1h-1zM20 11h1v1h-1zM25 11h1v1h-1zM23 13h1v1h-1zM46 13h1v1h-1zM7 14h1v1h-1zM32 14h1v1h-1zM46 14h1v1h-1zM7 16h1v1h-1zM56 17h1v1h-1zM53 18h1v1h-1zM61 18h1v1h-1zM58 19h1v1h-1zM14 23h1v1h-1zM62 23h1v1h-1zM66 24h1v1h-1zM45 25h1v1h-1zM70 25h1v1h-1zM64 27h1v1h-1z"/>
<path fill="#228b22" d="M21 1h1v1h-1zM35 9h1v1h-1z"/>
</g>
<path fill="none" stroke="#000000" stroke-width="6.25" stroke-linejoin="round" d="M655.6 2084.7 670.1 2098.6 684.6 2084.7 670.1 2070.7zM699.1 2084.7 713.6 2098.6 728 2084.7 713.6 2070.7 713.6 2070.7 699.1 2056.8 699.1 2056.8 684.6 2042.8 670.1 2056.8 684.6 2070.7 684.6 2070.7 699.1 2084.7zM583.1 2070.7 597.6 2084.7 612.1 2070.7 597.6 2056.8zM916.4 2070.7 930.9 2084.7 945.4 2070.7 930.9 2056.8zM641.1 2056.8 655.6 2070.7 670.1 2056.8 655.6 2042.8zM713.6 2056.8 728 2070.7 742.5 2056.8 742.5 2042.8 728 2028.9 713.6 2028.9 699.1 2042.8 713.6 2056.8zM1017.8 2056.8 1032.3 2070.7 1046.8 2056.8 1032.3 2042.8zM757 2042.8 771.5 2056.8 786 2042.8 771.5 2028.9zM959.9 2042.8 974.4 2056.8 988.9 2042.8 974.4 2028.9zM554.2 2028.9 568.7 2042.8 583.1 2028.9 568.7 2015 568.7 2015 568.7 2015 583.1 2001 568.7 1987.1 554.2 2001 554.2 2001 539.7 2015 554.2 2028.9zM612.1 2028.9 626.6 2042.8 641.1 2042.8 655.6 2028.9 641.1 2015 626.6 2015zM901.9 2028.9 916.4 2042.8 930.9 2042.8 945.4 2028.9 930.9 2015 916.4 2015zM988.9 2028.9 1003.4 2042.8 1017.8 2028.9 1017.8 2015 1003.4 2001 988.9 2015zM1017.8 2028.9 1032.3 2042.8 1046.8 2028.9 1032.3 2015zM655.6 2015 670.1 2028.9 684.6 2028.9 699.1 2015 684.6 2001 684.6 2001 670.1 1987.1 655.6 1987.1 655.6 1987.1 641.1 1973.1 641.1 1973.1 641.1 1959.2 626.6 1945.3 612.1 1959.2 612.1 1959.2 597.6 1973.1 612.1 1987.1 626.6 1987.1 626.6 1987.1 641.1 2001 641.1 2001 655.6 2015zM742.5 2015 757 2028.9 771.5 2015 771.5 2001 757 1987.1 742.5 1987.1 728 2001 742.5 2015zM1075.8 2015 1090.3 2028.9 1104.8 2028.9 1119.3 2028.9 1133.8 2015 1119.3 2001 1119.3 2001 1104.8 1987.1 1090.3 2001 1090.3 2001zM380.3 1987.1 394.8 2001 409.3 1987.1 394.8 1973.1zM829.5 1987.1 829.5 1987.1 815 1973.1 815 1973.1 815 1973.1 829.5 1959.2 829.5 1959.2 844 1959.2 858.5 1945.3 858.5 1945.3 858.5 1945.3 858.5 1959.2 858.5 1973.1 858.5 1973.1 858.5 1973.1 844 1959.2 829.5 1973.1 844 1987.1 844 1987.1 844 1987.1zM1032.3 1987.1 1046.8 2001 1061.3 2001 1075.8 1987.1 1061.3 1973.1 1046.8 1973.1zM1148.3 1987.1 1162.8 2001 1177.2 1987.1 1162.8 1973.1zM525.2 1973.1 539.7 1987.1 554.2 1973.1 539.7 1959.2zM655.6 1973.1 670.1 1987.1 684.6 1973.1 670.1 1959.2 670.1 1959.2 670.1 1945.3 655.6 1931.3 641.1 1945.3 641.1 1959.2 655.6 1973.1zM699.1 1973.1 713.6 1987.1 728 1987.1 742.5 1987.1 757 1973.1 742.5 1959.2 728 1959.2 713.6 1959.2zM988.9 1973.1 1003.4 1987.1 1017.8 1973.1 1003.4 1959.2zM1249.7 1973.1 1264.2 1987.1 1278.7 1973.1 1264.2 1959.2zM800.5 1959.2 800.5 1959.2 800.5 1945.3 800.5 1945.3 800.5 1945.3 800.5 1959.2zM1380.1 1959.2 1394.6 1973.1 1409.1 1959.2 1394.6 1945.3zM496.2 1945.3 510.7 1959.2 525.2 1959.2 539.7 1945.3 525.2 1931.3 525.2 1931.3 525.2 1931.3 539.7 1917.4 525.2 1903.4 510.7 1917.4 510.7 1917.4 496.2 1931.3zM1133.8 1945.3 1148.3 1959.2 1162.8 1945.3 1148.3 1931.3zM1191.7 1945.3 1206.2 1959.2 1220.7 1945.3 1206.2 1931.3zM1235.2 1945.3 1249.7 1959.2 1264.2 1945.3 1249.7 1931.3zM1423.6 1945.3 1438.1 1959.2 1452.5 1945.3 1452.5 1945.3 1467 1931.3 1452.5 1917.4 1438.1 1931.3 1438.1 1931.3zM583.1 1931.3 597.6 1945.3 612.1 1931.3 597.6 1917.4zM684.6 1931.3 699.1 1945.3 713.6 1931.3 713.6 1931.3 728 1917.4 713.6 1903.4 699.1 1903.4 684.6 1917.4zM829.5 1931.3 829.5 1931.3 815 1917.4 815 1917.4 815 1917.4 829.5 1917.4 829.5 1917.4 844 1931.3 844 1931.3 844 1931.3zM974.4 1931.3 974.4 1931.3 959.9 1917.4 959.9 1917.4 959.9 1903.4 959.9 1903.4 959.9 1903.4 974.4 1917.4 974.4 1917.4 988.9 1931.3 988.9 1931.3 988.9 1931.3zM1351.1 1931.3 1365.6 1945.3 1380.1 1931.3 1380.1 1917.4 1380.1 1903.4 1365.6 1889.5 1351.1 1903.4 1351.1 1917.4zM409.3 1917.4 423.8 1931.3 438.2 1931.3 452.7 1931.3 467.2 1917.4 467.2 1917.4 481.7 1903.4 467.2 1889.5 452.7 1903.4 452.7 1903.4 438.2 1903.4 423.8 1903.4 423.8 1903.4 409.3 1889.5 394.8 1903.4 409.3 1917.4zM786 1917.4 786 1917.4 786 1917.4 786 1917.4zM1003.4 1917.4 1003.4 1917.4 1003.4 1917.4 1003.4 1917.4zM1191.7 1917.4 1206.2 1931.3 1220.7 1917.4 1206.2 1903.4zM757 1903.4 757 1903.4 757 1903.4 757 1903.4zM800.5 1903.4 800.5 1903.4 800.5 1903.4 800.5 1903.4zM858.5 1903.4 858.5 1903.4 858.5 1903.4 858.5 1903.4zM930.9 1903.4 930.9 1903.4 930.9 1903.4 930.9 1903.4zM988.9 1903.4 988.9 1903.4 988.9 1903.4 988.9 1903.4zM1017.8 1903.4 1017.8 1903.4 1017.8 1903.4 1017.8 1903.4zM1119.3 1903.4 1119.3 1903.4 1119.3 1903.4 1119.3 1903.4zM1423.6 1903.4 1438.1 1917.4 1452.5 1903.4 1452.5 1903.4 1467 1889.5 1452.5 1875.6 1438.1 1889.5 1438.1 1889.5zM742.5 1889.5 742.5 1889.5 742.5 1875.6 742.5 1875.6 742.5 1875.6 742.5 1889.5zM916.4 1889.5 916.4 1889.5 916.4 1889.5 916.4 1889.5zM1075.8 1889.5 1075.8 1889.5 1075.8 1889.5 1090.3 1889.5 1104.8 1889.5 1104.8 1889.5 1104.8 1889.5 1090.3 1889.5zM1307.7 1889.5 1322.1 1903.4 1336.6 1889.5 1322.1 1875.6zM438.2 1875.6 438.2 1875.6 438.2 1875.6 438.2 1875.6zM568.7 1875.6 568.7 1875.6 568.7 1875.6 568.7 1875.6zM771.5 1875.6 771.5 1875.6 771.5 1861.6 771.5 1861.6 771.5 1861.6 771.5 1875.6zM815 1875.6 815 1875.6 815 1861.6 815 1861.6 815 1861.6 815 1875.6zM873 1875.6 873 1875.6 873 1875.6 873 1875.6zM1046.8 1875.6 1046.8 1875.6 1046.8 1875.6 1046.8 1875.6zM1394.6 1875.6 1409.1 1889.5 1423.6 1875.6 1423.6 1861.6 1409.1 1847.7 1394.6 1861.6zM554.2 1861.6 554.2 1861.6 554.2 1847.7 554.2 1847.7 554.2 1847.7 554.2 1861.6zM887.4 1861.6 887.4 1861.6 887.4 1861.6 901.9 1861.6 901.9 1861.6 901.9 1861.6zM930.9 1861.6 930.9 1861.6 930.9 1861.6 930.9 1861.6zM974.4 1861.6 974.4 1861.6 974.4 1847.7 974.4 1847.7 974.4 1847.7 974.4 1861.6zM1017.8 1861.6 1017.8 1861.6 1017.8 1861.6 1017.8 1861.6zM1061.3 1861.6 1061.3 1861.6 1061.3 1861.6 1061.3 1861.6zM1119.3 1861.6 1119.3 1861.6 1119.3 1861.6 1119.3 1861.6zM1003.4 1847.7 1003.4 1847.7 1003.4 1847.7 1003.4 1847.7zM1104.8 1847.7 1104.8 1847.7 1104.8 1847.7 1104.8 1847.7zM1177.2 1847.7 1177.2 1847.7 1177.2 1847.7 1177.2 1847.7zM1278.7 1847.7 1278.7 1847.7 1278.7 1847.7 1278.7 1847.7zM467.2 1833.7 467.2 1833.7 467.2 1833.7 467.2 1833.7zM539.7 1833.7 539.7 1833.7 539.7 1833.7 539.7 1833.7zM568.7 1833.7 568.7 1833.7 568.7 1833.7 568.7 1833.7zM655.6 1833.7 655.6 1833.7 655.6 1833.7 670.1 1833.7 670.1 1833.7 670.1 1833.7zM728 1833.7 728 1833.7 728 1833.7 728 1833.7zM757 1833.7 757 1833.7 757 1833.7 771.5 1833.7 771.5 1833.7 771.5 1833.7zM1133.8 1833.7 1133.8 1833.7 1133.8 1833.7 1133.8 1833.7zM1249.7 1833.7 1249.7 1833.7 1249.7 1833.7 1249.7 1833.7zM1394.6 1833.7 1409.1 1847.7 1423.6 1833.7 1409.1 1819.8zM1423.6 1833.7 1438.1 1847.7 1452.5 1833.7 1438.1 1819.8zM1452.5 1833.7 1467 1847.7 1481.5 1833.7 1467 1819.8zM409.3 1819.8 409.3 1819.8 409.3 1819.8 409.3 1819.8zM626.6 1819.8 626.6 1819.8 626.6 1819.8 626.6 1819.8zM742.5 1819.8 742.5 1819.8 742.5 1819.8 742.5 1819.8zM959.9 1819.8 959.9 1819.8 959.9 1819.8 959.9 1819.8zM1162.8 1819.8 1162.8 1819.8 1162.8 1805.9 1162.8 1805.9 1162.8 1805.9 1162.8 1819.8zM1206.2 1819.8 1206.2 1819.8 1206.2 1819.8 1206.2 1819.8zM1235.2 1819.8 1235.2 1819.8 1235.2 1819.8 1235.2 1819.8zM1336.6 1819.8 1351.1 1833.7 1365.6 1819.8 1365.6 1819.8 1380.1 1805.9 1380.1 1805.9 1394.6 1805.9 1409.1 1791.9 1409.1 1791.9 1423.6 1778 1423.6 1778 1438.1 1764 1423.6 1750.1 1409.1 1764 1409.1 1764 1394.6 1778 1394.6 1778 1380.1 1778 1365.6 1791.9 1365.6 1791.9 1351.1 1805.9 1351.1 1805.9zM365.8 1819.8 380.3 1819.8 380.3 1819.8 394.8 1833.7 394.8 1833.7 394.8 1833.7 380.3 1847.7 380.3 1847.7 365.8 1861.6 380.3 1875.6 394.8 1861.6 394.8 1861.6 409.3 1861.6 423.8 1847.7 423.8 1847.7 438.2 1833.7 438.2 1833.7 438.2 1833.7 438.2 1847.7 438.2 1847.7 423.8 1861.6 423.8 1861.6 409.3 1875.6 423.8 1889.5 423.8 1889.5 438.2 1903.4 452.7 1889.5 452.7 1889.5 467.2 1889.5 481.7 1875.6 467.2 1861.6 467.2 1861.6 467.2 1861.6 481.7 1861.6 481.7 1861.6 481.7 1875.6 481.7 1889.5 496.2 1903.4 510.7 1903.4 525.2 1889.5 510.7 1875.6 510.7 1875.6 510.7 1875.6 525.2 1861.6 525.2 1861.6 525.2 1861.6 539.7 1875.6 539.7 1875.6 554.2 1889.5 554.2 1889.5 554.2 1903.4 554.2 1917.4 554.2 1931.3 554.2 1945.3 568.7 1959.2 583.1 1945.3 583.1 1931.3 583.1 1917.4 583.1 1903.4 583.1 1889.5 583.1 1889.5 597.6 1889.5 612.1 1875.6 612.1 1861.6 597.6 1847.7 597.6 1847.7 597.6 1847.7 612.1 1847.7 612.1 1847.7 612.1 1861.6 626.6 1875.6 641.1 1875.6 655.6 1875.6 655.6 1875.6 655.6 1875.6 641.1 1875.6 626.6 1875.6 612.1 1889.5 626.6 1903.4 641.1 1903.4 641.1 1903.4 641.1 1903.4 626.6 1917.4 641.1 1931.3 655.6 1917.4 655.6 1917.4 670.1 1903.4 670.1 1889.5 670.1 1889.5 684.6 1889.5 699.1 1875.6 699.1 1875.6 699.1 1875.6 699.1 1889.5 713.6 1903.4 728 1903.4 728 1903.4 742.5 1917.4 742.5 1917.4 742.5 1931.3 742.5 1931.3 728 1931.3 713.6 1945.3 728 1959.2 742.5 1959.2 757 1959.2 771.5 1945.3 771.5 1931.3 771.5 1931.3 771.5 1931.3 771.5 1945.3 771.5 1959.2 771.5 1973.1 786 1987.1 800.5 1987.1 800.5 1987.1 815 2001 815 2001 815 2001 800.5 2001 786 2015 786 2028.9 786 2042.8 800.5 2056.8 815 2042.8 815 2028.9 815 2028.9 829.5 2015 829.5 2015 844 2015 844 2015 858.5 2028.9 873 2015 873 2015 887.4 2001 873 1987.1 873 1987.1 873 1987.1 887.4 1973.1 887.4 1959.2 887.4 1945.3 873 1931.3 873 1931.3 873 1917.4 873 1917.4 887.4 1917.4 901.9 1903.4 901.9 1903.4 901.9 1903.4 916.4 1917.4 916.4 1917.4 916.4 1917.4 901.9 1931.3 901.9 1945.3 916.4 1959.2 930.9 1945.3 930.9 1945.3 945.4 1931.3 945.4 1931.3 945.4 1931.3 959.9 1945.3 959.9 1945.3 959.9 1945.3 945.4 1959.2 945.4 1973.1 945.4 1973.1 930.9 1973.1 916.4 1987.1 916.4 1987.1 901.9 1987.1 887.4 2001 901.9 2015 916.4 2015 930.9 2001 930.9 2001 945.4 2001 945.4 2001 959.9 2015 974.4 2001 959.9 1987.1 959.9 1987.1 959.9 1987.1 974.4 1973.1 974.4 1959.2 974.4 1959.2 988.9 1959.2 1003.4 1945.3 1003.4 1945.3 1003.4 1945.3 1017.8 1959.2 1032.3 1959.2 1032.3 1959.2 1046.8 1973.1 1061.3 1959.2 1061.3 1959.2 1075.8 1945.3 1061.3 1931.3 1046.8 1931.3 1032.3 1931.3 1032.3 1931.3 1032.3 1931.3 1046.8 1917.4 1046.8 1917.4 1061.3 1903.4 1061.3 1903.4 1061.3 1903.4 1075.8 1917.4 1090.3 1917.4 1104.8 1917.4 1104.8 1917.4 1104.8 1917.4 1090.3 1931.3 1090.3 1945.3 1104.8 1959.2 1104.8 1959.2 1119.3 1973.1 1133.8 1959.2 1133.8 1945.3 1119.3 1931.3 1119.3 1931.3 1119.3 1931.3 1133.8 1917.4 1133.8 1917.4 1148.3 1917.4 1162.8 1917.4 1177.2 1903.4 1162.8 1889.5 1148.3 1889.5 1133.8 1889.5 1133.8 1889.5 1133.8 1889.5 1148.3 1889.5 1162.8 1875.6 1162.8 1875.6 1162.8 1875.6 1177.2 1889.5 1177.2 1889.5 1191.7 1903.4 1206.2 1889.5 1191.7 1875.6 1191.7 1875.6 1191.7 1861.6 1191.7 1861.6 1206.2 1847.7 1206.2 1847.7 1220.7 1847.7 1220.7 1847.7 1220.7 1847.7 1206.2 1861.6 1220.7 1875.6 1235.2 1861.6 1235.2 1861.6 1249.7 1861.6 1264.2 1861.6 1264.2 1861.6 1264.2 1861.6 1249.7 1875.6 1249.7 1875.6 1235.2 1889.5 1235.2 1889.5 1220.7 1903.4 1220.7 1917.4 1235.2 1931.3 1249.7 1917.4 1249.7 1903.4 1249.7 1903.4 1249.7 1903.4 1264.2 1917.4 1278.7 1903.4 1264.2 1889.5 1264.2 1889.5 1264.2 1889.5 1278.7 1875.6 1278.7 1875.6 1293.2 1875.6 1307.7 1861.6 1307.7 1847.7 1293.2 1833.7 1293.2 1833.7 1278.7 1819.8 1278.7 1819.8 1278.7 1819.8 1293.2 1805.9 1293.2 1805.9 1293.2 1805.9 1293.2 1819.8 1307.7 1833.7 1307.7 1833.7 1322.1 1847.7 1322.1 1847.7 1322.1 1861.6 1336.6 1875.6 1351.1 1861.6 1351.1 1861.6 1365.6 1847.7 1351.1 1833.7 1336.6 1833.7 1336.6 1833.7 1336.6 1819.8 1336.6 1805.9 1336.6 1791.9 1322.1 1778 1322.1 1778 1322.1 1778 1336.6 1778 1351.1 1778 1365.6 1764 1351.1 1750.1 1336.6 1750.1 1336.6 1750.1 1336.6 1750.1 1351.1 1736.2 1351.1 1722.2 1336.6 1708.3 1322.1 1708.3 1322.1 1708.3 1307.7 1694.3 1293.2 1694.3 1293.2 1694.3 1293.2 1694.3 1307.7 1694.3 1322.1 1694.3 1322.1 1694.3 1336.6 1708.3 1351.1 1694.3 1336.6 1680.4 1336.6 1680.4 1336.6 1680.4 1351.1 1680.4 1351.1 1680.4 1365.6 1694.3 1380.1 1680.4 1365.6 1666.5 1365.6 1666.5 1365.6 1666.5 1380.1 1652.5 1365.6 1638.6 1351.1 1652.5 1351.1 1652.5 1351.1 1652.5 1351.1 1638.6 1351.1 1624.6 1351.1 1624.6 1351.1 1624.6 1365.6 1638.6 1380.1 1624.6 1380.1 1624.6 1394.6 1610.7 1380.1 1596.8 1380.1 1596.8 1380.1 1596.8 1394.6 1582.8 1380.1 1568.9 1380.1 1568.9 1380.1 1568.9 1394.6 1568.9 1394.6 1568.9 1394.6 1582.8 1409.1 1596.8 1409.1 1596.8 1423.6 1610.7 1438.1 1596.8 1438.1 1582.8 1438.1 1582.8 1438.1 1582.8 1438.1 1596.8 1438.1 1610.7 1438.1 1624.6 1438.1 1638.6 1452.5 1652.5 1467 1638.6 1467 1638.6 1481.5 1638.6 1481.5 1638.6 1496 1652.5 1510.5 1638.6 1510.5 1638.6 1525 1624.6 1510.5 1610.7 1496 1610.7 1481.5 1610.7 1481.5 1610.7 1467 1596.8 1467 1596.8 1467 1582.8 1467 1582.8 1481.5 1568.9 1481.5 1554.9 1467 1541 1452.5 1554.9 1452.5 1554.9 1452.5 1554.9 1452.5 1541 1438.1 1527.1 1423.6 1527.1 1423.6 1527.1 1409.1 1513.1 1409.1 1513.1 1394.6 1499.2 1380.1 1499.2 1365.6 1499.2 1351.1 1499.2 1351.1 1499.2 1351.1 1499.2 1365.6 1499.2 1380.1 1485.2 1380.1 1485.2 1380.1 1485.2 1394.6 1499.2 1409.1 1485.2 1394.6 1471.3 1394.6 1471.3 1394.6 1471.3 1409.1 1471.3 1409.1 1471.3 1423.6 1485.2 1438.1 1471.3 1438.1 1471.3 1438.1 1471.3 1452.5 1485.2 1467 1471.3 1467 1457.4 1467 1457.4 1481.5 1443.4 1481.5 1429.5 1467 1415.5 1452.5 1429.5 1452.5 1429.5 1452.5 1429.5 1452.5 1415.5 1452.5 1401.6 1438.1 1387.7 1438.1 1387.7 1438.1 1373.7 1438.1 1359.8 1438.1 1359.8 1452.5 1345.8 1452.5 1345.8 1467 1331.9 1452.5 1318 1438.1 1331.9 1438.1 1331.9 1423.6 1345.8 1423.6 1345.8 1423.6 1345.8 1423.6 1331.9 1409.1 1318 1394.6 1318 1394.6 1318 1394.6 1318 1409.1 1318 1423.6 1304 1423.6 1290.1 1423.6 1290.1 1438.1 1276.1 1438.1 1276.1 1438.1 1276.1 1438.1 1290.1 1452.5 1304 1467 1304 1467 1304 1467 1318 1481.5 1331.9 1496 1318 1496 1304 1481.5 1290.1 1481.5 1290.1 1481.5 1276.1 1467 1262.2 1467 1262.2 1467 1248.3 1467 1248.3 1481.5 1248.3 1496 1248.3 1510.5 1234.3 1510.5 1234.3 1525 1220.4 1525 1220.4 1539.5 1206.4 1525 1192.5 1525 1192.5 1525 1178.6 1510.5 1164.6 1496 1178.6 1496 1192.5 1496 1192.5 1481.5 1206.4 1481.5 1206.4 1467 1206.4 1452.5 1220.4 1452.5 1234.3 1452.5 1234.3 1438.1 1248.3 1438.1 1248.3 1438.1 1248.3 1438.1 1234.3 1423.6 1220.4 1423.6 1220.4 1409.1 1206.4 1409.1 1206.4 1409.1 1192.5 1409.1 1192.5 1409.1 1192.5 1423.6 1206.4 1438.1 1192.5 1423.6 1178.6 1423.6 1178.6 1423.6 1178.6 1438.1 1164.6 1423.6 1150.7 1409.1 1164.6 1409.1 1164.6 1394.6 1164.6 1380.1 1178.6 1380.1 1192.5 1380.1 1206.4 1380.1 1220.4 1380.1 1234.3 1380.1 1234.3 1365.6 1248.3 1365.6 1248.3 1351.1 1262.2 1365.6 1276.1 1380.1 1262.2 1380.1 1262.2 1380.1 1262.2 1380.1 1276.1 1380.1 1290.1 1380.1 1290.1 1365.6 1304 1365.6 1318 1365.6 1318 1365.6 1318 1365.6 1304 1365.6 1290.1 1351.1 1276.1 1336.6 1276.1 1336.6 1276.1 1336.6 1276.1 1351.1 1262.2 1336.6 1248.3 1336.6 1248.3 1322.1 1234.3 1307.7 1248.3 1307.7 1248.3 1293.2 1248.3 1293.2 1248.3 1293.2 1248.3 1307.7 1234.3 1307.7 1234.3 1322.1 1220.4 1307.7 1206.4 1307.7 1206.4 1307.7 1206.4 1322.1 1206.4 1322.1 1206.4 1336.6 1220.4 1336.6 1220.4 1351.1 1234.3 1365.6 1220.4 1351.1 1206.4 1351.1 1206.4 1351.1 1206.4 1365.6 1192.5 1365.6 1178.6 1365.6 1178.6 1380.1 1164.6 1365.6 1150.7 1351.1 1164.6 1351.1 1164.6 1336.6 1178.6 1336.6 1192.5 1336.6 1192.5 1336.6 1192.5 1322.1 1178.6 1307.7 1178.6 1293.2 1178.6 1293.2 1178.6 1293.2 1178.6 1307.7 1178.6 1322.1 1164.6 1322.1 1150.7 1307.7 1136.7 1293.2 1150.7 1293.2 1150.7 1293.2 1150.7 1293.2 1136.7 1293.2 1136.7 1307.7 1122.8 1293.2 1108.9 1278.7 1122.8 1278.7 1122.8 1264.2 1136.7 1264.2 1136.7 1264.2 1136.7 1249.7 1122.8 1249.7 1122.8 1235.2 1108.9 1235.2 1108.9 1220.7 1094.9 1206.2 1094.9 1191.7 1094.9 1177.2 1094.9 1162.8 1108.9 1162.8 1108.9 1162.8 1108.9 1162.8 1094.9 1162.8 1094.9 1177.2 1094.9 1191.7 1081 1191.7 1081 1191.7 1081 1206.2 1094.9 1220.7 1081 1220.7 1081 1235.2 1081 1235.2 1081 1235.2 1094.9 1249.7 1108.9 1249.7 1108.9 1264.2 1122.8 1278.7 1108.9 1278.7 1108.9 1293.2 1108.9 1307.7 1108.9 1307.7 1108.9 1322.1 1122.8 1336.6 1108.9 1336.6 1094.9 1322.1 1081 1307.7 1081 1293.2 1081 1278.7 1081 1278.7 1081 1278.7 1067 1278.7 1053.1 1278.7 1039.2 1278.7 1039.2 1293.2 1039.2 1307.7 1025.2 1293.2 1011.3 1293.2 1011.3 1278.7 997.3 1264.2 1011.3 1264.2 1011.3 1249.7 1025.2 1249.7 1025.2 1235.2 1039.2 1249.7 1053.1 1249.7 1053.1 1249.7 1067 1249.7 1067 1249.7 1067 1235.2 1053.1 1235.2 1053.1 1235.2 1039.2 1235.2 1025.2 1235.2 1011.3 1235.2 997.3 1235.2 997.3 1235.2 997.3 1249.7 1011.3 1264.2 997.3 1264.2 997.3 1278.7 983.4 1264.2 969.5 1249.7 983.4 1249.7 983.4 1249.7 983.4 1235.2 969.5 1220.7 969.5 1206.2 983.4 1206.2 997.3 1206.2 997.3 1206.2 997.3 1191.7 983.4 1177.2 997.3 1177.2 997.3 1177.2 997.3 1162.8 983.4 1162.8 983.4 1162.8 983.4 1177.2 969.5 1177.2 955.5 1162.8 941.6 1148.3 941.6 1133.8 955.5 1148.3 969.5 1148.3 969.5 1148.3 969.5 1133.8 983.4 1133.8 983.4 1119.3 997.3 1119.3 997.3 1104.8 1011.3 1104.8 1011.3 1104.8 1011.3 1104.8 997.3 1104.8 997.3 1119.3 983.4 1119.3 983.4 1133.8 969.5 1119.3 955.5 1104.8 955.5 1090.3 955.5 1075.8 955.5 1061.3 969.5 1061.3 969.5 1061.3 969.5 1061.3 955.5 1061.3 955.5 1075.8 941.6 1075.8 941.6 1090.3 941.6 1090.3 941.6 1104.8 955.5 1119.3 955.5 1133.8 941.6 1133.8 941.6 1148.3 941.6 1162.8 927.6 1162.8 927.6 1177.2 927.6 1191.7 913.7 1177.2 899.8 1177.2 899.8 1177.2 899.8 1191.7 885.8 1191.7 885.8 1206.2 871.9 1191.7 857.9 1177.2 871.9 1177.2 871.9 1162.8 871.9 1148.3 885.8 1148.3 885.8 1148.3 885.8 1148.3 871.9 1133.8 857.9 1119.3 857.9 1104.8 857.9 1104.8 857.9 1104.8 844 1090.3 830.1 1090.3 830.1 1075.8 816.1 1061.3 830.1 1061.3 844 1061.3 844 1046.8 844 1032.3 857.9 1032.3 857.9 1017.8 857.9 1003.4 871.9 1017.8 885.8 1017.8 885.8 1017.8 899.8 1017.8 913.7 1032.3 927.6 1032.3 927.6 1032.3 927.6 1017.8 941.6 1032.3 955.5 1032.3 955.5 1032.3 969.5 1032.3 969.5 1017.8 983.4 1017.8 997.3 1017.8 997.3 1017.8 997.3 1003.4 983.4 988.9 997.3 988.9 997.3 974.4 997.3 974.4 997.3 974.4 997.3 988.9 983.4 988.9 969.5 988.9 969.5 1003.4 969.5 1017.8 955.5 1003.4 941.6 988.9 941.6 974.4 955.5 974.4 955.5 959.9 969.5 959.9 983.4 959.9 983.4 959.9 983.4 945.4 969.5 930.9 983.4 930.9 983.4 930.9 983.4 930.9 969.5 916.4 955.5 901.9 969.5 901.9 969.5 887.4 983.4 887.4 983.4 887.4 983.4 873 969.5 858.5 983.4 858.5 983.4 844 997.3 858.5 1011.3 873 1011.3 873 1011.3 873 1011.3 858.5 1025.2 858.5 1025.2 858.5 1025.2 844 1011.3 844 1011.3 829.5 997.3 829.5 997.3 829.5 983.4 829.5 983.4 844 969.5 829.5 955.5 829.5 955.5 815 941.6 800.5 941.6 786 955.5 786 969.5 786 983.4 786 983.4 771.5 997.3 771.5 997.3 771.5 997.3 771.5 983.4 771.5 983.4 786 969.5 786 955.5 771.5 941.6 757 955.5 757 969.5 757 969.5 742.5 969.5 728 969.5 728 969.5 728 969.5 742.5 969.5 757 955.5 742.5 941.6 742.5 941.6 742.5 941.6 757 941.6 771.5 927.6 771.5 927.6 786 913.7 771.5 899.8 757 899.8 742.5 913.7 742.5 913.7 728 913.7 728 913.7 713.6 899.8 713.6 899.8 713.6 899.8 728 885.8 713.6 871.9 699.1 885.8 699.1 885.8 684.6 899.8 684.6 899.8 670.1 913.7 670.1 913.7 655.6 927.6 655.6 927.6 641.1 941.6 655.6 955.5 655.6 955.5 655.6 955.5 641.1 955.5 626.6 955.5 612.1 969.5 612.1 969.5 597.6 983.4 597.6 997.3 597.6 997.3 597.6 997.3 597.6 983.4 583.1 969.5 568.7 969.5 554.2 969.5 539.7 983.4 539.7 983.4 539.7 983.4 525.2 969.5 510.7 983.4 510.7 983.4 496.2 997.3 496.2 997.3 496.2 997.3 481.7 983.4 481.7 983.4 481.7 969.5 467.2 955.5 452.7 969.5 452.7 969.5 452.7 969.5 438.2 955.5 423.8 969.5 423.8 969.5 409.3 969.5 394.8 983.4 409.3 997.3 423.8 997.3 438.2 983.4 438.2 983.4 438.2 983.4 452.7 997.3 452.7 997.3 452.7 1011.3 452.7 1011.3 438.2 1025.2 438.2 1025.2 423.8 1025.2 423.8 1025.2 423.8 1025.2 438.2 1011.3 423.8 997.3 409.3 997.3 394.8 1011.3 394.8 1025.2 409.3 1039.2 409.3 1039.2 423.8 1053.1 423.8 1053.1 423.8 1053.1 409.3 1053.1 409.3 1053.1 394.8 1039.2 380.3 1053.1 380.3 1053.1 380.3 1053.1 365.8 1039.2M423.8 1805.9 423.8 1805.9 423.8 1805.9 423.8 1805.9zM452.7 1805.9 452.7 1805.9 452.7 1791.9 452.7 1791.9 452.7 1791.9 467.2 1805.9 467.2 1805.9 467.2 1805.9zM713.6 1805.9 713.6 1805.9 713.6 1805.9 713.6 1805.9zM829.5 1805.9 829.5 1805.9 829.5 1805.9 844 1805.9 844 1805.9 844 1805.9zM1046.8 1805.9 1046.8 1805.9 1046.8 1805.9 1046.8 1805.9zM1264.2 1805.9 1264.2 1805.9 1264.2 1805.9 1264.2 1805.9zM583.1 1791.9 583.1 1791.9 583.1 1778 583.1 1778 583.1 1778 583.1 1791.9zM1249.7 1791.9 1249.7 1791.9 1249.7 1778 1249.7 1778 1249.7 1778 1249.7 1791.9zM1423.6 1791.9 1438.1 1805.9 1452.5 1791.9 1438.1 1778zM1698.9 1791.9 1713.4 1805.9 1727.9 1791.9 1713.4 1778zM1162.8 1778 1162.8 1778 1162.8 1778 1177.2 1778 1177.2 1778 1177.2 1778zM1206.2 1778 1206.2 1778 1206.2 1764 1206.2 1764 1206.2 1764 1206.2 1778zM1278.7 1778 1278.7 1778 1264.2 1764 1264.2 1764 1264.2 1764 1278.7 1764 1278.7 1764 1278.7 1778zM365.8 1778 380.3 1778 394.8 1778 409.3 1778 409.3 1778 409.3 1791.9 409.3 1791.9 394.8 1805.9 394.8 1805.9 394.8 1805.9 394.8 1791.9 380.3 1778zM438.2 1764 438.2 1764 438.2 1764 438.2 1764zM1046.8 1764 1046.8 1764 1046.8 1764 1046.8 1764zM1307.7 1764 1307.7 1764 1307.7 1764 1307.7 1764zM394.8 1750.1 394.8 1750.1 394.8 1750.1 394.8 1750.1zM1249.7 1750.1 1249.7 1750.1 1249.7 1750.1 1249.7 1750.1zM1293.2 1750.1 1293.2 1750.1 1293.2 1750.1 1293.2 1750.1zM1365.6 1750.1 1380.1 1764 1394.6 1764 1409.1 1750.1 1409.1 1750.1 1423.6 1750.1 1438.1 1736.2 1423.6 1722.2 1423.6 1722.2 1423.6 1722.2 1438.1 1708.3 1423.6 1694.3 1423.6 1694.3 1423.6 1694.3 1438.1 1680.4 1438.1 1680.4 1452.5 1680.4 1467 1666.5 1452.5 1652.5 1438.1 1652.5 1423.6 1666.5 1423.6 1666.5 1409.1 1680.4 1409.1 1680.4 1394.6 1680.4 1380.1 1694.3 1380.1 1694.3 1365.6 1708.3 1380.1 1722.2 1394.6 1722.2 1394.6 1722.2 1394.6 1736.2 1394.6 1736.2 1394.6 1736.2 1380.1 1722.2 1365.6 1722.2 1351.1 1736.2 1365.6 1750.1zM1322.1 1736.2 1322.1 1736.2 1322.1 1736.2 1322.1 1736.2zM1264.2 1722.2 1264.2 1722.2 1264.2 1722.2 1264.2 1722.2zM1148.3 1708.3 1148.3 1708.3 1148.3 1708.3 1148.3 1708.3zM1409.1 1708.3 1409.1 1708.3 1409.1 1708.3 1409.1 1708.3zM365.8 1708.3 365.8 1708.3 365.8 1722.2 380.3 1736.2 380.3 1736.2 380.3 1736.2 365.8 1750.1 365.8 1750.1M1438.1 1694.3 1452.5 1708.3 1467 1694.3 1452.5 1680.4zM1264.2 1680.4 1264.2 1680.4 1264.2 1680.4 1278.7 1680.4 1278.7 1680.4 1278.7 1680.4zM1467 1680.4 1481.5 1694.3 1496 1680.4 1496 1666.5 1481.5 1652.5 1467 1666.5zM1307.7 1666.5 1307.7 1666.5 1293.2 1652.5 1293.2 1652.5 1293.2 1652.5 1307.7 1652.5 1307.7 1652.5 1307.7 1666.5zM1640.9 1666.5 1655.4 1680.4 1669.9 1680.4 1684.4 1680.4 1698.9 1666.5 1684.4 1652.5 1669.9 1652.5 1655.4 1652.5zM1264.2 1652.5 1264.2 1652.5 1264.2 1652.5 1264.2 1652.5zM1380.1 1652.5 1394.6 1666.5 1409.1 1666.5 1423.6 1652.5 1423.6 1638.6 1423.6 1624.6 1409.1 1610.7 1394.6 1624.6 1394.6 1624.6 1380.1 1638.6zM394.8 1638.6 394.8 1638.6 394.8 1638.6 394.8 1638.6zM1322.1 1638.6 1322.1 1638.6 1307.7 1624.6 1307.7 1624.6 1307.7 1624.6 1322.1 1624.6 1322.1 1624.6 1322.1 1638.6zM1597.5 1638.6 1611.9 1652.5 1626.4 1638.6 1611.9 1624.6zM365.8 1638.6 365.8 1638.6 365.8 1652.5 365.8 1666.5 365.8 1666.5M1278.7 1610.7 1278.7 1610.7 1278.7 1610.7 1293.2 1596.8 1293.2 1582.8 1293.2 1582.8 1307.7 1568.9 1307.7 1568.9 1307.7 1568.9 1307.7 1582.8 1307.7 1582.8 1293.2 1596.8 1293.2 1610.7 1293.2 1610.7zM1336.6 1610.7 1336.6 1610.7 1336.6 1596.8 1336.6 1596.8 1351.1 1582.8 1351.1 1568.9 1351.1 1568.9 1351.1 1568.9 1351.1 1582.8 1351.1 1596.8 1351.1 1596.8 1336.6 1610.7zM1365.6 1610.7 1365.6 1610.7 1365.6 1610.7 1365.6 1610.7zM1583 1610.7 1597.5 1624.6 1611.9 1610.7 1597.5 1596.8zM1742.3 1610.7 1756.8 1624.6 1771.3 1610.7 1756.8 1596.8zM1539.5 1596.8 1554 1610.7 1568.5 1596.8 1554 1582.8 1554 1582.8 1539.5 1568.9 1525 1568.9 1510.5 1582.8 1525 1596.8 1539.5 1596.8zM1698.9 1596.8 1713.4 1610.7 1727.9 1596.8 1713.4 1582.8zM1481.5 1582.8 1496 1596.8 1510.5 1582.8 1496 1568.9zM1235.2 1568.9 1235.2 1568.9 1235.2 1568.9 1235.2 1568.9zM1583 1568.9 1597.5 1582.8 1611.9 1568.9 1597.5 1554.9zM1510.5 1554.9 1525 1568.9 1539.5 1554.9 1525 1541 1525 1541 1510.5 1527.1 1496 1527.1 1496 1527.1 1496 1527.1 1510.5 1527.1 1525 1527.1 1539.5 1513.1 1525 1499.2 1525 1499.2 1525 1499.2 1539.5 1485.2 1525 1471.3 1525 1471.3 1525 1471.3 1539.5 1457.4 1525 1443.4 1510.5 1457.4 1510.5 1457.4 1510.5 1457.4 1510.5 1443.4 1510.5 1443.4 1525 1429.5 1525 1429.5 1525 1429.5 1539.5 1443.4 1554 1429.5 1539.5 1415.5 1539.5 1415.5 1539.5 1401.6 1525 1387.7 1510.5 1401.6 1510.5 1415.5 1510.5 1415.5 1510.5 1415.5 1496 1401.6 1496 1401.6 1481.5 1387.7 1467 1401.6 1481.5 1415.5 1481.5 1415.5 1496 1429.5 1496 1429.5 1496 1429.5 1481.5 1443.4 1481.5 1457.4 1496 1471.3 1496 1471.3 1496 1485.2 1496 1499.2 1496 1499.2 1481.5 1513.1 1481.5 1513.1 1467 1513.1 1467 1513.1 1452.5 1499.2 1452.5 1499.2 1438.1 1485.2 1423.6 1485.2 1409.1 1499.2 1423.6 1513.1 1423.6 1513.1 1438.1 1527.1 1452.5 1527.1 1452.5 1527.1 1467 1541 1481.5 1541 1481.5 1541 1496 1554.9 1510.5 1554.9zM1655.4 1554.9 1669.9 1568.9 1684.4 1554.9 1669.9 1541zM380.3 1541 380.3 1541 380.3 1541 380.3 1541zM1336.6 1541 1336.6 1541 1336.6 1527.1 1336.6 1527.1 1336.6 1527.1 1336.6 1541zM1380.1 1541 1380.1 1541 1365.6 1527.1 1365.6 1527.1 1365.6 1527.1 1380.1 1527.1 1394.6 1527.1 1394.6 1527.1 1394.6 1541 1394.6 1541zM1278.7 1527.1 1278.7 1527.1 1278.7 1513.1 1278.7 1499.2 1278.7 1499.2 1278.7 1499.2 1293.2 1513.1 1293.2 1513.1 1293.2 1513.1 1278.7 1527.1zM1307.7 1527.1 1307.7 1527.1 1307.7 1527.1 1307.7 1527.1zM365.8 1527.1 365.8 1527.1zM1322.1 1513.1 1322.1 1513.1 1322.1 1499.2 1322.1 1499.2 1322.1 1499.2 1322.1 1513.1zM1539.5 1499.2 1554 1513.1 1568.5 1499.2 1568.5 1485.2 1554 1471.3 1539.5 1485.2zM1336.6 1485.2 1336.6 1485.2 1336.6 1485.2 1336.6 1485.2zM1467 1485.2 1481.5 1499.2 1496 1485.2 1481.5 1471.3zM365.8 1485.2 365.8 1485.2 365.8 1499.2 365.8 1499.2M1583 1471.3 1597.5 1485.2 1611.9 1471.3 1597.5 1457.4 1597.5 1457.4 1597.5 1457.4 1611.9 1443.4 1611.9 1443.4 1626.4 1429.5 1611.9 1415.5 1597.5 1429.5 1597.5 1429.5 1583 1443.4 1583 1443.4 1568.5 1457.4 1583 1471.3zM1365.6 1457.4 1365.6 1457.4 1365.6 1457.4 1380.1 1443.4 1380.1 1443.4 1394.6 1443.4 1409.1 1429.5 1409.1 1415.5 1409.1 1401.6 1394.6 1387.7 1380.1 1387.7 1380.1 1387.7 1380.1 1387.7 1394.6 1387.7 1409.1 1373.7 1409.1 1373.7 1409.1 1373.7 1409.1 1387.7 1409.1 1401.6 1409.1 1415.5 1409.1 1429.5 1409.1 1443.4 1409.1 1443.4 1394.6 1443.4 1380.1 1457.4 1380.1 1457.4zM1278.7 1443.4 1278.7 1443.4 1278.7 1429.5 1278.7 1429.5 1278.7 1429.5 1293.2 1443.4 1293.2 1443.4 1293.2 1443.4zM1322.1 1443.4 1322.1 1443.4 1307.7 1429.5 1307.7 1429.5 1307.7 1429.5 1322.1 1429.5 1322.1 1429.5 1336.6 1443.4 1336.6 1443.4 1336.6 1443.4zM1351.1 1429.5 1351.1 1429.5 1351.1 1429.5 1365.6 1415.5 1365.6 1415.5 1365.6 1415.5 1365.6 1429.5 1365.6 1429.5zM1322.1 1401.6 1322.1 1401.6 1322.1 1387.7 1322.1 1387.7 1336.6 1373.7 1336.6 1373.7 1336.6 1373.7 1351.1 1387.7 1351.1 1387.7 1351.1 1387.7 1336.6 1387.7 1322.1 1401.6zM1583 1401.6 1597.5 1415.5 1611.9 1401.6 1611.9 1387.7 1597.5 1373.7 1583 1387.7zM365.8 1401.6 365.8 1401.6zM1220.7 1373.7 1220.7 1373.7 1220.7 1359.8 1220.7 1359.8 1220.7 1359.8 1220.7 1373.7zM1264.2 1373.7 1264.2 1373.7 1264.2 1359.8 1264.2 1359.8 1278.7 1359.8 1278.7 1359.8 1278.7 1359.8 1264.2 1373.7zM1467 1373.7 1481.5 1387.7 1496 1373.7 1496 1373.7 1496 1373.7 1510.5 1387.7 1525 1373.7 1525 1373.7 1539.5 1373.7 1554 1359.8 1539.5 1345.8 1539.5 1345.8 1539.5 1345.8 1554 1331.9 1554 1331.9 1568.5 1318 1554 1304 1554 1304 1554 1304 1568.5 1290.1 1568.5 1290.1 1583 1276.1 1568.5 1262.2 1568.5 1262.2 1568.5 1262.2 1583 1248.3 1568.5 1234.3 1554 1234.3 1539.5 1248.3 1539.5 1262.2 1554 1276.1 1554 1276.1 1554 1276.1 1539.5 1290.1 1539.5 1290.1 1525 1304 1539.5 1318 1539.5 1318 1539.5 1318 1525 1318 1510.5 1318 1496 1331.9 1510.5 1345.8 1510.5 1345.8 1510.5 1359.8 1510.5 1359.8 1510.5 1359.8 1496 1345.8 1496 1345.8 1481.5 1331.9 1467 1345.8 1467 1345.8 1452.5 1359.8 1467 1373.7zM1554 1373.7 1568.5 1387.7 1583 1373.7 1583 1359.8 1568.5 1345.8 1554 1359.8zM1380.1 1359.8 1380.1 1359.8 1380.1 1345.8 1380.1 1331.9 1380.1 1331.9 1380.1 1331.9 1394.6 1345.8 1394.6 1345.8 1394.6 1345.8 1380.1 1359.8zM1481.5 1359.8 1481.5 1359.8 1481.5 1359.8 1481.5 1359.8zM1583 1359.8 1597.5 1373.7 1611.9 1359.8 1597.5 1345.8zM1336.6 1345.8 1336.6 1345.8 1322.1 1331.9 1322.1 1331.9 1322.1 1331.9 1336.6 1318 1322.1 1304 1307.7 1304 1293.2 1304 1293.2 1304 1293.2 1290.1 1293.2 1290.1 1293.2 1290.1 1307.7 1304 1322.1 1304 1336.6 1304 1336.6 1304 1336.6 1318 1336.6 1331.9 1351.1 1345.8 1351.1 1345.8 1351.1 1345.8zM1727.9 1345.8 1742.3 1359.8 1756.8 1345.8 1742.3 1331.9zM365.8 1331.9 365.8 1331.9 365.8 1345.8 365.8 1345.8M1583 1318 1597.5 1331.9 1611.9 1318 1597.5 1304zM1235.2 1290.1 1235.2 1290.1 1235.2 1290.1 1235.2 1290.1zM1597.5 1290.1 1611.9 1304 1626.4 1290.1 1611.9 1276.1zM1409.1 1276.1 1409.1 1276.1 1409.1 1262.2 1409.1 1262.2 1409.1 1262.2 1409.1 1276.1zM1322.1 1262.2 1322.1 1262.2 1322.1 1262.2 1322.1 1262.2zM1510.5 1262.2 1525 1276.1 1539.5 1262.2 1525 1248.3zM1785.8 1262.2 1771.3 1276.1 1785.8 1290.1M365.8 1262.2 365.8 1262.2 365.8 1276.1 365.8 1290.1 365.8 1304 365.8 1304M1191.7 1248.3 1191.7 1248.3 1191.7 1248.3 1191.7 1248.3zM1249.7 1248.3 1249.7 1248.3 1249.7 1248.3 1249.7 1248.3zM1206.2 1234.3 1206.2 1234.3 1206.2 1234.3 1206.2 1234.3zM1278.7 1234.3 1278.7 1234.3 1278.7 1234.3 1278.7 1234.3zM365.8 1234.3 365.8 1234.3zM1235.2 1220.4 1235.2 1220.4 1235.2 1220.4 1235.2 1220.4zM1293.2 1220.4 1293.2 1220.4 1293.2 1220.4 1293.2 1220.4zM1496 1220.4 1496 1220.4 1496 1220.4 1496 1220.4zM1249.7 1206.4 1249.7 1206.4 1249.7 1192.5 1249.7 1192.5 1249.7 1192.5 1249.7 1206.4zM1510.5 1206.4 1510.5 1206.4 1510.5 1206.4 1510.5 1206.4zM365.8 1206.4 365.8 1206.4zM1177.2 1192.5 1177.2 1192.5 1177.2 1192.5 1177.2 1192.5zM1220.7 1192.5 1220.7 1192.5 1220.7 1192.5 1220.7 1192.5zM1278.7 1192.5 1278.7 1192.5 1278.7 1192.5 1278.7 1192.5zM1148.3 1178.6 1148.3 1178.6 1133.8 1164.6 1133.8 1164.6 1133.8 1164.6 1148.3 1164.6 1148.3 1164.6 1148.3 1178.6zM1206.2 1178.6 1206.2 1178.6 1206.2 1178.6 1206.2 1178.6zM1452.5 1178.6 1467 1192.5 1481.5 1178.6 1481.5 1178.6 1496 1164.6 1496 1164.6 1510.5 1150.7 1510.5 1150.7 1525 1136.7 1510.5 1122.8 1510.5 1122.8 1510.5 1108.9 1496 1094.9 1481.5 1108.9 1481.5 1122.8 1496 1136.7 1496 1136.7 1496 1136.7 1481.5 1150.7 1481.5 1150.7 1467 1164.6 1467 1164.6 1467 1164.6 1452.5 1150.7 1438.1 1164.6 1452.5 1178.6zM1075.8 1164.6 1075.8 1164.6 1075.8 1164.6 1075.8 1164.6zM1177.2 1164.6 1177.2 1164.6 1177.2 1164.6 1177.2 1164.6zM1249.7 1164.6 1249.7 1164.6 1249.7 1150.7 1249.7 1150.7 1249.7 1150.7 1249.7 1164.6zM1278.7 1164.6 1278.7 1164.6 1278.7 1164.6 1278.7 1164.6zM1568.5 1164.6 1583 1178.6 1597.5 1164.6 1583 1150.7zM1003.4 1150.7 1003.4 1150.7 1003.4 1150.7 1003.4 1150.7zM394.8 1136.7 394.8 1136.7 394.8 1136.7 394.8 1136.7zM467.2 1136.7 467.2 1136.7 467.2 1122.8 467.2 1122.8 467.2 1122.8 467.2 1136.7zM1032.3 1136.7 1032.3 1136.7 1032.3 1136.7 1032.3 1136.7zM1191.7 1136.7 1191.7 1136.7 1191.7 1136.7 1191.7 1136.7zM1322.1 1136.7 1336.6 1150.7 1351.1 1136.7 1336.6 1122.8zM1351.1 1136.7 1365.6 1150.7 1380.1 1136.7 1365.6 1122.8zM1409.1 1136.7 1423.6 1150.7 1438.1 1136.7 1438.1 1136.7 1452.5 1136.7 1467 1122.8 1467 1108.9 1452.5 1094.9 1452.5 1094.9 1452.5 1094.9 1467 1081 1467 1067 1467 1067 1481.5 1053.1 1481.5 1039.2 1467 1025.2 1452.5 1039.2 1452.5 1053.1 1452.5 1053.1 1438.1 1067 1438.1 1081 1438.1 1081 1423.6 1094.9 1423.6 1094.9 1423.6 1094.9 1409.1 1081 1394.6 1094.9 1394.6 1108.9 1409.1 1122.8 1423.6 1122.8 1423.6 1122.8 1423.6 1122.8zM1597.5 1136.7 1611.9 1150.7 1626.4 1136.7 1626.4 1136.7 1626.4 1136.7 1640.9 1150.7 1655.4 1136.7 1640.9 1122.8 1640.9 1122.8 1640.9 1122.8 1655.4 1108.9 1640.9 1094.9 1626.4 1108.9 1626.4 1108.9 1611.9 1122.8 1611.9 1122.8zM1684.4 1136.7 1698.9 1150.7 1713.4 1136.7 1698.9 1122.8zM1713.4 1136.7 1727.9 1150.7 1742.3 1136.7 1727.9 1122.8zM1090.3 1122.8 1090.3 1122.8 1090.3 1122.8 1090.3 1122.8zM1206.2 1122.8 1206.2 1122.8 1206.2 1122.8 1220.7 1122.8 1220.7 1122.8 1220.7 1122.8zM1525 1122.8 1539.5 1136.7 1554 1122.8 1539.5 1108.9zM1554 1122.8 1568.5 1136.7 1583 1122.8 1583 1108.9 1583 1094.9 1568.5 1081 1554 1094.9 1554 1108.9zM365.8 1122.8 365.8 1122.8 365.8 1136.7 365.8 1150.7 380.3 1164.6 380.3 1164.6 380.3 1164.6 365.8 1178.6 365.8 1178.6M916.4 1108.9 916.4 1108.9 916.4 1108.9 916.4 1108.9zM1119.3 1108.9 1119.3 1108.9 1119.3 1094.9 1119.3 1081 1119.3 1081 1133.8 1081 1133.8 1081 1133.8 1081 1119.3 1094.9 1119.3 1108.9zM1438.1 1108.9 1438.1 1108.9 1438.1 1108.9 1438.1 1108.9zM1583 1108.9 1597.5 1122.8 1611.9 1108.9 1597.5 1094.9zM409.3 1094.9 409.3 1094.9 409.3 1094.9 409.3 1094.9zM452.7 1094.9 452.7 1094.9 452.7 1094.9 452.7 1094.9zM583.1 1094.9 583.1 1094.9 583.1 1094.9 583.1 1094.9zM612.1 1094.9 612.1 1094.9 612.1 1094.9 612.1 1094.9zM858.5 1094.9 858.5 1094.9 858.5 1094.9 858.5 1094.9zM1264.2 1094.9 1264.2 1094.9 1264.2 1094.9 1264.2 1094.9zM1032.3 1081 1032.3 1081 1032.3 1081 1032.3 1081zM1336.6 1081 1351.1 1094.9 1365.6 1081 1365.6 1067 1351.1 1053.1 1351.1 1053.1 1336.6 1039.2 1322.1 1053.1 1336.6 1067 1336.6 1067zM1611.9 1081 1626.4 1094.9 1640.9 1081 1626.4 1067zM554.2 1067 554.2 1067 554.2 1067 554.2 1067zM815 1067 815 1067 815 1067 815 1067zM916.4 1067 916.4 1067 916.4 1067 916.4 1067zM974.4 1067 974.4 1067 974.4 1067 974.4 1067zM1104.8 1067 1104.8 1067 1104.8 1067 1104.8 1067zM1148.3 1067 1148.3 1067 1148.3 1067 1148.3 1067zM1278.7 1067 1293.2 1081 1307.7 1067 1307.7 1067 1322.1 1053.1 1307.7 1039.2 1293.2 1053.1 1293.2 1053.1zM1510.5 1067 1525 1081 1539.5 1067 1525 1053.1zM1539.5 1067 1554 1081 1568.5 1067 1554 1053.1zM365.8 1067 365.8 1067 365.8 1081 380.3 1094.9 380.3 1094.9 380.3 1094.9 365.8 1094.9M1177.2 1053.1 1177.2 1053.1 1177.2 1053.1 1191.7 1039.2 1191.7 1039.2 1191.7 1039.2 1191.7 1053.1 1191.7 1053.1zM1365.6 1053.1 1380.1 1067 1394.6 1067 1409.1 1053.1 1394.6 1039.2 1380.1 1039.2zM496.2 1039.2 496.2 1039.2 496.2 1039.2 496.2 1039.2zM568.7 1039.2 568.7 1039.2 568.7 1039.2 568.7 1039.2zM742.5 1039.2 742.5 1039.2 742.5 1039.2 742.5 1039.2zM829.5 1039.2 829.5 1039.2 829.5 1039.2 829.5 1039.2zM1003.4 1039.2 1003.4 1039.2 1003.4 1025.2 1003.4 1025.2 1017.8 1025.2 1017.8 1025.2 1017.8 1025.2 1003.4 1039.2zM1032.3 1039.2 1032.3 1039.2 1032.3 1039.2 1032.3 1039.2zM1061.3 1039.2 1061.3 1039.2 1061.3 1039.2 1075.8 1039.2 1075.8 1039.2 1075.8 1039.2zM1148.3 1039.2 1148.3 1039.2 1148.3 1039.2 1162.8 1039.2 1162.8 1039.2 1162.8 1039.2zM1409.1 1039.2 1423.6 1053.1 1438.1 1039.2 1423.6 1025.2 1423.6 1025.2 1409.1 1011.3 1394.6 1025.2 1409.1 1039.2zM481.7 1025.2 481.7 1025.2 481.7 1011.3 481.7 1011.3 481.7 1011.3 481.7 1025.2zM597.6 1025.2 597.6 1025.2 597.6 1025.2 597.6 1025.2zM815 1025.2 815 1025.2 815 1025.2 815 1025.2zM1046.8 1025.2 1046.8 1025.2 1046.8 1011.3 1046.8 1011.3 1046.8 1011.3 1046.8 1025.2zM1119.3 1025.2 1119.3 1025.2 1119.3 1025.2 1119.3 1025.2zM1206.2 1025.2 1206.2 1025.2 1206.2 1025.2 1206.2 1025.2zM510.7 1011.3 510.7 1011.3 510.7 1011.3 525.2 1011.3 525.2 1011.3 525.2 1011.3zM554.2 1011.3 554.2 1011.3 554.2 997.3 554.2 997.3 554.2 997.3 554.2 1011.3zM641.1 1011.3 641.1 1011.3 641.1 1011.3 641.1 1011.3zM670.1 1011.3 670.1 1011.3 670.1 1011.3 670.1 1011.3zM786 1011.3 786 1011.3 786 1011.3 786 1011.3zM916.4 1011.3 916.4 1011.3 901.9 997.3 901.9 997.3 901.9 997.3 916.4 997.3 916.4 997.3 916.4 1011.3zM945.4 1011.3 945.4 1011.3 945.4 1011.3 959.9 1011.3 959.9 1011.3 959.9 1011.3zM1075.8 1011.3 1075.8 1011.3 1075.8 1011.3 1075.8 1011.3zM1133.8 1011.3 1133.8 1011.3 1133.8 1011.3 1133.8 1011.3zM1162.8 1011.3 1162.8 1011.3 1162.8 1011.3 1162.8 1011.3zM1191.7 1011.3 1191.7 1011.3 1191.7 1011.3 1191.7 1011.3zM1336.6 1011.3 1351.1 1025.2 1365.6 1011.3 1351.1 997.3zM626.6 997.3 626.6 997.3 626.6 983.4 626.6 983.4 641.1 983.4 641.1 983.4 641.1 983.4 626.6 997.3zM684.6 997.3 684.6 997.3 684.6 997.3 699.1 997.3 699.1 997.3 699.1 997.3zM742.5 997.3 742.5 997.3 742.5 997.3 742.5 997.3zM1061.3 997.3 1061.3 997.3 1061.3 997.3 1061.3 997.3zM713.6 983.4 713.6 983.4 713.6 983.4 713.6 983.4zM1075.8 983.4 1075.8 983.4 1075.8 983.4 1090.3 983.4 1090.3 983.4 1090.3 983.4zM1452.5 983.4 1467 997.3 1481.5 983.4 1467 969.5zM670.1 969.5 670.1 969.5 670.1 969.5 670.1 969.5zM699.1 969.5 699.1 969.5 699.1 955.5 684.6 941.6 670.1 941.6 670.1 941.6 670.1 941.6 684.6 927.6 684.6 927.6 699.1 913.7 699.1 913.7 699.1 913.7 713.6 927.6 713.6 927.6 713.6 941.6 713.6 955.5 713.6 955.5 699.1 969.5zM815 969.5 815 969.5 815 969.5 815 969.5zM1496 969.5 1510.5 983.4 1525 969.5 1510.5 955.5zM568.7 955.5 583.1 969.5 597.6 969.5 612.1 955.5 597.6 941.6 583.1 941.6zM930.9 955.5 945.4 969.5 959.9 955.5 945.4 941.6zM1177.2 955.5 1191.7 969.5 1206.2 955.5 1206.2 955.5 1206.2 955.5 1220.7 969.5 1235.2 955.5 1220.7 941.6 1220.7 941.6 1220.7 927.6 1206.2 913.7 1191.7 927.6 1191.7 941.6 1191.7 941.6zM510.7 941.6 525.2 955.5 539.7 941.6 539.7 927.6 525.2 913.7 510.7 927.6zM423.8 927.6 438.2 941.6 452.7 927.6 438.2 913.7zM539.7 927.6 554.2 941.6 568.7 927.6 568.7 913.7 554.2 899.8 539.7 913.7zM612.1 927.6 626.6 941.6 641.1 927.6 626.6 913.7 626.6 913.7 612.1 899.8 597.6 913.7 612.1 927.6zM786 927.6 800.5 941.6 815 927.6 800.5 913.7zM815 927.6 829.5 941.6 844 941.6 858.5 927.6 844 913.7 829.5 913.7zM945.4 927.6 959.9 941.6 974.4 927.6 974.4 927.6 988.9 913.7 974.4 899.8 974.4 899.8 959.9 885.8 945.4 899.8 959.9 913.7 959.9 913.7 959.9 913.7zM1061.3 927.6 1061.3 927.6 1061.3 927.6 1061.3 927.6zM1104.8 927.6 1104.8 927.6 1104.8 927.6 1104.8 927.6zM873 913.7 887.4 927.6 901.9 913.7 887.4 899.8zM1090.3 913.7 1090.3 913.7 1090.3 913.7 1090.3 913.7zM1119.3 913.7 1119.3 913.7 1119.3 899.8 1104.8 885.8 1090.3 885.8 1075.8 899.8 1075.8 899.8 1075.8 899.8 1075.8 885.8 1075.8 885.8 1090.3 871.9 1090.3 871.9 1090.3 871.9 1104.8 885.8 1119.3 885.8 1119.3 885.8 1119.3 899.8 1119.3 913.7zM1220.7 913.7 1235.2 927.6 1249.7 913.7 1249.7 913.7 1264.2 899.8 1249.7 885.8 1235.2 899.8 1235.2 899.8zM1351.1 913.7 1365.6 927.6 1380.1 913.7 1365.6 899.8zM641.1 885.8 655.6 899.8 670.1 885.8 655.6 871.9zM1046.8 871.9 1046.8 871.9 1046.8 871.9 1046.8 871.9zM974.4 857.9 988.9 871.9 1003.4 857.9 988.9 844 988.9 844 988.9 844 1003.4 830.1 988.9 816.1 974.4 830.1 974.4 830.1 959.9 844 974.4 857.9zM1075.8 857.9 1075.8 857.9 1075.8 857.9 1075.8 857.9zM728 844 742.5 857.9 757 844 742.5 830.1zM1104.8 844 1119.3 857.9 1133.8 844 1133.8 844 1148.3 830.1 1133.8 816.1 1119.3 816.1 1104.8 830.1zM1162.8 844 1177.2 857.9 1191.7 844 1191.7 830.1 1177.2 816.1 1162.8 830.1zM1220.7 844 1235.2 857.9 1249.7 844 1235.2 830.1zM1003.4 830.1 1017.8 844 1032.3 830.1 1032.3 816.1 1032.3 802.2 1032.3 788.2 1032.3 774.3 1017.8 760.4 1003.4 760.4 988.9 774.3 988.9 774.3 974.4 788.2 988.9 802.2 1003.4 788.2 1003.4 788.2 1003.4 788.2 1003.4 802.2 1003.4 816.1zM1249.7 830.1 1264.2 844 1278.7 830.1 1264.2 816.1zM1336.6 830.1 1351.1 844 1365.6 830.1 1351.1 816.1zM1220.7 816.1 1235.2 830.1 1249.7 816.1 1235.2 802.2zM1046.8 802.2 1061.3 816.1 1075.8 802.2 1061.3 788.2zM1177.2 802.2 1191.7 816.1 1206.2 802.2 1191.7 788.2zM1119.3 774.3 1133.8 788.2 1148.3 774.3 1133.8 760.4zM1162.8 774.3 1177.2 788.2 1191.7 774.3 1177.2 760.4zM1249.7 774.3 1264.2 788.2 1278.7 774.3 1264.2 760.4zM1075.8 760.4 1090.3 774.3 1104.8 760.4 1090.3 746.4zM1032.3 746.4 1046.8 760.4 1061.3 746.4 1046.8 732.5zM1264.2 746.4 1278.7 760.4 1293.2 746.4 1278.7 732.5zM988.9 732.5 1003.4 746.4 1017.8 732.5"/>
<path fill="none" stroke="#242424" stroke-width="6.25" stroke-linejoin="round" d="M732.4 1973.1 742.5 1975.9 745.4 1973.1 742.5 1970.4zM654.6 1903.4 655.6 1904.4 656.6 1903.4 655.6 1900.7zM837.8 1903.4 844 1910.2 849.4 1903.4 844 1895.5zM928 1889.5 930.9 1892.3 937.7 1889.5 930.9 1886.2zM712.6 1875.6 713.6 1877.4 715 1875.6 713.6 1873.7zM915 1875.6 916.4 1876.5 917.6 1875.6 916.4 1872.8zM505.7 1861.6 510.7 1865.8 515 1861.6 512.6 1847.7 510.7 1842.1 507.8 1847.7zM640 1861.6 641.1 1862.5 644 1861.6 641.1 1860.2zM697.9 1861.6 699.1 1862.5 701 1861.6 699.1 1860.5zM1127.4 1861.6 1133.8 1869.3 1142.9 1861.6 1133.8 1854.8zM764.8 1847.7 771.5 1850.5 781.7 1847.7 771.5 1844.9zM921.1 1847.7 930.9 1852.9 943.2 1847.7 930.9 1840.9zM680.2 1833.7 684.6 1838.5 696.2 1833.7 684.6 1829zM1001.4 1833.7 1003.4 1834.7 1006.3 1833.7 1012.1 1819.8 1003.4 1813.1 994.7 1819.8zM1103.6 1833.7 1104.8 1834.7 1105.9 1833.7 1104.8 1832.3zM493.3 1819.8 496.2 1821.2 497.4 1819.8 496.2 1818.7zM586 1819.8 597.6 1825.4 609.2 1819.8 597.6 1813.1zM851.5 1819.8 858.5 1826.5 865.4 1819.8 858.5 1813.1zM973.4 1819.8 974.4 1821.7 977.3 1819.8 979.5 1805.9 974.4 1802 971 1805.9zM1143.3 1819.8 1148.3 1824.6 1152.6 1819.8 1148.3 1814.2zM1321 1819.8 1322.1 1821.7 1323.1 1819.8 1322.1 1817.9zM480.8 1805.9 481.7 1808.6 482.9 1805.9 481.7 1804.5zM548 1805.9 554.2 1817.7 564 1805.9 554.2 1799.1zM770.4 1805.9 771.5 1811.4 772.7 1805.9 771.5 1803.1zM1031.2 1805.9 1032.3 1811.4 1033.3 1805.9 1032.3 1800.3zM1073.9 1805.9 1075.8 1807.3 1090.3 1814.2 1099 1805.9 1090.3 1797.5 1075.8 1804.7zM430 1791.9 438.2 1797.8 443.7 1791.9 438.2 1785.1zM461.8 1791.9 467.2 1797.2 474.3 1791.9 467.2 1782.4zM726.9 1791.9 728 1794.7 730 1791.9 742.5 1782.9 752.7 1778 742.5 1768.2 728 1775.2 726.1 1778zM783.1 1791.9 786 1793 788.9 1791.9 786 1786.3 783.8 1778 786 1775.9 795.9 1764 800.5 1752.9 806.3 1750.1 815 1748.4 829.5 1738 844 1738.9 851.7 1750.1 852.7 1764 844 1765.7 833.3 1778 829.5 1785.4 823.7 1778 825.1 1764 815 1754.3 808.2 1764 806.3 1778 808.2 1791.9 815 1798.4 829.5 1794.7 839.6 1791.9 844 1790.2 858.5 1779.4 864.3 1778 873 1776.6 886 1764 887.4 1761.3 896.1 1764 901.9 1766.8 907.7 1764 912.6 1750.1 916.4 1745.6 924.1 1750.1 930.9 1759.9 935 1750.1 941.1 1736.2 945.4 1734.8 959.9 1732 964.2 1736.2 959.9 1738.9 954.1 1750.1 957 1764 959.9 1765.2 974.4 1765.4 988.9 1766.8 990 1764 988.9 1761.3 974.4 1758.5 971.5 1750.1 974.4 1745.9 984.5 1736.2 988.9 1727.8 991.8 1722.2 988.9 1720.4 974.4 1711.1 959.9 1712.5 945.4 1711.5 939.6 1708.3 945.4 1700.8 949.5 1694.3 959.9 1689.3 970.3 1694.3 974.4 1704.1 981.1 1694.3 988.9 1691.6 993.5 1694.3 995.1 1708.3 1003.4 1717.8 1015 1722.2 1017.8 1724.1 1030.4 1736.2 1032.3 1738.9 1038.1 1736.2 1041.4 1722.2 1046.8 1710.1 1052.2 1722.2 1055.5 1736.2 1061.3 1737.6 1064.2 1736.2 1074.1 1722.2 1061.3 1710 1052.6 1708.3 1050.9 1694.3 1051.9 1680.4 1061.3 1673.2 1075.8 1675.9 1088.4 1680.4 1090.3 1686 1099 1694.3 1104.8 1695.5 1110.6 1694.3 1112.8 1680.4 1119.3 1670.4 1133.8 1677.6 1138.1 1680.4 1148.3 1686.9 1162.8 1682.3 1164.2 1680.4 1162.8 1677.6 1148.3 1670.6 1145.4 1666.5 1133.8 1659.8 1119.3 1661.6 1113 1652.5 1110.6 1638.6 1119.3 1634.4 1128 1638.6 1133.8 1640.4 1146.3 1652.5 1148.3 1658.1 1162.8 1659 1167.8 1652.5 1177.2 1643.5 1191.7 1640.4 1193.7 1638.6 1191.7 1636.7 1177.2 1632.1 1162.8 1627.4 1154.1 1624.6 1162.8 1623.4 1174.3 1610.7 1162.8 1598 1149.5 1610.7 1148.3 1619.1 1133.8 1621.9 1119.3 1618.1 1115.4 1610.7 1110.6 1596.8 1119.3 1594.7 1121 1596.8 1133.8 1607 1142.9 1596.8 1133.8 1586.5 1129.1 1582.8 1133.8 1577.2 1139.6 1568.9 1143.9 1554.9 1148.3 1546.6 1154.1 1541 1162.8 1538.2 1167.7 1527.1 1162.8 1520.4 1150.2 1513.1 1162.8 1508.6 1175.8 1499.2 1177.2 1498.3 1191.7 1488 1194.6 1485.2 1194.6 1471.3 1191.7 1470.2 1190.6 1471.3 1177.2 1476.2 1163.9 1471.3 1162.8 1465.7 1160.8 1471.3 1162.8 1476.9 1163.7 1485.2 1162.8 1486.6 1148.3 1492.7 1133.8 1490.8 1122.2 1499.2 1119.3 1507.5 1117.5 1499.2 1109.9 1485.2 1119.3 1476.2 1129.4 1471.3 1133.8 1462.9 1135.2 1457.4 1148.3 1447.3 1162.8 1453.2 1171.4 1457.4 1177.2 1458.5 1178.4 1457.4 1191.7 1446.7 1198.5 1443.4 1191.7 1433.7 1177.2 1436.9 1162.8 1436.9 1148.3 1439.5 1133.8 1432.3 1132.3 1429.5 1133.8 1425.3 1138.8 1415.5 1140.5 1401.6 1147.3 1387.7 1133.8 1376 1119.3 1381 1104.8 1375.8 1100.4 1373.7 1104.8 1365.4 1119.3 1369.2 1130.5 1359.8 1133.8 1354.2 1141.5 1359.8 1148.3 1364.7 1153.3 1359.8 1148.3 1350 1145.4 1345.8 1144.1 1331.9 1133.8 1323.8 1120.4 1318 1119.3 1315.2 1117.3 1318 1119.3 1323.5 1120.5 1331.9 1119.3 1334.7 1114.9 1331.9 1104.8 1327 1098 1331.9 1104.8 1336.8 1112.3 1345.8 1104.8 1357.9 1095.4 1345.8 1090.3 1339.3 1087.7 1331.9 1075.8 1319 1074.6 1318 1075.8 1316.9 1087.7 1304 1077.7 1290.1 1086 1276.1 1090.3 1272 1099 1276.1 1102.9 1290.1 1104.8 1295.7 1119.3 1296.6 1122.7 1290.1 1133.8 1279.4 1148.3 1277.5 1161.3 1290.1 1162.8 1295.7 1165.6 1290.1 1166.8 1276.1 1162.8 1272.9 1153.2 1262.2 1148.3 1255.5 1143.3 1262.2 1133.8 1272.9 1120.4 1262.2 1119.3 1256.6 1113.5 1262.2 1104.8 1270.6 1100.4 1262.2 1093.2 1248.3 1090.3 1246.9 1087.4 1248.3 1083.5 1262.2 1075.8 1269.6 1070 1262.2 1061.3 1251 1055.5 1262.2 1046.8 1272.2 1033.8 1262.2 1036.4 1248.3 1032.3 1241.8 1017.8 1239.9 1012.1 1234.3 1017.8 1230.6 1030.6 1220.4 1017.9 1208.1 1003.4 1210.2 988.9 1212 977.3 1220.4 988.9 1231.5 991.8 1234.3 988.9 1236.4 974.4 1235.5 970 1234.3 972.6 1220.4 967.9 1206.4 965.7 1192.5 959.9 1190.6 947.3 1178.6 957 1164.6 959.9 1160.4 970 1150.7 968.1 1136.7 959.9 1130.8 945.4 1132.8 940.3 1136.7 945.4 1146.5 949.7 1150.7 945.4 1153.5 936.7 1150.7 930.9 1148.8 916.4 1145.1 910.6 1150.7 901.9 1153.5 893.2 1150.7 887.4 1149.6 874.1 1136.7 873 1134 871.5 1136.7 858.5 1145.1 848 1136.7 844 1130.2 829.5 1128.4 817.9 1122.8 815 1120 812.1 1122.8 800.5 1134 796.6 1122.8 786 1110.5 775.4 1122.8 786 1135.1 794.7 1136.7 786 1140.9 775.9 1150.7 771.5 1152.8 759.2 1164.6 757 1166 754.9 1164.6 752.4 1150.7 757 1143.2 767.2 1136.7 757 1127 746.9 1136.7 742.5 1138.8 728 1145.1 713.6 1145.1 710.7 1136.7 713.6 1128.4 719.4 1122.8 713.6 1120 707.8 1122.8 699.1 1125.6 684.6 1127 682.4 1122.8 684.6 1114.4 687.5 1108.9 684.6 1107 681.7 1108.9 670.1 1113.3 658.5 1108.9 665.5 1094.9 655.6 1085.4 652.3 1081 641.1 1072.6 628.1 1081 641.1 1093.5 643.3 1094.9 641.1 1096.6 632 1108.9 626.6 1120.9 623.7 1122.8 612.1 1125.3 597.6 1131.2 583.1 1128.4 576.2 1136.7 568.7 1141.9 560.7 1150.7 554.2 1163.2 551.3 1164.6 539.7 1170.2 532 1164.6 539.7 1157.2 543.7 1150.7 539.7 1140.9 529.5 1150.7 525.2 1154.9 521.1 1164.6 512.1 1178.6 510.7 1180.7 498.4 1192.5 510.7 1204.3 512.4 1206.4 510.7 1208.1 500.1 1220.4 496.2 1227.8 481.7 1222.1 478.8 1220.4 467.2 1215.6 452.7 1214.8 450.8 1220.4 438.2 1232.5 432.9 1220.4 423.8 1210.2 411 1220.4 423.8 1232.6 432.5 1234.3 423.8 1237.1 409.3 1241.8 405.2 1248.3 409.3 1258 411.4 1262.2 409.3 1270.6 407.3 1276.1 405.2 1290.1 409.3 1296.6 423.8 1295.7 432.5 1304 423.8 1314.1 417 1318 409.3 1321.7 394.8 1321.7 387.7 1331.9 394.8 1342.1 400.6 1345.8 394.8 1349.6 383.2 1345.8 380.3 1344.7 379.3 1345.8 379.1 1359.8 380.3 1360.9 393.6 1373.7 394.8 1375.6 404.2 1387.7 400.6 1401.6 394.8 1409 388 1415.5 388 1429.5 394.8 1433.4 398.8 1443.4 409.3 1455.3 415.1 1457.4 410.7 1471.3 409.3 1475.5 399.1 1485.2 409.3 1491.7 420.9 1499.2 411.4 1513.1 415.1 1527.1 409.3 1538.2 407.3 1541 402.3 1554.9 394.8 1564 380.3 1566.1 379.1 1568.9 379.1 1582.8 380.3 1583.9 386.1 1582.8 394.8 1578.6 404.9 1568.9 409.3 1566.1 412.2 1568.9 415.1 1582.8 423.8 1591.2 435.4 1596.8 423.8 1607.9 421.8 1610.7 423.8 1612.6 433.2 1624.6 438.2 1634.4 440.4 1638.6 438.2 1642.8 428.1 1652.5 437.1 1666.5 436.8 1680.4 438.2 1682.3 441.1 1680.4 452.7 1677.2 456.6 1680.4 452.7 1687.8 447.7 1694.3 449.8 1708.3 452.7 1709.7 467.2 1710.1 481.7 1718 490.4 1722.2 486.1 1736.2 496.2 1740.1 506.4 1736.2 510.7 1727.8 516.5 1722.2 525.2 1719.4 539.7 1718 541.4 1722.2 549.1 1736.2 539.7 1748.2 537.7 1750.1 529.8 1764 539.7 1770.8 546.7 1764 554.2 1754 568.7 1755 583.1 1756.8 591.8 1750.1 583.1 1741.7 568.7 1745.2 559.2 1736.2 566.9 1722.2 554.2 1710 549.8 1708.3 551.3 1694.3 551.3 1680.4 554.2 1679 555.3 1680.4 555.6 1694.3 568.7 1705.1 576.4 1708.3 570.8 1722.2 583.1 1731.7 595.5 1722.2 589.9 1708.3 597.6 1703.8 601 1708.3 600.5 1722.2 612.1 1733.4 613.4 1736.2 626.6 1744.3 637.7 1750.1 641.1 1755 655.6 1758.9 668.2 1764 670.1 1765.2 672 1764 673 1750.1 684.6 1747.3 690.4 1750.1 694 1764 699.1 1773.8 705.8 1764 713.6 1760.3 728 1756.6 742.5 1761.9 757 1758.5 768.6 1750.1 771.5 1748 780.2 1750.1 773.7 1764 771.5 1766.1 759.2 1778 771.5 1787.5zM911.3 1791.9 916.4 1795.2 930.9 1795.8 945.4 1798.4 952.2 1791.9 945.4 1788 930.9 1788 917.9 1778 916.4 1772.4 913.5 1778zM1049 1791.9 1061.3 1799.8 1067.5 1791.9 1061.3 1780.1zM1070 1778 1075.8 1779.1 1078.7 1778 1075.8 1776.6zM1231.8 1778 1235.2 1787.7 1238.1 1778 1235.2 1774.1zM392.8 1764 394.8 1765 395.9 1764 394.8 1763.1zM420.4 1764 423.8 1767.3 426.7 1764 438.2 1754.3 445.2 1750.1 438.2 1741.7 423.8 1749 421.8 1750.1zM471.6 1764 481.7 1767.9 486.8 1764 481.7 1757.5zM595.7 1764 597.6 1766.8 603.4 1764 597.6 1761.3zM1146.8 1764 1148.3 1765.9 1154.1 1764 1148.3 1762.6zM993.5 1750.1 1003.4 1756 1009.5 1750.1 1003.4 1738.3zM1176.1 1750.1 1177.2 1751.2 1180.1 1750.1 1177.2 1744.5zM1273.7 1750.1 1278.7 1754.3 1283 1750.1 1283.7 1736.2 1278.7 1732.3 1271.9 1736.2zM655.6 1741.3 649.3 1736.2 654.4 1722.2 649.3 1708.3 655.6 1703.1 661.9 1708.3 656.7 1722.2 663.1 1736.2zM742.5 1738.3 739.6 1736.2 742.5 1734.1 750.8 1722.2 757 1718.2 766.4 1722.2 759.2 1736.2 757 1738.9zM800.5 1744.5 791.8 1736.2 800.5 1734.1 802.2 1736.2zM398.6 1722.2 409.3 1731 417.2 1722.2 423.8 1712.2 430.5 1708.3 423.8 1698.5 417 1708.3 409.3 1712zM1077.5 1722.2 1090.3 1729.9 1103.1 1722.2 1090.3 1713.5zM1113.5 1722.2 1119.3 1725 1122.2 1722.2 1119.3 1716.6zM1205.1 1722.2 1206.2 1727.8 1209.1 1722.2 1206.2 1720.8zM510.7 1719.4 503 1708.3 498.1 1694.3 510.7 1685.3 523.3 1694.3 516.5 1708.3zM815 1713.5 809.6 1708.3 815 1702.2 821.3 1708.3zM1161.8 1708.3 1162.8 1709.4 1168.5 1708.3 1162.8 1706.4zM1261.3 1708.3 1264.2 1709.2 1265.3 1708.3 1264.2 1706.9zM481.7 1701.8 477.1 1694.3 481.7 1691.2 493.3 1694.3zM626.6 1700.4 620.3 1694.3 621.4 1680.4 626.6 1672 635.3 1680.4 639.2 1694.3zM728 1698.4 723.9 1694.3 728 1690.3 734.3 1694.3zM844 1695.4 842.7 1694.3 844 1693.6 845.1 1694.3zM1277.2 1694.3 1278.7 1695.5 1279.6 1694.3 1278.7 1693.4zM1017.8 1686 1010.1 1680.4 1017.8 1677.9 1022.5 1680.4zM1234 1680.4 1235.2 1682.3 1236.6 1680.4 1239.3 1666.5 1235.2 1660 1230.1 1666.5zM510.7 1675.5 501.3 1666.5 510.7 1663.2 514.5 1666.5zM1090.3 1674.8 1088.9 1666.5 1090.3 1663.7 1094.6 1666.5zM408.1 1652.5 409.3 1654.4 415.1 1652.5 409.3 1650.7zM1017.8 1655 1014 1652.5 1017.8 1650 1021.7 1652.5zM1241 1652.5 1249.7 1658.1 1254 1652.5 1249.7 1647.7zM655.6 1641.8 653.3 1638.6 655.6 1637.1 659.5 1638.6zM1061.3 1640.7 1060.4 1638.6 1061.3 1636.9 1065.7 1638.6zM1090.3 1641.4 1086 1638.6 1090.3 1636.5 1099 1638.6zM1215.6 1638.6 1220.7 1642.5 1224.1 1638.6 1220.7 1634.7zM378.4 1624.6 380.3 1627.4 382.2 1624.6 380.3 1622.8zM401.1 1624.6 409.3 1632.5 417.5 1624.6 409.3 1616.7zM1003.4 1628.4 1001.6 1624.6 1003.4 1621.5 1006.7 1624.6zM1090.3 1616.7 1084.9 1610.7 1090.3 1605.5 1095.7 1610.7zM1188.8 1610.7 1191.7 1612.6 1206.2 1616.3 1208.2 1610.7 1206.2 1605.1 1191.7 1609.3zM1230.1 1610.7 1235.2 1615.6 1240.3 1610.7 1235.2 1605.8zM1259.1 1596.8 1264.2 1600 1270.9 1596.8 1264.2 1593.5zM1160.8 1582.8 1162.8 1588.4 1164.7 1582.8 1162.8 1581.4zM1204.3 1582.8 1206.2 1588.4 1207.7 1582.8 1206.2 1581.4zM1248.2 1582.8 1249.7 1584.7 1250.8 1582.8 1249.7 1581.7zM1328.2 1582.8 1336.6 1590.3 1344.4 1582.8 1336.6 1573.9zM1175.8 1568.9 1177.2 1570.7 1178.7 1568.9 1177.2 1567zM438.2 1556.1 436.8 1554.9 438.2 1553.5 440.4 1554.9zM1104.8 1558.7 1100.9 1554.9 1104.8 1551.2 1108.7 1554.9zM1196.4 1554.9 1206.2 1561.7 1214.4 1554.9 1220.7 1542.9 1222.6 1541 1220.7 1538.2 1206.2 1534.5 1202.8 1541zM1350 1554.9 1351.1 1555.9 1352.3 1554.9 1351.1 1553.5zM389.7 1527.1 394.8 1531.9 401.5 1527.1 394.8 1517.3zM1061.3 1529.8 1056.7 1527.1 1061.3 1524.3 1064.2 1527.1zM1185.6 1527.1 1191.7 1533 1201.6 1527.1 1191.7 1520.3zM1406.2 1527.1 1409.1 1531 1412 1527.1 1409.1 1524.3zM1204.8 1513.1 1206.2 1515.9 1220.7 1515.9 1222.2 1513.1 1220.7 1510.3 1206.2 1511.7zM1303.3 1513.1 1307.7 1517.3 1312 1513.1 1307.7 1508.3zM1232.3 1499.2 1235.2 1500.6 1236.4 1499.2 1235.2 1497.3zM1335.7 1499.2 1336.6 1500.3 1337.6 1499.2 1336.6 1498.3zM1090.3 1460.1 1088.2 1457.4 1090.3 1452.9 1094.2 1457.4zM1234 1457.4 1235.2 1460.1 1249.7 1458.8 1252.6 1457.4 1249.7 1456.2 1236.4 1443.4 1235.2 1437.8 1220.7 1441.6 1217.8 1443.4 1220.7 1444.5zM1104.8 1445.1 1102.6 1443.4 1104.8 1435.1 1113.5 1443.4zM1306.7 1443.4 1307.7 1444.8 1308.6 1443.4 1307.7 1442.5zM409.3 1431.5 401.5 1429.5 409.3 1423.9 415.1 1429.5zM1119.3 1416.9 1114.9 1415.5 1119.3 1413.9 1123.6 1415.5zM1203.3 1415.5 1206.2 1418.3 1209.1 1415.5 1206.2 1410zM1104.8 1409 1100.2 1401.6 1104.8 1397.1 1108.7 1401.6zM1154.1 1401.6 1162.8 1410 1168.5 1401.6 1172.9 1387.7 1175.1 1373.7 1177.2 1365.4 1178.7 1359.8 1191.7 1347.2 1206.2 1350.7 1209.6 1345.8 1206.2 1341.9 1191.7 1344.4 1177.2 1337.5 1168.5 1345.8 1175.3 1359.8 1162.8 1365.8 1154.5 1373.7 1152.6 1387.7zM1181.6 1387.7 1191.7 1394.2 1206.2 1397.4 1220.7 1389.5 1235.2 1389.1 1236.6 1387.7 1235.2 1384.9 1220.7 1386.7 1206.2 1383.8 1191.7 1383.8zM1289.1 1373.7 1293.2 1380.2 1307.7 1377.6 1311 1373.7 1307.7 1367.2 1293.2 1369.8zM423.8 1363.5 419.1 1359.8 423.8 1355.3 426.1 1359.8zM1234.2 1359.8 1235.2 1362.6 1249.7 1366.6 1255.2 1359.8 1249.7 1353 1235.2 1354.2zM1061.3 1347 1060.1 1345.8 1061.3 1344.2 1063.1 1345.8zM423.8 1336.4 419.9 1331.9 423.8 1324.5 429.6 1331.9zM1160.8 1331.9 1162.8 1334.7 1165.6 1331.9 1164.7 1318 1162.8 1312.4 1160.6 1304 1148.3 1297.2 1135.9 1304 1147.1 1318 1148.3 1319.8zM1248.2 1331.9 1249.7 1333.3 1251.6 1331.9 1249.7 1329.1zM1017.8 1320.7 1016.2 1318 1017.9 1315.7 1020.4 1318zM387.8 1304 394.8 1312.4 403.5 1304 394.8 1298.4zM1061.3 1306.8 1059.2 1304 1061.3 1299.6 1063.9 1304zM1032.3 1297.5 1028.5 1290.1 1032.3 1282.6 1035.2 1290.1zM1201.1 1290.1 1206.2 1294 1210.3 1290.1 1206.2 1283.6zM1304.8 1290.1 1307.7 1292.9 1311.7 1290.1 1307.7 1286.8zM945.4 1278.2 942.5 1276.1 945.4 1273 948.3 1276.1zM1289.1 1276.1 1293.2 1278.9 1296.5 1276.1 1299 1262.2 1293.2 1258 1287.4 1262.2zM365.8 1249.2 368.7 1248.3 365.8 1247.3M452.7 1251.9 440.2 1248.3 452.7 1243.1 465.3 1248.3zM525.2 1252 517.5 1248.3 525.2 1245.1 528.5 1248.3zM959.9 1249.5 958.6 1248.3 959.9 1244.1 961.1 1248.3zM1123.6 1248.3 1133.8 1251.5 1138.8 1248.3 1133.8 1243.4zM467.2 1245.5 463.4 1234.3 467.2 1228.7 471.1 1234.3zM1231.8 1234.3 1235.2 1238.2 1249.7 1239.6 1257.9 1234.3 1249.7 1226.4 1235.2 1231.5zM873 1223.2 865.2 1220.4 873 1216.7 875.1 1220.4zM916.4 1224.9 911.7 1220.4 916.4 1214.3 922.7 1220.4zM1034.5 1220.4 1046.8 1232.2 1061.3 1222.2 1062.8 1220.4 1061.3 1217.6 1046.8 1212.5zM1088.9 1220.4 1090.3 1221.8 1091.7 1220.4 1090.3 1218.5zM1200.4 1220.4 1206.2 1221.3 1220.7 1226.3 1226.2 1220.4 1220.7 1210.9 1206.2 1218.5zM480.6 1206.4 481.7 1212 484.6 1206.4 494.5 1192.5 490.4 1178.6 496.2 1173 502 1164.6 496.2 1153.5 489.3 1164.6 481.7 1171.9 470.1 1178.6 471.1 1192.5zM539.7 1209.2 537.9 1206.4 539.7 1204.8 541.4 1206.4zM887.4 1209.5 882.1 1206.4 887.4 1199.2 892.8 1206.4zM930.9 1208.5 928.7 1206.4 930.9 1198.1 939.6 1206.4zM1065.2 1206.4 1075.8 1214.1 1084.9 1206.4 1075.8 1198.8zM376.9 1192.5 380.3 1199 394.8 1198.1 409.3 1196.4 419.4 1192.5 416 1178.6 409.3 1172.1 402.5 1178.6 394.8 1189.7 380.3 1188.6zM568.7 1196.2 565.3 1192.5 568.7 1181.3 572 1192.5zM844 1201.6 839.8 1192.5 844 1188 853.8 1178.6 858.5 1171.3 865.4 1164.6 873 1152.5 887.4 1156.3 890.3 1164.6 887.4 1173 881.6 1178.6 881.6 1192.5 873 1198.8 858.5 1194.5zM983.1 1192.5 988.9 1195.3 991.8 1192.5 988.9 1190.6zM1009.2 1192.5 1017.8 1203.7 1029.4 1192.5 1017.8 1181.3zM1107.7 1192.5 1119.3 1198.1 1126.2 1192.5 1119.3 1186.9zM1151.2 1192.5 1162.8 1200.9 1167.1 1192.5 1162.8 1187.7zM1393.6 1192.5 1394.6 1195.3 1395.6 1192.5 1394.6 1186.9zM554.2 1180 551.3 1178.6 554.2 1170.2 562.9 1178.6zM815 1180.8 811.1 1178.6 815 1173 822.7 1178.6zM930.9 1191.4 917.6 1178.6 916.4 1173 913.5 1164.6 916.4 1156.3 930.9 1156.3 933.8 1164.6 944.2 1178.6zM972.4 1178.6 974.4 1184.1 976.3 1178.6 988.9 1173.4 1003.4 1171.3 1017.8 1174.4 1028 1164.6 1017.8 1154.9 1003.4 1160.4 988.9 1152.4 978.2 1164.6 974.4 1175.8zM1039.9 1178.6 1046.8 1184.1 1053.8 1178.6 1046.8 1173zM447.7 1164.6 452.7 1169.5 457.8 1164.6 467.2 1152.5 469.2 1150.7 467.2 1149.8 452.7 1144.2 438.2 1138.8 430 1150.7 438.2 1158.6zM612.1 1169.1 600.5 1164.6 612.1 1159 616.8 1164.6zM829.5 1172.1 823.7 1164.6 829.5 1157.2 841.1 1164.6zM1059.9 1164.6 1061.3 1166.5 1062.3 1164.6 1061.3 1163.2zM1362.7 1164.6 1365.6 1167.4 1368.5 1164.6 1365.6 1161.8zM408.1 1150.7 409.3 1153.5 411.2 1150.7 409.3 1148.8zM670.1 1152.1 661.4 1150.7 662.4 1136.7 670.1 1132.3 677.8 1136.7 671.2 1150.7zM1045.4 1150.7 1046.8 1152.1 1048.3 1150.7 1046.8 1149.6zM1306.7 1150.7 1307.7 1152.1 1308.6 1150.7 1307.7 1149.8zM480.8 1136.7 481.7 1138.6 483.7 1136.7 481.7 1134.9zM641.1 1142.3 629.5 1136.7 641.1 1132.3 648.8 1136.7zM1156.6 1136.7 1162.8 1142.7 1168.9 1136.7 1162.8 1130zM1244.7 1136.7 1249.7 1140.9 1254 1136.7 1249.7 1132.6zM552.2 1122.8 554.2 1125.6 568.7 1124.7 571.6 1122.8 583.1 1115.4 587.2 1108.9 583.1 1106.1 568.7 1107.7 562.9 1108.9 554.2 1117.2zM880.7 1122.8 887.4 1126.1 894.2 1122.8 887.4 1113zM913.5 1122.8 916.4 1128.4 919.3 1122.8 916.4 1121.9zM1041 1122.8 1046.8 1123.9 1048.8 1122.8 1046.8 1120.9zM433.2 1108.9 438.2 1113.7 442.3 1108.9 439.2 1094.9 438.2 1093.8 437.1 1094.9zM608.1 1108.9 612.1 1115.4 617.2 1108.9 612.1 1106.1zM721.3 1108.9 728 1118.6 734.8 1108.9 742.5 1101.4 745.9 1094.9 752.7 1081 757 1076.8 765.7 1081 771.5 1086.6 775.9 1094.9 786 1104.7 791.1 1094.9 791.8 1081 786 1074.3 771.5 1075.4 767.2 1067 757 1062.2 746.9 1067 742.5 1071.2 735.8 1081 728 1092.1 722.3 1094.9zM822.7 1108.9 829.5 1115.4 844 1111.6 846.9 1108.9 844 1106.1 829.5 1105zM1028.3 1108.9 1032.3 1118.6 1037.4 1108.9 1032.3 1102.4zM536.8 1094.9 539.7 1100.5 541.6 1094.9 539.7 1089.3zM868.6 1094.9 873 1103.3 884.5 1094.9 873 1086.6zM1099.8 1094.9 1104.8 1101.6 1109.1 1094.9 1104.8 1089.3zM393.6 1081 394.8 1082.1 395.9 1081 394.8 1079.1zM548.4 1081 554.2 1082.8 555.6 1081 554.2 1080.1zM694 1081 699.1 1087.5 705.8 1081 699.1 1077.1zM809.2 1081 815 1092.1 821.9 1081 815 1076.8zM449.8 1067 452.7 1068.9 453.9 1067 452.7 1065.6zM581.2 1067 583.1 1068.9 584.6 1067 583.1 1065.2zM886 1067 887.4 1069.8 889.4 1067 887.4 1065.9zM929.9 1067 930.9 1068.2 932.4 1067 930.9 1065.9zM955.8 1067 959.9 1071.9 962.8 1067 959.9 1063.8zM986 1067 988.9 1071.9 992.9 1067 988.9 1062.2zM1049.4 1067 1061.3 1078.5 1070.3 1067 1061.3 1057.7zM1161.8 1067 1162.8 1068.2 1164.7 1067 1162.8 1065.9zM463.2 1053.1 467.2 1056.4 470.6 1053.1 467.2 1046.6zM521.8 1053.1 525.2 1056.4 535.3 1053.1 525.2 1049.8zM712.4 1053.1 713.6 1058.7 715 1053.1 713.6 1051.2zM969.4 1053.1 974.4 1057.3 981.3 1053.1 974.4 1047.5zM1016.7 1053.1 1017.8 1058.7 1019 1053.1 1022.2 1039.2 1017.8 1035 1013.5 1039.2zM1083.5 1053.1 1090.3 1062.9 1100.4 1053.1 1090.3 1048.2zM536.3 1039.2 539.7 1048.9 546.4 1039.2 539.7 1035.9zM649.8 1039.2 655.6 1045.9 664.3 1039.2 670.1 1034.7 677.1 1025.2 670.1 1020 663.1 1025.2 655.6 1033.6zM710.7 1025.2 713.6 1027.1 715 1025.2 713.6 1024.1zM736.7 1025.2 742.5 1029.4 749.5 1025.2 742.5 1020.4zM954.8 1025.2 959.9 1031.7 963.9 1025.2 959.9 1022.4zM538.7 1011.3 539.7 1012.4 540.6 1011.3 539.7 1005.7zM593.6 1011.3 597.6 1014.1 601 1011.3 597.6 1008.5zM692.1 1011.3 699.1 1019.6 704 1011.3 699.1 1007.1zM763.3 1011.3 771.5 1018.1 777 1011.3 771.5 1006zM970 1011.3 974.4 1016.9 979.3 1011.3 974.4 1007.1zM726.9 997.3 728 998.7 729 997.3 728 995.9zM813.5 997.3 815 998.7 816 997.3 815 996.2zM855.6 997.3 858.5 1000.1 862.5 997.3 858.5 994.6zM735.5 983.4 742.5 988.7 749.6 983.4 742.5 978.1zM1103.8 941.6 1104.8 942.5 1105.9 941.6 1104.8 940.7zM1116.4 927.6 1119.3 930.9 1124.4 927.6 1119.3 924.9z"/>
<path fill="none" stroke="#494949" stroke-width="6.25" stroke-linejoin="round" d="M625.4 1736.2 626.6 1736.9 629.5 1736.2 626.6 1733.4zM682.4 1736.2 684.6 1737.2 686.3 1736.2 684.6 1733.4zM852.7 1736.2 858.5 1742.4 873 1737.8 874.4 1736.2 873 1732 858.5 1727.8zM638.2 1722.2 641.1 1725 642.4 1722.2 641.1 1719.4zM667.2 1722.2 670.1 1726.7 675.9 1722.2 670.1 1716.6zM782.1 1722.2 786 1725.4 791.8 1722.2 786 1714.8zM719.4 1708.3 728 1710.4 742.5 1716.6 757 1709.2 759.9 1708.3 771.5 1699.9 783.1 1694.3 786 1693.4 799.5 1680.4 800.5 1678.5 815 1679.8 820.8 1680.4 826.6 1694.3 829.5 1697.1 830.7 1694.3 844 1686.2 853.5 1680.4 851.5 1666.5 853 1652.5 858.5 1646.6 865.5 1652.5 870.1 1666.5 865.4 1680.4 858.5 1688.8 855.6 1694.3 858.5 1697.5 870.1 1694.3 873 1692.5 887.4 1681.8 891.8 1680.4 901.9 1678 912.1 1680.4 916.4 1684.6 920.8 1680.4 924.1 1666.5 916.4 1662 904.1 1652.5 916.4 1644.6 930.9 1649.7 935.5 1638.6 930.9 1633 925.9 1624.6 930.9 1619.1 938.4 1610.7 945.4 1605.4 949.9 1610.7 946 1624.6 959.9 1636.6 974.4 1633.9 988.9 1637.7 995.1 1624.6 997.6 1610.7 1003.4 1607.9 1009.2 1610.7 1017.8 1619.1 1032.3 1613.9 1046.8 1616.3 1052.6 1610.7 1046.8 1605.1 1032.3 1607.5 1024.5 1596.8 1017.8 1587.6 1003.4 1591.2 988.9 1584.2 974.4 1594 967.4 1582.8 974.4 1579.1 988.9 1581 998.3 1568.9 1003.4 1559.1 1017.8 1564.8 1030.6 1568.9 1032.3 1571 1035.2 1568.9 1032.3 1566.8 1028.8 1554.9 1017.8 1541.5 1017.3 1541 1017.8 1540.2 1032.3 1534.5 1035.2 1541 1046.8 1548.1 1061.3 1549.4 1075.8 1552.5 1090.3 1545.2 1094.6 1541 1090.3 1538.2 1078.7 1527.1 1075.8 1518.7 1074.7 1527.1 1061.3 1540 1046.8 1531.2 1038.1 1527.1 1045.9 1513.1 1045.7 1499.2 1046.8 1497.3 1049.7 1499.2 1052.6 1513.1 1061.3 1514.2 1070 1513.1 1072.9 1499.2 1069 1485.2 1067.6 1471.3 1075.8 1464.5 1080.6 1457.4 1075.8 1447.3 1069 1443.4 1073.8 1429.5 1075.8 1426.2 1086.9 1415.5 1075.8 1402.7 1075.2 1401.6 1075.8 1396 1090.3 1394.9 1097.8 1387.7 1090.3 1382.5 1075.8 1386.3 1061.3 1380.5 1048 1387.7 1050.9 1401.6 1047.7 1415.5 1046.8 1418.3 1032.3 1423.9 1026.5 1415.5 1029.4 1401.6 1032.3 1398.8 1043.9 1387.7 1040.1 1373.7 1032.3 1369.3 1024.1 1359.8 1032.3 1353.9 1040.6 1359.8 1046.8 1368.8 1061.3 1361.5 1064.2 1359.8 1061.3 1358.6 1048.1 1345.8 1056.2 1331.9 1046.8 1327.4 1039.3 1331.9 1032.3 1336.7 1020.7 1331.9 1017.8 1330.9 1010.2 1318 1017.8 1307.6 1023.2 1304 1017.8 1295 1011.1 1290.1 1009.6 1276.1 1003.4 1271.6 988.9 1271.6 979.5 1276.1 975.5 1290.1 974.4 1291 959.9 1299.8 955.8 1290.1 945.4 1285.5 938.9 1290.1 931.7 1304 930.9 1304.8 930.3 1304 922.9 1290.1 916.4 1280 901.9 1280.4 895.8 1276.1 901.9 1264.3 904.1 1262.2 901.9 1253.8 900.5 1248.3 901.9 1245.5 913.5 1234.3 901.9 1223.2 900.5 1220.4 887.4 1216.2 882.7 1220.4 873 1233.3 868.6 1234.3 862.2 1248.3 858.5 1251.9 844 1255 835.8 1248.3 829.5 1243.1 816.9 1248.3 815 1253.8 814.4 1248.3 808.6 1234.3 800.5 1225.6 788.9 1234.3 786 1240.8 775.9 1234.3 776.9 1220.4 771.5 1215.2 757 1212 751.2 1206.4 755.2 1192.5 742.5 1181.3 730.9 1178.6 728 1174.4 726.3 1178.6 713.6 1182.2 700.8 1178.6 699.1 1176.5 684.6 1176.5 682.4 1178.6 680.7 1192.5 684.6 1199.9 688.6 1206.4 699.1 1216.5 713.6 1217.6 719.4 1220.4 713.6 1220.8 699.1 1225.3 684.6 1223.2 680.5 1220.4 670.1 1214.8 660.3 1206.4 655.6 1194.4 652.7 1192.5 655.6 1189.7 660.2 1178.6 655.6 1167.4 649.8 1164.6 641.1 1162.5 638.2 1164.6 636.4 1178.6 626.6 1189.3 618.9 1192.5 617.9 1206.4 613.3 1220.4 617.9 1234.3 612.1 1237.1 606.3 1234.3 597.6 1232.9 583.1 1223.2 571.6 1234.3 568.7 1234.7 554.2 1239.9 553 1234.3 554.2 1231.5 558 1220.4 554.2 1212.9 549.5 1220.4 539.7 1226.3 526.3 1234.3 539.7 1247.1 545.5 1248.3 539.7 1251 532 1262.2 525.2 1264 510.7 1267.8 502 1276.1 496.2 1280.3 481.7 1277.3 478.8 1276.1 475.6 1262.2 467.2 1255.8 452.7 1260 438.2 1260.8 435.4 1262.2 438.2 1266.4 452.7 1267.8 461.4 1276.1 467.2 1281.7 472.2 1290.1 467.2 1294.3 452.7 1291.5 445.3 1304 438.2 1315.9 436.5 1318 438.2 1320.1 452.7 1326.3 455.6 1331.9 452.7 1333.8 438.2 1343.7 435.4 1345.8 434.5 1359.8 438.2 1371.9 439.2 1373.7 443.8 1387.7 445.2 1401.6 438.2 1412.8 436.8 1415.5 433.6 1429.5 423.8 1439 409.3 1438.9 405.3 1443.4 409.3 1448 423.8 1447.9 427.5 1457.4 438.2 1468.5 446.9 1471.3 438.7 1485.2 438.2 1488 434.9 1499.2 438.2 1504.8 445.2 1513.1 452.7 1525.2 458.1 1513.1 467.2 1505.5 473.6 1513.1 467.2 1525.4 458.5 1527.1 452.7 1528.9 440.2 1541 452.7 1548.2 461.4 1554.9 452.7 1561.6 438.2 1567.7 436.1 1568.9 438.2 1577.2 452.7 1576.1 467.2 1573.3 481.7 1578.5 491.6 1582.8 487.5 1596.8 496.2 1606.8 506.4 1610.7 496.2 1614.6 481.7 1620.1 474.2 1624.6 473.4 1638.6 481.7 1645 495.1 1638.6 496.2 1637.2 510.7 1637.5 516.5 1638.6 525.2 1640 528.1 1638.6 532.9 1624.6 539.7 1621.9 541.9 1624.6 554.2 1636.4 559.2 1638.6 554.2 1641.4 539.7 1644.2 533.9 1652.5 525.2 1663.3 522.9 1666.5 525.2 1672 539.7 1672.5 552.2 1666.5 554.2 1665.5 555.3 1666.5 565.8 1680.4 568.7 1691.6 574.5 1680.4 576.1 1666.5 583.1 1654.2 587.5 1652.5 597.6 1642.8 607.8 1652.5 604.4 1666.5 607.8 1680.4 612.1 1683.2 613 1680.4 616.8 1666.5 626.6 1658.6 639.2 1652.5 641.1 1650.7 644.9 1638.6 655.6 1631.7 670.1 1632.1 680.2 1638.6 670.1 1640.5 656.2 1652.5 656.2 1666.5 667.9 1680.4 670.1 1683.2 678.8 1680.4 681.7 1666.5 681.4 1652.5 684.6 1641.4 699.1 1652 700.2 1652.5 699.1 1653.9 690.4 1666.5 685.5 1680.4 699.1 1687.5 712.1 1694.3 713.6 1702.7 714.5 1694.3 728 1681.3 732.4 1680.4 742 1666.5 738.7 1652.5 742.5 1644.2 757 1651.4 758.2 1652.5 757 1653.9 744 1666.5 757 1673.6 766.9 1680.4 757 1689.9 751.2 1694.3 742.5 1699.9 728 1707.4zM838.2 1708.3 844 1713.9 847.3 1708.3 844 1705.5zM955.5 1680.4 959.9 1681.2 968.6 1680.4 959.9 1678.7zM980.2 1680.4 988.9 1681.4 990.6 1680.4 991 1666.5 988.9 1663.7 984.5 1666.5zM936 1666.5 945.4 1675.5 950.8 1666.5 949.7 1652.5 945.4 1650.4 936.7 1652.5zM1013.2 1666.5 1017.8 1668.9 1023.6 1666.5 1017.8 1664zM505.3 1652.5 510.7 1655.8 515.4 1652.5 510.7 1640.4zM815 1654.5 809.9 1652.5 815 1649.3 817.9 1652.5zM887.4 1660.9 881.6 1652.5 887.4 1648.3 899 1652.5zM626.6 1640.4 625.2 1638.6 626.6 1638 628.6 1638.6zM786 1640.4 782.6 1638.6 786 1634.7 789.4 1638.6zM872.9 1644.2 868 1638.6 873 1635.5 877.3 1638.6zM1010.1 1638.6 1017.8 1641.1 1032.3 1646 1046.8 1643.8 1051 1638.6 1046.8 1631.3 1032.3 1635.4 1017.8 1627.4zM800.5 1629.4 794.7 1624.6 800.5 1621.3 803 1624.6zM858.5 1627.9 848.3 1624.6 858.5 1622.2 860.5 1624.6zM887.4 1627.4 885.4 1624.6 887.4 1623 889.7 1624.6zM1071.5 1624.6 1075.8 1626.3 1078.7 1624.6 1075.8 1620.5zM430.9 1610.7 438.2 1618.5 448.4 1610.7 438.2 1603.6zM457.7 1610.7 467.2 1619.9 473.9 1610.7 467.2 1597.9zM916.4 1614 913.9 1610.7 911.5 1596.8 916.4 1593.7 920.3 1596.8 920.5 1610.7zM1161.5 1610.7 1162.8 1611.9 1163.8 1610.7 1162.8 1609.5zM873 1600 870.1 1596.8 873 1595.1 874.8 1596.8zM1074.1 1596.8 1075.8 1600.9 1080.2 1596.8 1075.8 1588.4zM583.1 1583.2 582.2 1582.8 583.1 1582.4 588.9 1582.8zM901.9 1583.9 901.4 1582.8 901.9 1582.3 902.6 1582.8zM930.9 1583.6 930.3 1582.8 930.9 1581.4 945.4 1576.1 952.4 1582.8 945.4 1587zM1042.2 1582.8 1046.8 1588.4 1052.6 1582.8 1046.8 1577.2zM1335.8 1582.8 1336.6 1583.5 1337.4 1582.8 1336.6 1582zM1086.4 1568.9 1090.3 1572.1 1098 1568.9 1090.3 1561.4zM1114.9 1568.9 1119.3 1571.7 1121.5 1568.9 1119.3 1564.7zM916.4 1555.4 915.9 1554.9 916.4 1554.5 918.4 1554.9zM1128 1541 1133.8 1544.7 1137.1 1541 1133.8 1537.3zM510.7 1530.3 508.2 1527.1 510.7 1524.9 512.4 1527.1zM959.9 1527.7 959.4 1527.1 959.9 1526.6 960.9 1527.1zM1099 1527.1 1104.8 1534.5 1110.6 1527.1 1104.8 1519.6zM496.2 1518.7 489.8 1513.1 496.2 1509.5 501.5 1513.1zM1017.8 1516.8 1016 1513.1 1013.8 1499.2 1017.8 1496.4 1021.2 1499.2 1022.2 1513.1zM452.7 1504.1 446 1499.2 452.7 1497.8 456.8 1499.2zM418.4 1485.2 423.8 1489.8 436.3 1485.2 423.8 1473.2zM1173.1 1485.2 1177.2 1489.3 1181.9 1485.2 1177.2 1482.5zM481.7 1474.6 478.3 1471.3 481.7 1469.1 483.3 1471.3zM1088.1 1471.3 1090.3 1475.5 1092.5 1471.3 1090.3 1470.3zM452.7 1444.1 451.8 1443.4 452.7 1442.3 455.6 1443.4zM481.7 1444.1 478.8 1443.4 475.3 1429.5 481.7 1425.4 488.1 1429.5 483.2 1443.4zM467.2 1416.5 466.7 1415.5 460.3 1401.6 467.2 1399 471.1 1401.6 467.8 1415.5zM1003.4 1419.7 999.9 1415.5 1003.4 1408.8 1009.2 1415.5zM419.1 1401.6 423.8 1404.8 429.6 1401.6 423.8 1397.1zM525.2 1402.1 524 1401.6 525.2 1400.8 525.6 1401.6zM481.7 1388.5 481.2 1387.7 481.7 1386.5 482.2 1387.7zM930.9 1388.5 930.1 1387.7 930.9 1386.5 931.4 1387.7zM974.4 1390.4 971.5 1387.7 974.4 1386.5 975.2 1387.7zM1003.4 1392.5 1000.8 1387.7 1003.4 1383.8 1007.4 1387.7zM1127.5 1387.7 1133.8 1392.8 1138 1387.7 1133.8 1384zM467.2 1369.3 459 1359.8 467.2 1353 472.2 1359.8zM583.1 1332.2 582.8 1331.9 583.2 1331.4 583.5 1331.9zM974.4 1337.5 972.4 1331.9 974.4 1329.1 976.3 1331.9zM1068.1 1331.9 1075.8 1339.3 1078.4 1331.9 1075.8 1329.1zM1132.5 1331.9 1133.8 1334 1134.7 1331.9 1133.8 1331.1zM481.7 1320.3 478.2 1318 481.7 1314.6 486.1 1318zM945.4 1318.8 944.6 1318 945.4 1317.2 947.3 1318zM1029.8 1318 1032.3 1323.5 1035.7 1318 1032.3 1314.2zM1059.9 1318 1061.3 1322.1 1062.6 1318 1061.3 1316.9zM988.9 1309.1 982.5 1304 988.9 1297.2 998 1304zM1040.3 1304 1046.8 1309.6 1051.6 1304 1049.7 1290.1 1046.8 1288.4 1045.7 1290.1zM1073.2 1304 1075.8 1306.8 1078.4 1304 1075.8 1300.8zM887.4 1290.8 886.9 1290.1 887.4 1289 888.2 1290.1zM926.6 1276.1 930.9 1277.8 932 1276.1 930.9 1272zM958.8 1276.1 959.9 1280.3 964.2 1276.1 962.1 1262.2 959.9 1261 951.2 1262.2zM699.1 1262.7 698.8 1262.2 699.1 1261.5 699.6 1262.2zM887.4 1265.5 880.7 1262.2 887.4 1258.3 897.6 1262.2zM936.7 1248.3 945.4 1256.6 946.6 1248.3 945.4 1246.6zM973.1 1248.3 974.4 1250.4 977.3 1248.3 974.4 1247.1zM655.6 1241.2 651.5 1234.3 655.6 1224.9 668.6 1234.3zM838.6 1234.3 844 1240.4 853.4 1234.3 844 1229.8zM742.5 1222.2 736.7 1220.4 742.5 1219 744 1220.4zM588.9 1206.4 597.6 1212 610.7 1206.4 597.6 1200.2zM796.6 1206.4 800.5 1210.9 815 1214.5 823.3 1206.4 829.5 1194.6 830.4 1192.5 829.5 1190.8 815 1188.9 800.5 1183.4 791.1 1192.5zM851.9 1206.4 858.5 1212.7 868.9 1206.4 858.5 1201.9zM516.5 1192.5 525.2 1202.5 535.6 1192.5 525.2 1180zM699.1 1198.1 690.4 1192.5 699.1 1181.3 701.4 1192.5zM728 1193.6 727.6 1192.5 728 1186.9 728.6 1192.5zM767.2 1192.5 771.5 1194.2 775.9 1192.5 771.5 1189.7zM711.4 1164.6 713.6 1166.3 717.9 1164.6 713.6 1163.2zM780.2 1164.6 786 1175.8 789.9 1164.6 786 1160.9zM681.7 1150.7 684.6 1155.1 689.2 1150.7 684.6 1147zM608.8 1136.7 612.1 1141.2 615.4 1136.7 612.1 1134.3zM1058.7 1067 1061.3 1069.5 1063.3 1067 1061.3 1065z"/>
<path fill="none" stroke="#6d6d6d" stroke-width="6.25" stroke-linejoin="round" d="M664.9 1666.5 670.1 1672 674.4 1666.5 673.5 1652.5 670.1 1648.9 665.9 1652.5zM706 1666.5 713.6 1671 728 1672.9 734.1 1666.5 729 1652.5 736.2 1638.6 728 1628.8 721.1 1624.6 728 1621.3 742.5 1619.1 750 1610.7 742.5 1604.4 731.9 1596.8 742.5 1588 757 1587.3 771.5 1596.1 772.2 1596.8 771.5 1597.5 761.5 1610.7 757 1620.2 751.2 1624.6 757 1632.1 760.9 1624.6 771.5 1619.5 780 1610.7 786 1605.3 797.2 1610.7 800.5 1612.9 809.2 1624.6 815 1635.8 829.5 1629.8 834.2 1624.6 832.8 1610.7 844 1604.9 857 1610.7 858.5 1611.7 862.8 1610.7 858.5 1602.3 857.7 1596.8 844 1583.5 838.2 1582.8 844 1582 858.5 1578.9 861.8 1582.8 873 1588.2 882.7 1596.8 876.3 1610.7 887.4 1616 899.4 1624.6 893.2 1638.6 901.9 1640 904.1 1638.6 909.7 1624.6 903 1610.7 901.9 1606.5 897.9 1596.8 894.2 1582.8 901.9 1574.7 912.2 1582.8 916.4 1586.1 920.6 1582.8 926.6 1568.9 916.4 1562.4 908.7 1554.9 916.4 1547.5 930.9 1547 945.4 1551 959.9 1548.2 971.5 1554.9 972.6 1568.9 974.4 1569.8 976.6 1568.9 975.8 1554.9 988.9 1542.4 1003.4 1546.6 1008.6 1541 1003.4 1531 988.9 1538.9 974.4 1527.7 959.9 1537 952.2 1527.1 959.9 1519.6 974.4 1526.4 986.6 1513.1 988.9 1503.4 990.6 1513.1 1003.4 1525.4 1013.5 1527.1 1017.8 1528.3 1019.6 1527.1 1017.8 1526.1 1011.4 1513.1 1003.4 1501.8 991.8 1499.2 1000.5 1485.2 1003.4 1480.4 1017.8 1483.8 1026.5 1471.3 1032.3 1462.9 1036.2 1457.4 1032.3 1454.2 1024.6 1457.4 1017.8 1461.3 1003.4 1466.1 990.8 1471.3 988.9 1472.2 987.9 1471.3 982.1 1457.4 988.9 1452.5 1003.4 1449.7 1016.4 1443.4 1003.4 1430.9 988.9 1437.4 981.3 1443.4 974.4 1451.8 968.6 1457.4 959.9 1465.7 954.9 1457.4 947.6 1443.4 958.2 1429.5 959.9 1425.6 967.3 1415.5 959.9 1407.2 956.7 1401.6 953.5 1387.7 950.8 1373.7 945.4 1361.6 936 1373.7 938.6 1387.7 930.9 1400.4 917.7 1387.7 920.8 1373.7 916.4 1365.4 901.9 1362.6 901.3 1359.8 901.9 1359.2 914.6 1345.8 904.8 1331.9 916.4 1327.7 921.4 1331.9 926.6 1345.8 930.9 1350 933.1 1345.8 945.4 1334 947.6 1331.9 945.4 1330.7 932.2 1318 930.9 1316.8 920.6 1304 916.4 1296.8 907.7 1290.1 901.9 1288.1 899 1290.1 887.4 1301.2 884.1 1304 887.4 1307.7 892.8 1318 893.2 1331.9 887.4 1332.7 873 1335.8 869.6 1331.9 873 1322.1 874.7 1318 873 1316.6 859.9 1304 858.5 1301.9 844 1297.7 837.6 1290.1 829.5 1278.9 820.5 1290.1 815 1299.6 811.1 1304 800.5 1314.2 793.4 1304 796.2 1290.1 786 1278.9 782.6 1276.1 783.1 1262.2 780.2 1248.3 771.5 1240.6 762 1248.3 757 1257.7 742.5 1253.8 728 1255 725.4 1248.3 724.6 1234.3 713.6 1226.8 703.5 1234.3 699.1 1243.8 694.4 1248.3 684.6 1251.2 674.7 1248.3 670.1 1245.1 658.5 1248.3 655.6 1253.8 653.9 1262.2 646 1276.1 641.1 1280.9 634 1276.1 632 1262.2 641.1 1254.5 654.2 1248.3 646.9 1234.3 641.1 1224.7 632.6 1234.3 628.1 1248.3 626.6 1250.1 614.1 1262.2 612.1 1267.8 611 1262.2 597.6 1249.4 586.5 1262.2 583.2 1268.7 568.7 1271.7 554.2 1267.3 539.7 1272.4 525.2 1271.6 516.5 1276.1 510.7 1278.5 496.7 1290.1 508.5 1304 497.7 1318 510.7 1324.2 517.2 1318 525.2 1309.2 537.9 1318 539.7 1322.1 554.2 1327 555.9 1331.9 555 1345.8 554.2 1347 552.7 1345.8 539.7 1335.8 529.2 1345.8 525.2 1348.6 518.4 1345.8 510.7 1342.1 507.4 1345.8 496.2 1352.1 485 1345.8 490.7 1331.9 481.7 1326.3 473.6 1331.9 475.9 1345.8 480.9 1359.8 481.7 1364 485.1 1373.7 490.2 1387.7 496.2 1394.8 509.5 1387.7 510.7 1385.8 516.5 1387.7 525.2 1388.9 531.8 1401.6 525.2 1409 510.7 1404.9 496.2 1405.4 483.5 1401.6 481.7 1400.4 480.8 1401.6 475.7 1415.5 481.7 1419.8 496.2 1429 502 1429.5 503.2 1443.4 496.2 1447.6 481.7 1454.6 467.2 1455.7 452.7 1454.6 438.2 1444.8 434.2 1457.4 438.2 1461.5 452.7 1461.1 467.2 1461.5 481.7 1459.8 490 1471.3 496.2 1481.1 510.7 1478.7 525.2 1484.6 527.1 1485.2 525.2 1486.6 510.7 1491.7 496.2 1489 482.5 1499.2 496.2 1504.6 508.8 1513.1 510.7 1515.6 519.6 1527.1 517.5 1541 510.7 1545.9 506 1554.9 507.8 1568.9 510.7 1570.3 525.2 1580 527.1 1582.8 539.7 1588.9 546.7 1596.8 554.2 1603.9 568.7 1600.5 583.1 1605.1 597.6 1604 602 1610.7 612.1 1618.5 621.2 1624.6 626.6 1628.7 641.1 1626.7 655.6 1626.1 659.5 1624.6 670.1 1615.9 684.6 1612.4 697.3 1624.6 693.3 1638.6 699.1 1643.6 707.8 1638.6 713.6 1631.9 717.9 1638.6 723.7 1652.5 713.6 1657.4zM808.7 1666.5 815 1670.5 824.4 1666.5 815 1662.8zM900.2 1666.5 901.9 1667.5 903.7 1666.5 901.9 1665.1zM775.6 1652.5 786 1658.1 793.5 1652.5 786 1648zM840.1 1638.6 844 1649.7 851.7 1638.6 844 1635.4zM551.6 1624.6 554.2 1627.1 565.8 1624.6 554.2 1620.2zM869.2 1624.6 873 1627.9 876.7 1624.6 873 1615.6zM955.7 1624.6 959.9 1628.3 974.4 1628.6 987.7 1624.6 974.4 1616.6 964.5 1610.7 963.2 1596.8 959.9 1592.3 948.3 1596.8 957.8 1610.7zM641.1 1621.9 629.5 1610.7 641.1 1599.5 649.8 1610.7zM713.6 1618.6 707.4 1610.7 713.6 1598.9 718 1610.7zM507.8 1596.8 510.7 1598.2 512.9 1596.8 510.7 1595.4zM612.1 1602 603.9 1596.8 597.6 1592.2 583.1 1589.7 568.7 1585.6 565.8 1582.8 567.1 1568.9 568.7 1565.6 571.2 1568.9 583.1 1576 592.7 1568.9 595.1 1554.9 597.6 1548.4 599.9 1554.9 601.4 1568.9 606.3 1582.8 612.1 1590 620.3 1596.8zM670.1 1605.5 663 1596.8 655.6 1583.9 654.6 1582.8 655.6 1582.4 670.1 1581.1 684.6 1580 691.3 1582.8 691.3 1596.8 684.6 1606.5zM800.5 1599.5 799.9 1596.8 800.5 1595.6 811.6 1582.8 815 1573.1 817.2 1568.9 829.5 1564.1 834.4 1568.9 829.5 1580.7 825.1 1582.8 829.5 1587 831.7 1596.8 829.5 1603.3 815 1603.3zM929.9 1596.8 930.9 1599.5 939.6 1596.8 930.9 1595.6zM626.6 1587.7 622.6 1582.8 626.6 1580.7 629.5 1582.8zM477.9 1568.9 481.7 1570.9 487.5 1568.9 481.7 1565.2zM771.5 1573.2 767.7 1568.9 771.5 1566.4 775.6 1568.9zM699.1 1557.7 698.1 1554.9 699.1 1554.7 699.4 1554.9zM728 1555.7 727.7 1554.9 728 1554.4 728.6 1554.9zM844 1561.2 837.4 1554.9 844 1550.2 852.7 1554.9zM1011.2 1554.9 1017.8 1559.2 1022.6 1554.9 1017.8 1549.1zM901.9 1541.9 901.6 1541 901.9 1540.4 902.9 1541zM1074.4 1541 1075.8 1542 1077.3 1541 1075.8 1539.6zM480.3 1527.1 481.7 1531.2 496.2 1529.8 497.3 1527.1 496.2 1526.3 481.7 1518.7zM858.5 1528.5 855.6 1527.1 858.5 1526.6 859.9 1527.1zM930.9 1515.5 925.9 1513.1 930.9 1509.8 944.7 1499.2 945.4 1498.4 946.2 1499.2 951.8 1513.1 945.4 1519.3zM916.4 1505.1 912.3 1499.2 916.4 1487.3 920.9 1499.2zM445.4 1485.2 452.7 1491.8 467.2 1490.8 475 1485.2 467.2 1477.8 452.7 1476.9zM959.9 1490 955 1485.2 959.9 1475.8 972.2 1485.2zM930.9 1476.6 925.4 1471.3 930.9 1464.5 940.8 1471.3zM525.2 1462.1 517.2 1457.4 525.2 1448.6 532.3 1457.4zM554.2 1458.3 553 1457.4 554.2 1456.9 555.6 1457.4zM916.4 1430.6 915.3 1429.5 916.4 1427.6 930.9 1429 931.4 1429.5 930.9 1430.4zM1055.9 1429.5 1061.3 1434.7 1065.1 1429.5 1065.7 1415.5 1065.5 1401.6 1061.3 1392.5 1058.2 1401.6 1060.1 1415.5zM446.9 1415.5 452.7 1425.6 458 1415.5 452.7 1408.4zM901.9 1422.4 889.2 1415.5 887.4 1413.4 882.5 1401.6 887.4 1396.9 901.9 1397.7 912.1 1401.6 911 1415.5zM984.2 1415.5 988.9 1420 991.2 1415.5 988.9 1410zM450 1387.7 452.7 1393.7 467.2 1392.6 473.3 1387.7 467.2 1380.5 452.7 1375.6zM987.6 1387.7 988.9 1390.4 990 1387.7 988.9 1385.6zM539.7 1377.6 537.4 1373.7 539.7 1371.9 542.2 1373.7zM873 1375.1 872.1 1373.7 873 1368.1 887.4 1373.1 890.3 1373.7 887.4 1374.5zM955.3 1345.8 959.9 1353.3 963.2 1345.8 959.9 1341.4zM583.1 1336.9 577.7 1331.9 583.1 1324.5 588 1331.9zM800.5 1332.4 799.3 1331.9 800.5 1329.1 803.4 1331.9zM829.5 1333.2 822.7 1331.9 829.5 1328.6 832.4 1331.9zM463.9 1318 467.2 1321.7 469.5 1318 467.2 1306.8zM626.6 1318.3 625.5 1318 626.6 1317.4 627 1318zM713.6 1319.2 710.7 1318 713.6 1316.2 715.3 1318zM742.5 1321.2 740.8 1318 742.5 1316 747.6 1318zM844 1324.1 836.9 1318 844 1310.3 848.5 1318zM985 1318 988.9 1322.4 1003.4 1319.6 1004 1318 1003.4 1315.9 988.9 1316.1zM470.1 1304 481.7 1306.3 486.4 1304 481.7 1296.6zM583.1 1308.2 571.6 1304 583.1 1299.2 586.6 1304zM771.5 1306.8 765.1 1304 767.3 1290.1 771.5 1283.3 777.9 1290.1 778.6 1304zM829.5 1309.9 819.6 1304 829.5 1298.8 836.5 1304zM944.2 1304 945.4 1305.2 946.8 1304 945.4 1301.2zM525.2 1295 523.6 1290.1 525.2 1286.2 529.2 1290.1zM568.7 1301.2 565.2 1290.1 568.7 1281.7 573.6 1290.1zM865.5 1290.1 873 1295.7 878.2 1290.1 873 1282.9zM757 1276.6 755.1 1276.1 757 1273.4 758.2 1276.1zM699.1 1270.3 694.2 1262.2 699.1 1251 708.3 1262.2zM824.8 1262.2 829.5 1271.3 837 1262.2 829.5 1256.2zM849.8 1262.2 858.5 1269.4 865 1262.2 858.5 1258.3zM560.2 1248.3 568.7 1257.9 577.8 1248.3 568.7 1240.7zM794 1248.3 800.5 1255.4 805.7 1248.3 800.5 1235.7zM868.9 1248.3 873 1254.5 881.6 1248.3 873 1242.7zM707.2 1192.5 713.6 1200.9 720.9 1192.5 713.6 1187.1zM737.3 1192.5 742.5 1200.9 747.3 1192.5 742.5 1188.3z"/>
<path fill="none" stroke="#929292" stroke-width="6.25" stroke-linejoin="round" d="M726.5 1610.7 728 1612.4 732.4 1610.7 728 1607.9zM769.9 1610.7 771.5 1612.1 772.9 1610.7 771.5 1608.6zM582.6 1596.8 583.1 1597 583.9 1596.8 583.1 1596.5zM782.5 1596.8 786 1599 789.6 1596.8 786 1592.9zM842 1596.8 844 1598 846.1 1596.8 844 1594.7zM768.6 1582.8 771.5 1584.9 774 1582.8 771.5 1581.3zM545.8 1568.9 554.2 1576.1 560 1568.9 555.6 1554.9 568.7 1548.7 579.3 1541 583.1 1539.4 594.4 1527.1 597.6 1514.5 600.9 1527.1 612.1 1536.7 625.7 1541 626.6 1542.4 639.7 1554.9 641.1 1555.9 641.6 1554.9 655.6 1544.8 670.1 1550.9 684.6 1554 699.1 1551.1 704.5 1554.9 713.6 1564.7 722.6 1554.9 728 1546.3 737.9 1554.9 728 1568.5 727.5 1568.9 728 1569.3 742.5 1572.2 757 1574.5 760.6 1568.9 757 1561.4 750.3 1554.9 757 1552.2 760.4 1554.9 771.5 1561.7 781 1554.9 777.3 1541 786 1531.4 794.7 1541 797.6 1554.9 800.5 1559.1 815 1557.3 829.5 1555.2 829.7 1554.9 844 1544.7 852.7 1541 844 1534.5 838.6 1527.1 829.5 1518.9 819 1513.1 829.5 1505 843.5 1513.1 844 1513.7 858.5 1519.2 873 1522.2 881.3 1513.1 887.4 1505.6 901.9 1509.4 904.6 1499.2 901.9 1494.8 896.6 1485.2 901.9 1471.9 904.8 1471.3 916.4 1469.1 925.1 1457.4 916.4 1447.6 907.7 1457.4 901.9 1470.4 897.4 1457.4 897.6 1443.4 896.7 1429.5 887.4 1424.5 873 1417.8 871.5 1415.5 873 1404.4 873.2 1401.6 873 1400.7 862.8 1387.7 858.9 1373.7 858.9 1359.8 858.5 1357 856.5 1345.8 844 1333.8 829.5 1339.1 821.5 1345.8 815 1352.6 807.3 1345.8 800.5 1339.8 792.1 1345.8 786 1349.4 772.2 1345.8 782.3 1331.9 786 1323.5 788.9 1318 786 1312.4 771.5 1310.9 760.7 1318 757 1322.4 745.1 1331.9 742.5 1334.2 733 1345.8 728 1352.5 713.6 1348.1 702.5 1345.8 713.6 1341.4 723.5 1331.9 728 1325.3 733.1 1318 728 1306.3 723 1318 713.6 1324.8 699.1 1318.9 693.3 1318 699.1 1315.2 713.6 1308.1 725.2 1304 713.6 1299.1 703.1 1290.1 699.1 1282.4 692.5 1276.1 689.3 1262.2 684.6 1256.8 674.6 1262.2 680 1276.1 670.1 1280.3 660.2 1276.1 655.6 1272.3 653.1 1276.1 641.1 1287.7 626.6 1282.4 620.2 1290.1 612.1 1303.1 607.1 1290.1 597.6 1282.8 586.9 1290.1 595.9 1304 597.6 1306.4 612.1 1305.4 626.6 1308.5 633.2 1304 641.1 1295.2 649 1304 641.1 1308.8 633.7 1318 626.6 1324.3 612.1 1323 597.6 1324.7 592.9 1331.9 597.6 1342.7 600.5 1345.8 597.6 1354.2 593.9 1345.8 583.1 1341.8 572.2 1331.9 568.7 1322.1 563.6 1331.9 568.2 1345.8 556.2 1359.8 554.2 1372.3 553.8 1373.7 547.8 1387.7 554.2 1395.3 557.9 1401.6 555.6 1415.5 554.2 1426.7 548.4 1415.5 545.5 1401.6 539.7 1397.4 538.4 1401.6 531 1415.5 525.2 1416.9 517.2 1429.5 525.2 1438.6 531.3 1443.4 539.7 1453.8 554.2 1450.1 568.7 1453 576.8 1457.4 572.5 1471.3 568.7 1476.9 554.2 1482.5 553.4 1485.2 539.7 1495.8 535.3 1499.2 532.1 1513.1 539.7 1525.2 554.2 1522.9 559.5 1527.1 554.2 1540.4 551.3 1541 553.6 1554.9zM582.8 1568.9 583.1 1569.1 583.4 1568.9 583.5 1554.9 583.1 1552.2 581.7 1554.9zM608.6 1568.9 612.1 1576.3 626.6 1570.7 631 1568.9 626.6 1563.3 617.9 1554.9 612.1 1550.8 610.2 1554.9zM645.2 1568.9 655.6 1576 670.1 1576.7 683.6 1568.9 670.1 1558.5 655.6 1561.2zM783.4 1568.9 786 1572.7 792.4 1568.9 786 1564.5zM843.7 1568.9 844 1569.3 844.9 1568.9 844 1568.6zM866.6 1541 873 1546.1 887.4 1550.2 895.8 1541 901.9 1530.5 916.4 1539.8 930.9 1535.1 943.5 1527.1 930.9 1521.9 916.4 1515.6 901.9 1516.8 891.3 1527.1 887.4 1528.2 873 1534.9zM969.1 1541 974.4 1544.8 978.4 1541 974.4 1537.6zM655.6 1530.8 644 1527.1 655.6 1525.7 657.3 1527.1zM713.6 1536.6 705.8 1527.1 712.3 1513.1 713.6 1512.3 719.4 1513.1 721.3 1527.1zM612.1 1514.7 600.5 1513.1 607.5 1499.2 612.1 1491.6 618.2 1499.2 613.6 1513.1zM670.1 1517.5 666 1513.1 670.1 1508.2 673 1513.1zM965.7 1513.1 974.4 1515.2 976.3 1513.1 974.4 1510.3zM998.3 1513.1 1003.4 1518 1006.6 1513.1 1003.4 1508.6zM495.8 1499.2 496.2 1499.3 496.8 1499.2 496.2 1498.9zM583.1 1504.8 569.6 1499.2 583.1 1496.4 586.8 1499.2zM728 1508.9 725.5 1499.2 728 1497.2 742.5 1498.4 757 1497.1 771.5 1486.6 778 1499.2 771.5 1504.2 757 1504.2 742.5 1500.3zM873 1505.1 869.3 1499.2 873 1494.4 880.8 1499.2zM929.3 1499.2 930.9 1500.9 933.1 1499.2 930.9 1490.8zM959.5 1499.2 959.9 1502 960.5 1499.2 959.9 1498.9zM452.5 1485.2 452.7 1485.4 453.3 1485.2 452.7 1485zM655.6 1487.5 649.1 1485.2 655.6 1483.3 657.8 1485.2zM942.5 1485.2 945.4 1485.6 945.7 1485.2 945.4 1484.7zM520.6 1471.3 525.2 1474.7 539.7 1474.6 548.4 1471.3 539.7 1465.7 525.2 1468.9zM597.6 1474.4 591.1 1471.3 597.6 1467.1 600.5 1471.3zM786 1472.2 784.4 1471.3 786 1469.4 789.9 1471.3zM844 1475.7 840 1471.3 844 1466.9 848.6 1471.3zM872.9 1476.9 867.6 1471.3 858.5 1462.5 853.1 1457.4 850.7 1443.4 858.5 1436 872.9 1437.8 878.7 1443.4 878.5 1457.4 887.4 1467 901 1471.3 887.4 1474.8zM699.1 1444.3 696.2 1443.4 699.1 1442.4 700.5 1443.4zM786 1445.3 783.7 1443.4 782.1 1429.5 786 1416.2 793.9 1429.5 789.9 1443.4zM815 1450.9 805.1 1443.4 815 1436 828.9 1443.4zM583.1 1433.6 577 1429.5 583.1 1426.2 594.2 1429.5zM626.6 1432.3 625.8 1429.5 620.1 1415.5 626.6 1411.4 635.3 1415.5 638.2 1429.5zM757 1437 753.1 1429.5 757 1425.9 761 1429.5zM939.9 1429.5 945.4 1435.3 950.5 1429.5 945.4 1417.8 943.1 1415.5 930.9 1409.7 923.3 1415.5 930.9 1420.9zM485.4 1415.5 496.2 1421.6 507 1415.5 496.2 1411zM815 1423.6 804.5 1415.5 813.1 1401.6 804.8 1387.7 815 1382.1 818.7 1387.7 829.5 1398.1 842.7 1387.7 844 1382.1 849.8 1387.7 857 1401.6 850.4 1415.5 844 1429 838.4 1415.5 829.5 1404.9 820.6 1415.5zM612.1 1410.4 609.8 1401.6 612.1 1397.2 619 1401.6zM670.1 1403.1 664.9 1401.6 668.1 1387.7 670.1 1382.6 673.4 1387.7 672.7 1401.6zM941.4 1401.6 945.4 1411.8 948.3 1401.6 945.4 1391.4zM568.7 1389.5 564.8 1387.7 568.7 1385.4 569.9 1387.7zM886.5 1387.7 887.4 1387.9 888.4 1387.7 887.4 1387.3zM521.7 1373.7 525.2 1376.1 527.1 1373.7 525.2 1365.4zM626.6 1375.7 623.7 1373.7 626.6 1372.2 635.3 1373.7zM829.5 1378.1 822.6 1373.7 829.5 1366.2 840.5 1373.7zM495.7 1359.8 496.2 1361.2 496.8 1359.8 496.2 1359.5zM528.1 1359.8 539.7 1363.8 549 1359.8 539.7 1352.3zM757 1370.9 754.1 1359.8 757 1358.4 758.7 1359.8zM800.5 1362 799.5 1359.8 800.5 1357.9 802.2 1359.8zM883.5 1359.8 887.4 1363.2 891 1359.8 901.9 1350.3 906.1 1345.8 901.9 1340.9 887.4 1345.4 886.5 1345.8zM670.1 1319.2 658.5 1318 670.1 1306.8 675.9 1318zM855.1 1318 858.5 1326.9 863.6 1318 858.5 1313zM900.5 1318 901.9 1320.3 910.6 1318 901.9 1309.6zM731.9 1304 742.5 1307.1 753.2 1304 757 1301.8 761.1 1290.1 757 1284.8 746.9 1290.1 742.5 1296.4zM504.4 1290.1 510.7 1296.7 516.5 1290.1 510.7 1284.9zM549.8 1290.1 554.2 1292.9 555.9 1290.1 557.1 1276.1 554.2 1274.7 551.3 1276.1zM567.3 1248.3 568.7 1249.8 570.1 1248.3 568.7 1247.1zM706.8 1248.3 713.6 1256.6 718.2 1248.3 715.3 1234.3 713.6 1233.1 712 1234.3zM771.2 1248.3 771.5 1248.8 771.8 1248.3 771.5 1248zM639.8 1234.3 641.1 1238.5 642 1234.3 641.1 1232.8zM713.4 1192.5 713.6 1192.8 713.8 1192.5 713.6 1192.3z"/>
<path fill="none" stroke="#b6b6b6" stroke-width="6.25" stroke-linejoin="round" d="M655 1568.9 655.6 1569.3 670.1 1571.9 675.4 1568.9 670.1 1564.8 655.6 1568.5zM710 1554.9 713.6 1558.8 717.1 1554.9 713.6 1548.1zM768.6 1554.9 771.5 1556.7 774 1554.9 771.5 1549.4zM665.1 1541 670.1 1543.6 684.6 1546.1 699.1 1547.4 709.4 1541 699.1 1529.6 693.7 1527.1 699.1 1518 701.3 1513.1 713.6 1505.6 719.4 1499.2 728 1492.5 742.5 1491.6 757 1489.2 762 1485.2 770.3 1471.3 771.5 1470.3 783.4 1457.4 771.5 1447 758.1 1457.4 757 1458.6 742.5 1462.5 737.2 1457.4 738.2 1443.4 742.5 1441.3 746.1 1429.5 757 1419.6 763.4 1415.5 771.5 1406.9 783.8 1401.6 786 1400.7 787.5 1401.6 800.5 1409.1 806.1 1401.6 800.5 1394.8 794.7 1387.7 786 1379.3 776.6 1387.7 771.5 1395.7 757 1390.8 745.4 1387.7 748.3 1373.7 742.5 1366.1 729.8 1373.7 740.6 1387.7 742.5 1390.4 745.9 1401.6 742.5 1407.2 738.2 1415.5 728 1421.5 713.6 1418.3 699.1 1423.6 695.1 1415.5 699.1 1407.5 713.6 1411.4 718.6 1401.6 713.6 1398.8 709.5 1387.7 713.6 1377.9 725.2 1373.7 726.4 1359.8 713.6 1352.3 703 1359.8 704.9 1373.7 699.1 1375.1 685.2 1387.7 684.6 1391.8 682.6 1401.6 670.1 1408.7 660.7 1415.5 657.8 1429.5 657.9 1443.4 655.6 1454.6 652.7 1457.4 641.1 1468.5 638.2 1471.3 641.1 1472.4 655.6 1476 666 1485.2 670.1 1494.7 675.9 1499.2 680 1513.1 671.8 1527.1 670.1 1529.8zM749.9 1541 757 1545.4 765 1541 757 1532.2 750.8 1527.1 748.3 1513.1 742.5 1509.8 738.2 1513.1 734.3 1527.1 742.5 1533zM882.5 1541 887.4 1543.4 889.6 1541 887.4 1537.7zM567.1 1527.1 568.7 1530.3 578.8 1527.1 568.7 1524.3zM826.9 1527.1 829.5 1531.9 831 1527.1 829.5 1525.7zM913 1527.1 916.4 1529.2 923.2 1527.1 916.4 1525.1zM543.5 1513.1 554.2 1517 560.5 1513.1 554.2 1505.5zM625.9 1513.1 626.6 1514.5 641.1 1521.6 655.6 1513.8 656.2 1513.1 664.3 1499.2 655.6 1496.1 646.9 1499.2 641.1 1501 626.6 1510.3zM595.8 1499.2 597.6 1501.6 599.3 1499.2 597.6 1489.4zM849.4 1499.2 858.5 1509.4 862.7 1499.2 873 1485.7 887.4 1489.1 889 1485.2 887.4 1483.5 873 1484.8 860 1471.3 858.5 1469.8 856.8 1471.3 844 1483.6 840.6 1485.2 844 1490.1zM576.8 1485.2 583.1 1489.6 595.9 1485.2 583.1 1478.4zM620.8 1485.2 626.6 1493.6 631.6 1485.2 626.6 1476.9zM780.2 1485.2 786 1492.1 794 1485.2 786 1480.1zM805.2 1485.2 815 1493.8 823.9 1485.2 829.5 1477.2 833 1471.3 829.5 1461.8 822.4 1471.3 815 1475.9zM611.5 1471.3 612.1 1472.7 615 1471.3 626.6 1465.7 635.3 1457.4 626.6 1451.8 612.1 1447.1 603 1457.4zM790.6 1457.4 800.5 1463.3 808.7 1457.4 800.5 1451.4zM837.2 1457.4 844 1459 845.5 1457.4 844 1452.5zM571.6 1443.4 583.1 1448.2 590.1 1443.4 583.1 1440.8zM684.6 1449 680.2 1443.4 684.6 1430.9 699.1 1433.8 712.8 1443.4 699.1 1451.6zM524.7 1429.5 525.2 1430 528.1 1429.5 525.2 1428.8zM603.9 1429.5 612.1 1440.9 619.3 1429.5 612.1 1420.9zM768 1429.5 771.5 1437.4 775 1429.5 771.5 1424.2zM567.9 1415.5 568.7 1418.3 583.1 1420.2 591 1415.5 597.6 1412 605.7 1401.6 612.1 1389.3 626.6 1396.4 631.3 1401.6 641.1 1408.4 649.8 1401.6 655.6 1395.3 660.5 1387.7 655.6 1381.5 641.1 1386.7 626.6 1382.9 612.8 1373.7 626.6 1366.7 634.7 1359.8 641.1 1353.6 655.6 1358.9 657 1359.8 670.1 1368.1 676.6 1359.8 670.1 1352.3 665.3 1345.8 655.6 1337.7 641.1 1336.1 630.7 1331.9 626.6 1330.6 622.6 1331.9 612.1 1344.4 611.5 1345.8 604.4 1359.8 597.6 1369.5 590.3 1359.8 583.1 1349 568.7 1354.2 563.8 1359.8 568.7 1368.5 576.2 1373.7 580.9 1387.7 574.5 1401.6 568.7 1412.8zM827.2 1415.5 829.5 1423.9 831.8 1415.5 829.5 1412.8zM858 1415.5 858.5 1417.4 859.2 1415.5 858.5 1414.7zM827.6 1387.7 829.5 1389.4 831.7 1387.7 829.5 1386zM773.3 1359.8 786 1365.9 791.3 1359.8 786 1355.7zM740.1 1345.8 742.5 1351.4 757 1346.5 757.9 1345.8 763.8 1331.9 757 1330.3 755 1331.9 742.5 1342.8zM829 1345.8 829.5 1347.2 832.4 1345.8 829.5 1345.5zM667.6 1331.9 670.1 1335.2 684.6 1339.6 699.1 1338 713.6 1333.5 715.3 1331.9 713.6 1330.7 699.1 1326.8 684.6 1325.8 670.1 1329.7zM640.7 1318 641.1 1319.4 641.9 1318 641.1 1317.5zM767.3 1318 771.5 1328.2 777.9 1318 771.5 1315.2zM676.9 1304 684.6 1312 694.3 1304 684.6 1291.1 682.8 1290.1 670.1 1286.2 655.6 1280.1 645.3 1290.1 655.6 1300.7 670.1 1295.7z"/>
<path fill="none" stroke="#dbdbdb" stroke-width="6.25" stroke-linejoin="round" d="M689.8 1541 699.1 1543.5 703.1 1541 699.1 1536.5zM636 1513.1 641.1 1516 646.2 1513.1 641.1 1509.1zM721.7 1485.2 728 1487.7 740.7 1485.2 736.5 1471.3 728 1463.2 720.8 1471.3zM814.3 1485.2 815 1485.8 815.6 1485.2 815 1484.6zM676 1471.3 684.6 1480.8 699.1 1478.3 705.1 1471.3 699.1 1462.6 684.6 1459.3zM770.6 1457.4 771.5 1458.2 772.3 1457.4 771.5 1456.7zM667.9 1443.4 670.1 1446.4 671.9 1443.4 670.1 1439.2zM611.6 1429.5 612.1 1430.3 612.6 1429.5 612.1 1428.9zM726.6 1429.5 728 1430.6 729.9 1429.5 728 1428.9zM668.4 1415.5 670.1 1419.7 684.6 1421.9 689.3 1415.5 684.6 1408.6 670.1 1414.3zM589.1 1401.6 597.6 1406.6 601.6 1401.6 598.8 1387.7 597.6 1386.3 596.4 1387.7zM691.8 1387.7 699.1 1397.2 704.5 1387.7 699.1 1381.1zM784.3 1387.7 786 1390 787.6 1387.7 786 1386.2zM615.8 1359.8 626.6 1361 628.1 1359.8 626.6 1356.3zM708.9 1359.8 713.6 1367.4 719.3 1359.8 713.6 1356.4zM637.5 1345.8 641.1 1347.2 655.6 1349.3 658.2 1345.8 655.6 1343.7 641.1 1344.1zM684.1 1304 684.6 1304.6 685.2 1304 684.6 1303.1zM651.5 1290.1 655.6 1294.3 664.9 1290.1 655.6 1286.2z"/>
<path fill="none" stroke="#ffffff" stroke-width="6.25" stroke-linejoin="round" d="M681.9 1471.3 684.6 1474.3 690.8 1471.3 684.6 1467.5zM698.1 1387.7 699.1 1388.9 699.8 1387.7 699.1 1386.8z"/>
</g>
<rect x="2610.5" y="720.5" width="150" height="1440" fill="url(#cg)" stroke="#000" stroke-width="3.1"/>
<rect x="360.5" y="120.5" width="1440.0" height="480.0" fill="none" stroke="#000" stroke-width="3.1"/>
<rect x="360.5" y="720.5" width="1440.0" height="1440.0" fill="none" stroke="#000" stroke-width="3.1"/>
<rect x="1920.5" y="720.5" width="570.0" height="1440.0" fill="none" stroke="#000" stroke-width="3.1"/>
<path d="M796 600.5v-33.3M796 120.5v33.3M1231 600.5v-33.3M1231 120.5v33.3M1666 600.5v-33.3M1666 120.5v33.3M448 600.5v-16.7M448 120.5v16.7M535 600.5v-16.7M535 120.5v16.7M622 600.5v-16.7M622 120.5v16.7M709 600.5v-16.7M709 120.5v16.7M883 600.5v-16.7M883 120.5v16.7M970 600.5v-16.7M970 120.5v16.7M1057 600.5v-16.7M1057 120.5v16.7M1144 600.5v-16.7M1144 120.5v16.7M1318 600.5v-16.7M1318 120.5v16.7M1405 600.5v-16.7M1405 120.5v16.7M1492 600.5v-16.7M1492 120.5v16.7M1579 600.5v-16.7M1579 120.5v16.7M1753 600.5v-16.7M1753 120.5v16.7M796 2160.5v-33.3M796 720.5v33.3M1231 2160.5v-33.3M1231 720.5v33.3M1666 2160.5v-33.3M1666 720.5v33.3M448 2160.5v-16.7M448 720.5v16.7M535 2160.5v-16.7M535 720.5v16.7M622 2160.5v-16.7M622 720.5v16.7M709 2160.5v-16.7M709 720.5v16.7M883 2160.5v-16.7M883 720.5v16.7M970 2160.5v-16.7M970 720.5v16.7M1057 2160.5v-16.7M1057 720.5v16.7M1144 2160.5v-16.7M1144 720.5v16.7M1318 2160.5v-16.7M1318 720.5v16.7M1405 2160.5v-16.7M1405 720.5v16.7M1492 2160.5v-16.7M1492 720.5v16.7M1579 2160.5v-16.7M1579 720.5v16.7M1753 2160.5v-16.7M1753 720.5v16.7M360.5 196.9h33.3M1800.5 196.9h-33.3M360.5 519.8h16.7M1800.5 519.8h-16.7M360.5 439.1h16.7M1800.5 439.1h-16.7M360.5 358.4h16.7M1800.5 358.4h-16.7M360.5 277.7h16.7M1800.5 277.7h-16.7M360.5 1966h33.3M1800.5 1966h-33.3M360.5 1703h33.3M1800.5 1703h-33.3M360.5 1440h33.3M1800.5 1440h-33.3M360.5 1176.9h33.3M1800.5 1176.9h-33.3M360.5 913.9h33.3M1800.5 913.9h-33.3M360.5 2097.5h16.7M1800.5 2097.5h-16.7M360.5 2031.7h16.7M1800.5 2031.7h-16.7M360.5 1900.2h16.7M1800.5 1900.2h-16.7M360.5 1834.5h16.7M1800.5 1834.5h-16.7M360.5 1768.7h16.7M1800.5 1768.7h-16.7M360.5 1637.2h16.7M1800.5 1637.2h-16.7M360.5 1571.5h16.7M1800.5 1571.5h-16.7M360.5 1505.7h16.7M1800.5 1505.7h-16.7M360.5 1374.2h16.7M1800.5 1374.2h-16.7M360.5 1308.4h16.7M1800.5 1308.4h-16.7M360.5 1242.7h16.7M1800.5 1242.7h-16.7M360.5 1111.2h16.7M1800.5 1111.2h-16.7M360.5 1045.4h16.7M1800.5 1045.4h-16.7M360.5 979.7h16.7M1800.5 979.7h-16.7M360.5 848.2h16.7M1800.5 848.2h-16.7M360.5 782.4h16.7M1800.5 782.4h-16.7M1920.5 1966h33.3M2490.5 1966h-33.3M1920.5 1703h33.3M2490.5 1703h-33.3M1920.5 1440h33.3M2490.5 1440h-33.3M1920.5 1176.9h33.3M2490.5 1176.9h-33.3M1920.5 913.9h33.3M2490.5 913.9h-33.3M1920.5 2097.5h16.7M2490.5 2097.5h-16.7M1920.5 2031.7h16.7M2490.5 2031.7h-16.7M1920.5 1900.2h16.7M2490.5 1900.2h-16.7M1920.5 1834.5h16.7M2490.5 1834.5h-16.7M1920.5 1768.7h16.7M2490.5 1768.7h-16.7M1920.5 1637.2h16.7M2490.5 1637.2h-16.7M1920.5 1571.5h16.7M2490.5 1571.5h-16.7M1920.5 1505.7h16.7M2490.5 1505.7h-16.7M1920.5 1374.2h16.7M2490.5 1374.2h-16.7M1920.5 1308.4h16.7M2490.5 1308.4h-16.7M1920.5 1242.7h16.7M2490.5 1242.7h-16.7M1920.5 1111.2h16.7M2490.5 1111.2h-16.7M1920.5 1045.4h16.7M2490.5 1045.4h-16.7M1920.5 979.7h16.7M2490.5 979.7h-16.7M1920.5 848.2h16.7M2490.5 848.2h-16.7M1920.5 782.4h16.7M2490.5 782.4h-16.7M2318 2160.5v-33.3M2318 720.5v33.3M2000 2160.5v-16.7M2000 720.5v16.7M2079.5 2160.5v-16.7M2079.5 720.5v16.7M2159 2160.5v-16.7M2159 720.5v16.7M2238.5 2160.5v-16.7M2238.5 720.5v16.7M2397.5 2160.5v-16.7M2397.5 720.5v16.7M2477 2160.5v-16.7M2477 720.5v16.7M2760.5 2088.5h-16.7M2760.5 2016.5h-16.7M2760.5 1944.5h-16.7M2760.5 1872.5h-33.3M2760.5 1800.5h-16.7M2760.5 1728.5h-16.7M2760.5 1656.5h-16.7M2760.5 1584.5h-33.3M2760.5 1512.5h-16.7M2760.5 1440.5h-16.7M2760.5 1368.5h-16.7M2760.5 1296.5h-33.3M2760.5 1224.5h-16.7M2760.5 1152.5h-16.7M2760.5 1080.5h-16.7M2760.5 1008.5h-33.3M2760.5 936.5h-16.7M2760.5 864.5h-16.7M2760.5 792.5h-16.7" stroke="#000" stroke-width="2.2" fill="none"/>
<path d="M0.1 2367V2400M0 2399.9H33" stroke="#000" stroke-width="2.6" fill="none"/>
</svg>
<div class="t" style="left:344.1px;top:218.1px;font-size:85.4px;line-height:85.4px;letter-spacing:3.8px;text-shadow:1.17px 0 0 #000,-1.17px 0 0 #000;transform:rotate(0deg) scaleX(0.6) translate(-100%,-72.3px);">500</div>
<div class="t" style="left:344.1px;top:621.3px;font-size:85.4px;line-height:85.4px;letter-spacing:3.8px;text-shadow:1.17px 0 0 #000,-1.17px 0 0 #000;transform:rotate(0deg) scaleX(0.6) translate(-100%,-72.3px);">0</div>
<div class="t" style="left:344.1px;top:1988px;font-size:85.4px;line-height:85.4px;letter-spacing:3.8px;text-shadow:1.17px 0 0 #000,-1.17px 0 0 #000;transform:rotate(0deg) scaleX(0.6) translate(-100%,-72.3px);"><span class="m">−</span>40</div>
<div class="t" style="left:344.1px;top:1725px;font-size:85.4px;line-height:85.4px;letter-spacing:3.8px;text-shadow:1.17px 0 0 #000,-1.17px 0 0 #000;transform:rotate(0deg) scaleX(0.6) translate(-100%,-72.3px);"><span class="m">−</span>20</div>
<div class="t" style="left:344.1px;top:1462px;font-size:85.4px;line-height:85.4px;letter-spacing:3.8px;text-shadow:1.17px 0 0 #000,-1.17px 0 0 #000;transform:rotate(0deg) scaleX(0.6) translate(-100%,-72.3px);">0</div>
<div class="t" style="left:344.1px;top:1198.9px;font-size:85.4px;line-height:85.4px;letter-spacing:3.8px;text-shadow:1.17px 0 0 #000,-1.17px 0 0 #000;transform:rotate(0deg) scaleX(0.6) translate(-100%,-72.3px);">20</div>
<div class="t" style="left:344.1px;top:935.9px;font-size:85.4px;line-height:85.4px;letter-spacing:3.8px;text-shadow:1.17px 0 0 #000,-1.17px 0 0 #000;transform:rotate(0deg) scaleX(0.6) translate(-100%,-72.3px);">40</div>
<div class="t" style="left:361.1px;top:2237px;font-size:85.4px;line-height:85.4px;letter-spacing:3.8px;text-shadow:1.17px 0 0 #000,-1.17px 0 0 #000;transform:rotate(0deg) scaleX(0.6) translate(-50%,-72.3px);">0.0</div>
<div class="t" style="left:796.3px;top:2237px;font-size:85.4px;line-height:85.4px;letter-spacing:3.8px;text-shadow:1.17px 0 0 #000,-1.17px 0 0 #000;transform:rotate(0deg) scaleX(0.6) translate(-50%,-72.3px);">0.5</div>
<div class="t" style="left:1231.1px;top:2237px;font-size:85.4px;line-height:85.4px;letter-spacing:3.8px;text-shadow:1.17px 0 0 #000,-1.17px 0 0 #000;transform:rotate(0deg) scaleX(0.6) translate(-50%,-72.3px);">1.0</div>
<div class="t" style="left:1667.4px;top:2237px;font-size:85.4px;line-height:85.4px;letter-spacing:3.8px;text-shadow:1.17px 0 0 #000,-1.17px 0 0 #000;transform:rotate(0deg) scaleX(0.6) translate(-50%,-72.3px);">1.5</div>
<div class="t" style="left:1922px;top:2237px;font-size:85.4px;line-height:85.4px;letter-spacing:3.8px;text-shadow:1.17px 0 0 #000,-1.17px 0 0 #000;transform:rotate(0deg) scaleX(0.6) translate(-50%,-72.3px);">0</div>
<div class="t" style="left:2319.5px;top:2237px;font-size:85.4px;line-height:85.4px;letter-spacing:3.8px;text-shadow:1.17px 0 0 #000,-1.17px 0 0 #000;transform:rotate(0deg) scaleX(0.6) translate(-50%,-72.3px);">500</div>
<div class="t" style="left:2778px;top:2180.8px;font-size:85.4px;line-height:85.4px;letter-spacing:3.8px;text-shadow:1.17px 0 0 #000,-1.17px 0 0 #000;transform:rotate(0deg) scaleX(0.6) translate(0%,-72.3px);">0.0</div>
<div class="t" style="left:2778px;top:1892.8px;font-size:85.4px;line-height:85.4px;letter-spacing:3.8px;text-shadow:1.17px 0 0 #000,-1.17px 0 0 #000;transform:rotate(0deg) scaleX(0.6) translate(0%,-72.3px);">0.2</div>
<div class="t" style="left:2778px;top:1604.8px;font-size:85.4px;line-height:85.4px;letter-spacing:3.8px;text-shadow:1.17px 0 0 #000,-1.17px 0 0 #000;transform:rotate(0deg) scaleX(0.6) translate(0%,-72.3px);">0.4</div>
<div class="t" style="left:2778px;top:1316.8px;font-size:85.4px;line-height:85.4px;letter-spacing:3.8px;text-shadow:1.17px 0 0 #000,-1.17px 0 0 #000;transform:rotate(0deg) scaleX(0.6) translate(0%,-72.3px);">0.6</div>
<div class="t" style="left:2778px;top:1028.8px;font-size:85.4px;line-height:85.4px;letter-spacing:3.8px;text-shadow:1.17px 0 0 #000,-1.17px 0 0 #000;transform:rotate(0deg) scaleX(0.6) translate(0%,-72.3px);">0.8</div>
<div class="t" style="left:2778px;top:740.8px;font-size:85.4px;line-height:85.4px;letter-spacing:3.8px;text-shadow:1.17px 0 0 #000,-1.17px 0 0 #000;transform:rotate(0deg) scaleX(0.6) translate(0%,-72.3px);">1.0</div>
<div class="t" style="left:1917px;top:281px;font-size:129px;line-height:129px;letter-spacing:0px;text-shadow:2.33px 0 0 #000,-2.33px 0 0 #000;transform:rotate(0deg) scaleX(0.6) translate(0%,-109.2px);">PepDF</div>
<div class="t" style="left:1921px;top:433px;font-size:107.5px;line-height:107.5px;letter-spacing:0px;text-shadow:1.59px 0 0 #000,-1.59px 0 0 #000;transform:rotate(0deg) scaleX(0.6275) translate(0%,-91px);">Time window: 5 ns</div>
<div class="t" style="left:1079.4px;top:2344.8px;font-size:108.7px;line-height:108.7px;letter-spacing:0px;text-shadow:1.60px 0 0 #000,-1.60px 0 0 #000;transform:rotate(0deg) scaleX(0.6262) translate(-50%,-92px);">Lateral displacement (nm)</div>
<div class="t" style="left:2205px;top:2344.8px;font-size:108.7px;line-height:108.7px;letter-spacing:0px;text-shadow:1.67px 0 0 #000,-1.67px 0 0 #000;transform:rotate(0deg) scaleX(0.6) translate(-50%,-92px);"># Counts</div>
<div class="t" style="left:192.2px;top:1435.4px;font-size:108.7px;line-height:108.7px;letter-spacing:0px;text-shadow:1.58px 0 0 #000,-1.58px 0 0 #000;transform:rotate(-90deg) scaleX(0.634) translate(-50%,-92px);">Precession (degrees)</div>
<div class="t" style="left:211.5px;top:361.5px;font-size:108.7px;line-height:108.7px;letter-spacing:0px;text-shadow:1.67px 0 0 #000,-1.67px 0 0 #000;transform:rotate(-90deg) scaleX(0.6) translate(-50%,-92px);"># Counts</div>
<div class="t" style="left:2930.7px;top:1441.3px;font-size:87.5px;line-height:87.5px;letter-spacing:0px;text-shadow:1.46px 0 0 #000,-1.46px 0 0 #000;transform:rotate(-90deg) scaleX(0.617) translate(-50%,-74.1px);">Normalized Mean Time</div>
</body></html>
